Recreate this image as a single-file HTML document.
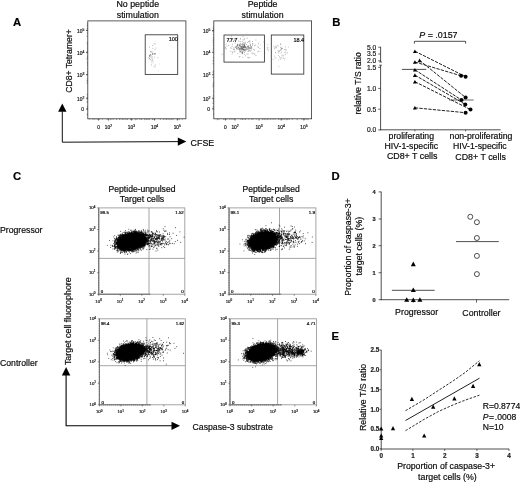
<!DOCTYPE html>
<html><head><meta charset="utf-8"><title>Figure</title>
<style>
html,body{margin:0;padding:0;background:#fff;}
body{width:520px;height:482px;overflow:hidden;font-family:"Liberation Sans",sans-serif;}
text{stroke:#000;stroke-width:0.18px;paint-order:stroke fill;}
svg{display:block;font-family:"Liberation Sans",sans-serif;will-change:transform;filter:grayscale(1) blur(0.3px);}
</style></head><body>
<svg width="520" height="482" viewBox="0 0 520 482">
<rect width="520" height="482" fill="#fff"/>
<text x="12.9" y="25.9" font-size="11.3" text-anchor="start" font-weight="bold" fill="#000">A</text>
<text x="332.2" y="25.8" font-size="11.3" text-anchor="start" font-weight="bold" fill="#000">B</text>
<text x="12.9" y="180.0" font-size="11.3" text-anchor="start" font-weight="bold" fill="#000">C</text>
<text x="331.6" y="179.7" font-size="11.3" text-anchor="start" font-weight="bold" fill="#000">D</text>
<text x="331.5" y="339.9" font-size="11.3" text-anchor="start" font-weight="bold" fill="#000">E</text>
<text x="137.8" y="7.4" font-size="8.8" text-anchor="middle" fill="#0a0a0a">No peptide</text>
<text x="137.8" y="17.6" font-size="8.8" text-anchor="middle" fill="#0a0a0a">stimulation</text>
<rect x="87.8" y="20.9" width="98.10" height="97.90" fill="none" stroke="#333" stroke-width="0.8"/>
<path d="M89.8 118.8v0.8M92.9 118.8v1.1M94.5 118.8v0.7M96.1 118.8v0.7M97.6 118.8v0.7M99.2 118.8v1.0M102.3 118.8v0.9M107.1 118.8v1.0M110.2 118.8v1.3M111.8 118.8v0.8M113.3 118.8v0.9M116.5 118.8v1.1M119.6 118.8v1.1M121.2 118.8v0.7M122.7 118.8v1.2M124.3 118.8v0.9M125.9 118.8v1.0M127.4 118.8v1.3M130.6 118.8v1.1M132.1 118.8v1.3M135.3 118.8v1.4M136.8 118.8v1.0M140.0 118.8v1.0M141.6 118.8v1.2M144.7 118.8v1.3M146.3 118.8v1.2M147.8 118.8v1.1M149.4 118.8v1.3M152.5 118.8v1.2M154.1 118.8v1.2M160.4 118.8v1.0M163.5 118.8v1.0M165.1 118.8v0.8M166.6 118.8v1.2M168.2 118.8v0.9M169.8 118.8v1.3M171.4 118.8v1.0M172.9 118.8v1.3M177.6 118.8v1.0M179.2 118.8v1.3M182.3 118.8v0.8M87.8 23.9h-0.9M87.8 25.4h-1.1M87.8 27.0h-0.7M87.8 28.5h-1.0M87.8 30.0h-1.4M87.8 33.1h-1.1M87.8 36.2h-1.3M87.8 42.3h-1.0M87.8 43.8h-1.1M87.8 45.3h-0.7M87.8 46.9h-0.8M87.8 48.4h-0.7M87.8 49.9h-0.8M87.8 51.5h-1.0M87.8 53.0h-1.3M87.8 56.1h-0.9M87.8 57.6h-1.0M87.8 59.1h-1.3M87.8 62.2h-1.0M87.8 63.7h-0.8M87.8 65.3h-0.9M87.8 68.3h-0.7M87.8 71.4h-0.8M87.8 72.9h-0.7M87.8 74.4h-1.4M87.8 79.0h-1.0M87.8 80.6h-1.2M87.8 82.1h-1.2M87.8 83.6h-0.9M87.8 94.4h-1.1M87.8 95.9h-0.7M87.8 97.4h-0.9M87.8 99.0h-1.2M87.8 102.0h-1.4M87.8 106.6h-0.9M87.8 108.1h-0.8M87.8 109.7h-1.1M87.8 114.3h-1.2" stroke="#333" stroke-width="0.5" fill="none"/>
<line x1="98.6" y1="118.8" x2="98.6" y2="120.5" stroke="#222" stroke-width="0.7"/>
<line x1="108.4" y1="118.8" x2="108.4" y2="120.5" stroke="#222" stroke-width="0.7"/>
<line x1="131.4" y1="118.8" x2="131.4" y2="120.5" stroke="#222" stroke-width="0.7"/>
<line x1="154.6" y1="118.8" x2="154.6" y2="120.5" stroke="#222" stroke-width="0.7"/>
<line x1="177.3" y1="118.8" x2="177.3" y2="120.5" stroke="#222" stroke-width="0.7"/>
<text x="80.8" y="32.9" font-size="4.9" text-anchor="middle" fill="#222">10<tspan dy="-1.86" font-size="3.43">5</tspan></text>
<line x1="86.0" y1="30.5" x2="87.8" y2="30.5" stroke="#222" stroke-width="0.7"/>
<text x="80.8" y="54.7" font-size="4.9" text-anchor="middle" fill="#222">10<tspan dy="-1.86" font-size="3.43">4</tspan></text>
<line x1="86.0" y1="52.300000000000004" x2="87.8" y2="52.300000000000004" stroke="#222" stroke-width="0.7"/>
<text x="80.8" y="77.2" font-size="4.9" text-anchor="middle" fill="#222">10<tspan dy="-1.86" font-size="3.43">3</tspan></text>
<line x1="86.0" y1="74.8" x2="87.8" y2="74.8" stroke="#222" stroke-width="0.7"/>
<text x="80.8" y="100.6" font-size="4.9" text-anchor="middle" fill="#222">10<tspan dy="-1.86" font-size="3.43">2</tspan></text>
<line x1="86.0" y1="98.19999999999999" x2="87.8" y2="98.19999999999999" stroke="#222" stroke-width="0.7"/>
<text x="82.6" y="110.9" font-size="4.9" text-anchor="middle" fill="#222">0</text>
<line x1="86.0" y1="108.9" x2="87.8" y2="108.9" stroke="#222" stroke-width="0.7"/>
<text x="98.6" y="128.6" font-size="4.8" text-anchor="middle" fill="#222">0</text>
<text x="108.4" y="128.6" font-size="4.8" text-anchor="middle" fill="#222">10<tspan dy="-1.82" font-size="3.36">2</tspan></text>
<text x="131.4" y="128.6" font-size="4.8" text-anchor="middle" fill="#222">10<tspan dy="-1.82" font-size="3.36">3</tspan></text>
<text x="154.6" y="128.6" font-size="4.8" text-anchor="middle" fill="#222">10<tspan dy="-1.82" font-size="3.36">4</tspan></text>
<text x="177.3" y="128.6" font-size="4.8" text-anchor="middle" fill="#222">10<tspan dy="-1.82" font-size="3.36">5</tspan></text>
<path d="M152.1 54.5h0.8M149.2 47.2h0.8M152.5 48.3h0.8M150.4 56.9h0.8M152.3 52.1h0.8M153.6 43.8h0.8M150.0 59.6h0.8M155.1 53.9h0.8M152.4 58.8h0.8M154.6 65.3h0.8M152.2 53.9h0.8M154.7 44.1h0.8M150.7 52.6h0.8M150.7 55.7h0.8M157.6 57.7h0.8M150.2 51.6h0.8M153.9 54.3h0.8M154.6 49.8h0.8M152.2 60.2h0.8M151.4 60.1h0.8M150.3 54.5h0.8M150.8 57.8h0.8M153.5 54.0h0.8M149.0 58.2h0.8M153.7 53.5h0.8M154.1 53.6h0.8M149.2 55.3h0.8M154.2 57.1h0.8M151.9 56.9h0.8M152.2 53.6h0.8M148.3 57.8h0.8M150.0 55.0h0.8M149.0 55.8h0.8M152.0 54.2h0.8M150.3 55.1h0.8M151.2 65.0h0.8M149.0 56.2h0.8M152.1 45.5h0.8M149.0 58.9h0.8M149.2 56.3h0.8M150.9 51.4h0.8M149.3 55.3h0.8M155.0 53.7h0.8M155.5 48.1h0.8M151.6 62.9h0.8" stroke="#777" stroke-width="0.8" fill="none" opacity="0.75"/>
<path d="M159.4 64.0h0.8M155.0 67.2h0.8M152.9 66.4h0.8M154.1 67.2h0.8M151.5 61.4h0.8M155.4 65.0h0.8M153.1 61.7h0.8M157.9 70.9h0.8" stroke="#999" stroke-width="0.8" fill="none" opacity="0.6"/>
<rect x="145.2" y="34.8" width="32.50" height="39.60" fill="none" stroke="#333" stroke-width="0.85"/>
<text x="177.9" y="41.4" font-size="5.5" text-anchor="end" fill="#111">100</text>
<text x="262.6" y="7.4" font-size="8.8" text-anchor="middle" fill="#0a0a0a">Peptide</text>
<text x="262.6" y="17.6" font-size="8.8" text-anchor="middle" fill="#0a0a0a">stimulation</text>
<rect x="213.8" y="20.9" width="97.80" height="97.90" fill="none" stroke="#333" stroke-width="0.8"/>
<path d="M217.4 118.8v1.4M218.9 118.8v1.0M223.6 118.8v1.0M225.2 118.8v0.9M226.7 118.8v0.9M229.9 118.8v1.1M231.4 118.8v0.7M233.0 118.8v1.1M234.6 118.8v0.7M240.8 118.8v0.9M242.4 118.8v1.2M243.9 118.8v0.8M245.5 118.8v1.3M248.6 118.8v0.8M251.8 118.8v1.2M253.3 118.8v0.7M256.4 118.8v0.8M262.7 118.8v1.3M264.3 118.8v1.3M265.8 118.8v0.9M267.4 118.8v1.3M269.0 118.8v0.8M270.5 118.8v0.9M272.1 118.8v0.8M273.6 118.8v0.8M275.2 118.8v0.9M278.3 118.8v1.1M279.9 118.8v0.9M281.5 118.8v0.9M283.0 118.8v1.2M284.6 118.8v0.8M286.2 118.8v1.4M287.7 118.8v1.3M289.3 118.8v1.0M292.4 118.8v1.1M297.1 118.8v1.3M301.8 118.8v0.9M303.3 118.8v0.8M304.9 118.8v1.2M306.5 118.8v0.8M308.0 118.8v1.3M213.8 27.0h-0.9M213.8 28.5h-1.0M213.8 30.0h-1.0M213.8 31.6h-1.4M213.8 34.6h-0.9M213.8 37.7h-0.9M213.8 39.2h-1.0M213.8 40.7h-1.1M213.8 42.3h-1.1M213.8 43.8h-0.9M213.8 45.3h-1.0M213.8 46.9h-0.7M213.8 48.4h-0.9M213.8 49.9h-1.1M213.8 57.6h-0.9M213.8 60.7h-1.2M213.8 63.7h-1.3M213.8 71.4h-1.1M213.8 72.9h-1.3M213.8 77.5h-1.3M213.8 82.1h-0.7M213.8 83.6h-1.0M213.8 85.2h-1.3M213.8 86.7h-1.1M213.8 91.3h-0.7M213.8 95.9h-1.1M213.8 99.0h-1.2M213.8 100.5h-0.8M213.8 102.0h-1.2M213.8 103.5h-1.2M213.8 106.6h-1.0M213.8 108.1h-1.2M213.8 114.3h-0.8" stroke="#333" stroke-width="0.5" fill="none"/>
<line x1="225.4" y1="118.8" x2="225.4" y2="120.5" stroke="#222" stroke-width="0.7"/>
<line x1="235.0" y1="118.8" x2="235.0" y2="120.5" stroke="#222" stroke-width="0.7"/>
<line x1="259.0" y1="118.8" x2="259.0" y2="120.5" stroke="#222" stroke-width="0.7"/>
<line x1="281.2" y1="118.8" x2="281.2" y2="120.5" stroke="#222" stroke-width="0.7"/>
<line x1="303.9" y1="118.8" x2="303.9" y2="120.5" stroke="#222" stroke-width="0.7"/>
<text x="206.8" y="32.9" font-size="4.9" text-anchor="middle" fill="#222">10<tspan dy="-1.86" font-size="3.43">5</tspan></text>
<line x1="212.0" y1="30.5" x2="213.8" y2="30.5" stroke="#222" stroke-width="0.7"/>
<text x="206.8" y="54.7" font-size="4.9" text-anchor="middle" fill="#222">10<tspan dy="-1.86" font-size="3.43">4</tspan></text>
<line x1="212.0" y1="52.300000000000004" x2="213.8" y2="52.300000000000004" stroke="#222" stroke-width="0.7"/>
<text x="206.8" y="77.2" font-size="4.9" text-anchor="middle" fill="#222">10<tspan dy="-1.86" font-size="3.43">3</tspan></text>
<line x1="212.0" y1="74.8" x2="213.8" y2="74.8" stroke="#222" stroke-width="0.7"/>
<text x="206.8" y="100.6" font-size="4.9" text-anchor="middle" fill="#222">10<tspan dy="-1.86" font-size="3.43">2</tspan></text>
<line x1="212.0" y1="98.19999999999999" x2="213.8" y2="98.19999999999999" stroke="#222" stroke-width="0.7"/>
<text x="208.60000000000002" y="110.9" font-size="4.9" text-anchor="middle" fill="#222">0</text>
<line x1="212.0" y1="108.9" x2="213.8" y2="108.9" stroke="#222" stroke-width="0.7"/>
<text x="225.4" y="128.6" font-size="4.8" text-anchor="middle" fill="#222">0</text>
<text x="235.0" y="128.6" font-size="4.8" text-anchor="middle" fill="#222">10<tspan dy="-1.82" font-size="3.36">2</tspan></text>
<text x="259.0" y="128.6" font-size="4.8" text-anchor="middle" fill="#222">10<tspan dy="-1.82" font-size="3.36">3</tspan></text>
<text x="281.2" y="128.6" font-size="4.8" text-anchor="middle" fill="#222">10<tspan dy="-1.82" font-size="3.36">4</tspan></text>
<text x="303.9" y="128.6" font-size="4.8" text-anchor="middle" fill="#222">10<tspan dy="-1.82" font-size="3.36">5</tspan></text>
<path d="M242.1 53.6h0.8M239.5 51.7h0.8M245.5 47.5h0.8M241.2 52.9h0.8M239.7 41.4h0.8M240.4 51.5h0.8M235.1 47.5h0.8M253.7 53.8h0.8M248.3 57.9h0.8M244.3 47.0h0.8M230.0 47.9h0.8M250.8 47.0h0.8M242.2 49.8h0.8M247.7 46.7h0.8M239.6 45.8h0.8M225.6 44.2h0.8M251.5 53.3h0.8M228.1 45.4h0.8M241.7 44.4h0.8M249.9 45.1h0.8M243.6 47.3h0.8M235.1 46.7h0.8M241.6 49.1h0.8M239.3 49.7h0.8M243.2 47.0h0.8M243.7 39.8h0.8M254.4 54.3h0.8M240.2 38.7h0.8M241.0 50.7h0.8M221.7 54.3h0.8M237.4 44.7h0.8M237.7 48.1h0.8M246.1 48.0h0.8M246.2 44.7h0.8M248.1 46.5h0.8M241.7 51.8h0.8M245.3 50.9h0.8M257.5 46.3h0.8M247.3 42.5h0.8M258.0 43.7h0.8M232.3 44.4h0.8M253.9 50.1h0.8M231.4 48.2h0.8M239.6 44.4h0.8M258.4 51.3h0.8M248.4 50.8h0.8M239.4 49.6h0.8M242.6 36.5h0.8M241.8 52.8h0.8M239.7 51.7h0.8M239.5 48.3h0.8M245.4 49.7h0.8M250.2 45.3h0.8M245.2 55.8h0.8M250.8 47.8h0.8M245.8 49.4h0.8M248.4 49.6h0.8M247.3 49.1h0.8M242.1 52.2h0.8M252.4 43.8h0.8M236.5 48.7h0.8M236.2 46.0h0.8M241.5 48.3h0.8M238.9 56.9h0.8M248.7 51.0h0.8M233.7 40.7h0.8M243.9 50.3h0.8M242.7 51.1h0.8M225.9 48.9h0.8M252.0 41.5h0.8M244.8 47.5h0.8M239.9 38.9h0.8M233.5 47.2h0.8M250.1 47.8h0.8M255.3 45.0h0.8M255.5 40.0h0.8M242.9 49.1h0.8M247.6 51.5h0.8M236.7 38.2h0.8M241.7 41.5h0.8M244.1 43.0h0.8M241.1 46.7h0.8M244.3 44.5h0.8M252.3 45.3h0.8M241.6 49.0h0.8M242.4 52.7h0.8M242.0 45.3h0.8M250.7 49.9h0.8M237.0 44.7h0.8M244.2 52.5h0.8M249.0 47.9h0.8M225.2 48.1h0.8M234.4 40.0h0.8M237.8 47.2h0.8M242.5 57.1h0.8M241.6 43.9h0.8M251.3 48.6h0.8M239.9 43.3h0.8M242.0 52.9h0.8M247.7 46.3h0.8M249.3 48.5h0.8M233.2 49.2h0.8M246.5 54.1h0.8M242.8 42.6h0.8M247.4 57.5h0.8M237.4 53.4h0.8M243.4 50.0h0.8M243.7 44.0h0.8M251.1 46.5h0.8M244.7 49.9h0.8M233.5 49.3h0.8M246.9 46.8h0.8M239.0 48.5h0.8M246.9 47.2h0.8M245.4 47.8h0.8M230.5 51.3h0.8M252.0 43.7h0.8M259.6 48.5h0.8M240.6 49.2h0.8M254.1 45.6h0.8M253.3 49.3h0.8M237.8 49.4h0.8M240.7 49.1h0.8M248.8 47.8h0.8M231.7 54.1h0.8M255.6 55.4h0.8M244.5 50.9h0.8M249.4 41.2h0.8M240.9 47.5h0.8M236.1 47.2h0.8M247.2 46.3h0.8M232.4 52.6h0.8M250.2 48.6h0.8M248.2 41.5h0.8M244.8 47.6h0.8M257.6 51.8h0.8M241.9 53.6h0.8M248.4 45.6h0.8M239.6 56.7h0.8M239.0 44.8h0.8M242.0 43.8h0.8M242.9 47.5h0.8M244.3 38.6h0.8M232.2 39.3h0.8M248.1 48.1h0.8M225.1 47.2h0.8M249.9 46.7h0.8M242.6 51.3h0.8M226.5 46.1h0.8M247.7 54.0h0.8M242.7 39.9h0.8M244.9 42.1h0.8M239.8 50.0h0.8M234.5 51.7h0.8M247.1 48.8h0.8M243.4 44.3h0.8M244.7 47.8h0.8M237.1 45.6h0.8M257.8 47.5h0.8M248.6 47.5h0.8M245.7 48.3h0.8M231.7 46.3h0.8M238.0 47.7h0.8M234.1 49.1h0.8M238.0 41.0h0.8M249.5 43.0h0.8M252.5 53.2h0.8M240.1 51.8h0.8M234.4 51.0h0.8M244.5 50.1h0.8M242.9 49.5h0.8M250.3 44.4h0.8M239.4 50.4h0.8M251.5 47.7h0.8M243.9 54.3h0.8M231.3 36.3h0.8M249.3 50.4h0.8M249.4 41.0h0.8M244.8 46.8h0.8M241.9 49.0h0.8M249.3 57.5h0.8M229.1 41.5h0.8M232.5 51.9h0.8M237.6 47.7h0.8M246.8 38.2h0.8M250.3 51.1h0.8M239.5 45.0h0.8M240.2 48.5h0.8M244.3 50.2h0.8M234.8 43.2h0.8" stroke="#666" stroke-width="0.8" fill="none" opacity="0.75"/>
<path d="M241.6 46.9h0.8M239.4 49.0h0.8M242.5 48.0h0.8M243.0 49.7h0.8M240.5 46.4h0.8M243.9 47.7h0.8M237.4 45.8h0.8M243.0 47.2h0.8M240.5 44.9h0.8M241.0 48.1h0.8M244.0 46.1h0.8M238.9 45.9h0.8M236.3 48.4h0.8M244.4 46.6h0.8M243.1 49.3h0.8M241.6 46.8h0.8M244.1 45.5h0.8M242.8 44.9h0.8M244.0 45.3h0.8M241.8 46.9h0.8M237.4 45.8h0.8M242.6 46.2h0.8M239.4 45.4h0.8M239.8 46.6h0.8M240.7 48.7h0.8M242.8 46.2h0.8M236.1 46.8h0.8M243.4 46.4h0.8M246.5 49.7h0.8M244.9 46.3h0.8M248.0 48.0h0.8M236.5 49.1h0.8M237.4 44.3h0.8M244.3 49.3h0.8M242.0 48.4h0.8M244.7 43.8h0.8M242.4 47.8h0.8M238.6 47.9h0.8M240.4 47.2h0.8M241.6 49.5h0.8" stroke="#444" stroke-width="0.8" fill="none" opacity="0.8"/>
<path d="M280.5 49.3h0.8M273.5 46.7h0.8M286.8 52.6h0.8M283.5 55.1h0.8M274.4 47.9h0.8M278.2 55.5h0.8M276.0 47.4h0.8M277.3 45.3h0.8M278.8 50.6h0.8M276.3 45.9h0.8M280.2 59.3h0.8M280.4 44.3h0.8M281.5 55.7h0.8M281.2 52.0h0.8M278.0 51.2h0.8M275.2 52.5h0.8M285.0 52.1h0.8M285.1 54.5h0.8M280.4 43.8h0.8M284.0 52.3h0.8M272.7 59.4h0.8M284.6 58.2h0.8M285.9 50.0h0.8M280.6 46.9h0.8M284.1 49.5h0.8M288.0 47.0h0.8M283.1 58.4h0.8M280.9 49.4h0.8M275.7 57.5h0.8M284.1 59.9h0.8M278.5 60.0h0.8M282.5 55.2h0.8M281.9 48.4h0.8M279.2 56.6h0.8M279.2 51.5h0.8M280.6 53.1h0.8M285.0 47.0h0.8M281.5 48.2h0.8M280.0 47.6h0.8M274.2 48.7h0.8M274.6 58.7h0.8M274.8 47.8h0.8M281.0 48.5h0.8M285.1 49.9h0.8M274.1 56.2h0.8M278.5 66.6h0.8M276.3 47.8h0.8M280.0 44.4h0.8M282.5 58.2h0.8M286.5 53.2h0.8M279.5 57.9h0.8M284.8 49.5h0.8M277.9 46.2h0.8M280.6 50.2h0.8M282.8 56.2h0.8M275.3 52.9h0.8M281.2 48.4h0.8M280.4 58.0h0.8M279.9 50.3h0.8M278.5 52.2h0.8M277.9 53.2h0.8M275.1 46.6h0.8M281.1 57.4h0.8M277.5 50.7h0.8M282.3 48.6h0.8" stroke="#888" stroke-width="0.8" fill="none" opacity="0.7"/>
<path d="M267.8 49.4h0.8M263.1 41.8h0.8M267.6 44.0h0.8M267.0 48.6h0.8M264.6 43.9h0.8M264.5 52.7h0.8M260.4 51.3h0.8M266.8 45.0h0.8M267.7 47.3h0.8M264.0 47.2h0.8M267.1 49.4h0.8M267.1 47.4h0.8M260.2 45.0h0.8M268.3 50.1h0.8M264.2 45.0h0.8M263.5 42.3h0.8M268.2 51.1h0.8M266.7 49.2h0.8M271.0 43.5h0.8M266.9 47.6h0.8" stroke="#aaa" stroke-width="0.8" fill="none" opacity="0.6"/>
<rect x="224.0" y="35.0" width="40.40" height="27.10" fill="none" stroke="#333" stroke-width="0.85"/>
<text x="226.6" y="41.6" font-size="5.5" text-anchor="start" fill="#111">77.7</text>
<rect x="271.3" y="35.0" width="32.50" height="39.10" fill="none" stroke="#333" stroke-width="0.85"/>
<text x="304.2" y="41.6" font-size="5.5" text-anchor="end" fill="#111">18.4</text>
<text transform="translate(72.2 61.0) rotate(-90)" font-size="8.65" text-anchor="middle" fill="#0a0a0a">CD8+ Tetramer+</text>
<path d="M62.3 111.5V142.2L178.5 141.6" stroke="#111" stroke-width="1" fill="none"/>
<path d="M58.1 111.8L66.5 111.8L62.3 103.6Z" fill="#000"/>
<path d="M177.8 137.4L177.8 145.8L186.3 141.6Z" fill="#000"/>
<text x="190.6" y="145.5" font-size="8.9" text-anchor="start" fill="#0a0a0a">CFSE</text>
<line x1="380.6" y1="46.8" x2="380.6" y2="62.0" stroke="#222" stroke-width="0.8"/>
<line x1="380.6" y1="65.2" x2="380.6" y2="130.2" stroke="#222" stroke-width="0.8"/>
<line x1="380.20000000000005" y1="129.8" x2="500.6" y2="129.8" stroke="#222" stroke-width="0.8"/>
<line x1="379.20000000000005" y1="62.0" x2="382.0" y2="62.0" stroke="#222" stroke-width="0.7"/>
<line x1="379.20000000000005" y1="65.2" x2="382.0" y2="65.2" stroke="#222" stroke-width="0.7"/>
<text x="376.2" y="49.6" font-size="6.7" text-anchor="end" fill="#222">5.0</text>
<line x1="378.20000000000005" y1="47.2" x2="380.6" y2="47.2" stroke="#222" stroke-width="0.7"/>
<text x="376.2" y="56.4" font-size="6.7" text-anchor="end" fill="#222">3.5</text>
<line x1="378.20000000000005" y1="54.0" x2="380.6" y2="54.0" stroke="#222" stroke-width="0.7"/>
<text x="376.2" y="63.199999999999996" font-size="6.7" text-anchor="end" fill="#222">2.0</text>
<line x1="378.20000000000005" y1="60.8" x2="380.6" y2="60.8" stroke="#222" stroke-width="0.7"/>
<text x="376.2" y="69.7" font-size="6.7" text-anchor="end" fill="#222">1.5</text>
<line x1="378.20000000000005" y1="67.3" x2="380.6" y2="67.3" stroke="#222" stroke-width="0.7"/>
<text x="376.2" y="90.80000000000001" font-size="6.7" text-anchor="end" fill="#222">1.0</text>
<line x1="378.20000000000005" y1="88.4" x2="380.6" y2="88.4" stroke="#222" stroke-width="0.7"/>
<text x="376.2" y="111.60000000000001" font-size="6.7" text-anchor="end" fill="#222">0.5</text>
<line x1="378.20000000000005" y1="109.2" x2="380.6" y2="109.2" stroke="#222" stroke-width="0.7"/>
<text x="376.2" y="132.3" font-size="6.7" text-anchor="end" fill="#222">0.0</text>
<line x1="378.20000000000005" y1="129.9" x2="380.6" y2="129.9" stroke="#222" stroke-width="0.7"/>
<line x1="414.9" y1="129.8" x2="414.9" y2="131.4" stroke="#222" stroke-width="0.7"/>
<line x1="465.6" y1="129.8" x2="465.6" y2="131.4" stroke="#222" stroke-width="0.7"/>
<text transform="translate(361.4 83.4) rotate(-90)" font-size="8.55" text-anchor="middle" fill="#0a0a0a">relative T/S ratio</text>
<text x="438.4" y="38.3" font-size="8.9" text-anchor="middle" fill="#0a0a0a"><tspan font-style="italic">P</tspan> = .0157</text>
<path d="M414.4 43.6V41.3H465.6V43.6" stroke="#222" stroke-width="0.8" fill="none"/>
<line x1="401.9" y1="69.4" x2="426.2" y2="69.4" stroke="#222" stroke-width="0.8"/>
<line x1="449.0" y1="100.0" x2="473.7" y2="100.0" stroke="#5a5a5a" stroke-width="0.9"/>
<line x1="414.9" y1="51.2" x2="465.6" y2="76.7" stroke="#222" stroke-width="1.0" stroke-dasharray="3.3 1.2"/>
<line x1="414.9" y1="62.0" x2="461.1" y2="75.8" stroke="#222" stroke-width="1.0" stroke-dasharray="3.3 1.2"/>
<line x1="419.6" y1="60.4" x2="465.6" y2="97.5" stroke="#222" stroke-width="1.0" stroke-dasharray="3.3 1.2"/>
<line x1="414.9" y1="69.8" x2="461.5" y2="100.0" stroke="#222" stroke-width="1.0" stroke-dasharray="3.3 1.2"/>
<line x1="414.9" y1="75.1" x2="465.3" y2="104.4" stroke="#222" stroke-width="1.0" stroke-dasharray="3.3 1.2"/>
<line x1="414.9" y1="81.7" x2="470.5" y2="109.6" stroke="#222" stroke-width="1.0" stroke-dasharray="3.3 1.2"/>
<line x1="414.9" y1="107.8" x2="465.6" y2="112.7" stroke="#222" stroke-width="1.0" stroke-dasharray="3.3 1.2"/>
<path d="M412.90 53.00L416.90 53.00L414.90 49.40Z" fill="#000"/>
<path d="M412.90 63.80L416.90 63.80L414.90 60.20Z" fill="#000"/>
<path d="M417.60 62.20L421.60 62.20L419.60 58.60Z" fill="#000"/>
<path d="M412.90 71.60L416.90 71.60L414.90 68.00Z" fill="#000"/>
<path d="M412.90 76.90L416.90 76.90L414.90 73.30Z" fill="#000"/>
<path d="M412.90 83.50L416.90 83.50L414.90 79.90Z" fill="#000"/>
<path d="M412.90 109.60L416.90 109.60L414.90 106.00Z" fill="#000"/>
<circle cx="461.1" cy="75.8" r="2.0" fill="#000"/>
<circle cx="465.6" cy="76.7" r="2.0" fill="#000"/>
<circle cx="465.6" cy="97.5" r="2.0" fill="#000"/>
<circle cx="461.5" cy="100.0" r="2.0" fill="#000"/>
<circle cx="465.3" cy="104.4" r="2.0" fill="#000"/>
<circle cx="470.5" cy="109.6" r="2.0" fill="#000"/>
<circle cx="465.6" cy="112.7" r="2.0" fill="#000"/>
<text x="411.3" y="138.7" font-size="8.7" text-anchor="middle" fill="#0a0a0a">proliferating</text>
<text x="411.3" y="148.95" font-size="8.7" text-anchor="middle" fill="#0a0a0a">HIV-1-specific</text>
<text x="412.2" y="159.2" font-size="8.85" text-anchor="middle" fill="#0a0a0a">CD8+ T cells</text>
<text x="481.0" y="138.9" font-size="8.7" text-anchor="middle" fill="#0a0a0a">non-proliferating</text>
<text x="479.9" y="149.1" font-size="8.7" text-anchor="middle" fill="#0a0a0a">HIV-1-specific</text>
<text x="480.6" y="159.5" font-size="8.85" text-anchor="middle" fill="#0a0a0a">CD8+ T cells</text>
<rect x="98.8" y="207.9" width="86.00" height="86.30" fill="none" stroke="#959595" stroke-width="0.85"/>
<line x1="149.0" y1="207.9" x2="149.0" y2="294.2" stroke="#959595" stroke-width="0.85"/>
<line x1="98.8" y1="258.4" x2="184.8" y2="258.4" stroke="#959595" stroke-width="0.85"/>
<line x1="98.8" y1="207.9" x2="98.8" y2="294.2" stroke="#777" stroke-width="1.0"/>
<line x1="98.5" y1="208.9" x2="98.5" y2="294.2" stroke="#444" stroke-width="0.8" stroke-dasharray="0.5 1.2"/>
<line x1="98.8" y1="294.2" x2="150.4" y2="294.2" stroke="#777" stroke-width="1.0"/>
<line x1="98.8" y1="294.4" x2="150.4" y2="294.4" stroke="#555" stroke-width="0.7" stroke-dasharray="0.6 1.4"/>
<text x="92.2" y="209.4" font-size="4.3" text-anchor="middle" fill="#222">10<tspan dy="-1.63" font-size="3.01">4</tspan></text>
<line x1="97.2" y1="207.9" x2="98.8" y2="207.9" stroke="#444" stroke-width="0.6"/>
<text x="98.6" y="302.8" font-size="4.3" text-anchor="middle" fill="#222">10<tspan dy="-1.63" font-size="3.01">0</tspan></text>
<line x1="98.8" y1="294.2" x2="98.8" y2="295.8" stroke="#444" stroke-width="0.6"/>
<text x="92.2" y="230.975" font-size="4.3" text-anchor="middle" fill="#222">10<tspan dy="-1.63" font-size="3.01">3</tspan></text>
<line x1="97.2" y1="229.475" x2="98.8" y2="229.475" stroke="#444" stroke-width="0.6"/>
<text x="120.1" y="302.8" font-size="4.3" text-anchor="middle" fill="#222">10<tspan dy="-1.63" font-size="3.01">1</tspan></text>
<line x1="120.3" y1="294.2" x2="120.3" y2="295.8" stroke="#444" stroke-width="0.6"/>
<text x="92.2" y="252.55" font-size="4.3" text-anchor="middle" fill="#222">10<tspan dy="-1.63" font-size="3.01">2</tspan></text>
<line x1="97.2" y1="251.05" x2="98.8" y2="251.05" stroke="#444" stroke-width="0.6"/>
<text x="141.60000000000002" y="302.8" font-size="4.3" text-anchor="middle" fill="#222">10<tspan dy="-1.63" font-size="3.01">2</tspan></text>
<line x1="141.8" y1="294.2" x2="141.8" y2="295.8" stroke="#444" stroke-width="0.6"/>
<text x="92.2" y="274.125" font-size="4.3" text-anchor="middle" fill="#222">10<tspan dy="-1.63" font-size="3.01">1</tspan></text>
<line x1="97.2" y1="272.625" x2="98.8" y2="272.625" stroke="#444" stroke-width="0.6"/>
<text x="163.10000000000002" y="302.8" font-size="4.3" text-anchor="middle" fill="#222">10<tspan dy="-1.63" font-size="3.01">3</tspan></text>
<line x1="163.3" y1="294.2" x2="163.3" y2="295.8" stroke="#444" stroke-width="0.6"/>
<text x="92.2" y="295.7" font-size="4.3" text-anchor="middle" fill="#222">10<tspan dy="-1.63" font-size="3.01">0</tspan></text>
<line x1="97.2" y1="294.2" x2="98.8" y2="294.2" stroke="#444" stroke-width="0.6"/>
<text x="184.60000000000002" y="302.8" font-size="4.3" text-anchor="middle" fill="#222">10<tspan dy="-1.63" font-size="3.01">4</tspan></text>
<line x1="184.8" y1="294.2" x2="184.8" y2="295.8" stroke="#444" stroke-width="0.6"/>
<text x="100.3" y="213.6" font-size="4.4" text-anchor="start" fill="#000">98.5</text>
<text x="183.8" y="213.6" font-size="4.4" text-anchor="end" fill="#000">1.52</text>
<text x="100.8" y="293.0" font-size="4.4" text-anchor="start" fill="#000">0</text>
<text x="183.60000000000002" y="293.0" font-size="4.4" text-anchor="end" fill="#000">0</text>
<polygon points="144.5,238.2 144.2,239.0 144.1,239.7 144.4,240.3 144.3,241.0 144.2,241.7 144.0,242.4 143.5,243.2 142.8,243.9 141.9,244.5 140.7,245.0 139.8,245.6 139.0,246.2 137.9,246.7 137.0,247.3 136.0,247.8 134.7,248.0 133.6,248.3 132.5,248.6 131.3,248.6 130.2,248.4 129.1,248.5 127.9,249.2 126.5,249.6 125.5,249.4 124.7,249.0 123.6,248.9 122.4,248.9 121.6,248.5 121.4,247.7 120.8,247.3 119.7,247.1 119.3,246.6 118.7,246.1 118.4,245.6 118.6,244.8 118.9,244.2 118.6,243.6 118.1,243.1 118.0,242.4 118.4,241.8 118.9,241.1 119.2,240.5 119.7,239.8 120.4,239.3 121.1,238.7 121.5,238.0 122.0,237.3 123.0,236.8 123.9,236.3 124.8,235.7 125.8,235.2 126.9,234.8 127.9,234.3 129.1,234.0 130.3,233.9 131.5,233.6 132.7,233.3 133.9,233.0 135.0,233.2 135.9,233.7 136.9,233.8 138.1,233.8 139.1,234.0 139.9,234.3 141.0,234.5 141.8,234.9 142.3,235.5 143.0,235.9 144.0,236.2 144.4,236.8 144.4,237.6" fill="#000"/>
<path d="M146.6 244.4h0.75M141.6 243.7h0.75M136.6 234.2h0.75M118.6 237.3h0.75M118.3 237.4h0.75M142.4 243.2h0.75M129.8 234.4h0.75M126.9 249.0h0.75M144.5 239.3h0.75M129.8 249.0h0.75M121.9 249.9h0.75M143.3 236.8h0.75M137.7 233.3h0.75M145.4 239.6h0.75M119.0 247.2h0.75M123.5 250.5h0.75M115.7 242.8h0.75M137.9 234.1h0.75M134.7 234.0h0.75M143.5 238.5h0.75M130.2 234.2h0.75M150.8 237.1h0.75M117.0 245.0h0.75M139.0 247.9h0.75M124.3 249.5h0.75M131.8 250.6h0.75M129.2 252.1h0.75M125.2 235.6h0.75M142.7 243.8h0.75M144.5 242.4h0.75M123.8 234.4h0.75M118.4 237.7h0.75M120.9 248.2h0.75M140.1 234.3h0.75M139.3 234.8h0.75M135.6 247.1h0.75M140.4 234.8h0.75M121.9 249.0h0.75M134.7 250.3h0.75M117.0 243.0h0.75M129.1 232.8h0.75M123.8 249.9h0.75M139.6 245.7h0.75M120.4 235.7h0.75M140.0 247.1h0.75M131.1 233.5h0.75M142.2 244.7h0.75M140.0 234.0h0.75M137.0 246.9h0.75M125.4 235.4h0.75M141.8 246.7h0.75M132.6 248.3h0.75M117.5 243.4h0.75M126.2 248.9h0.75M143.2 237.4h0.75M144.2 243.6h0.75M147.5 244.1h0.75M144.0 237.6h0.75M127.1 233.1h0.75M137.0 247.4h0.75M143.4 243.8h0.75M122.0 248.2h0.75M121.8 247.7h0.75M123.4 234.5h0.75M120.1 237.9h0.75M140.8 245.3h0.75M119.9 248.6h0.75M142.6 233.8h0.75M117.8 240.9h0.75M118.1 248.6h0.75M127.0 235.0h0.75M131.2 231.6h0.75M138.3 232.7h0.75M119.9 237.2h0.75M127.1 249.6h0.75M143.8 243.3h0.75M131.9 233.5h0.75M119.0 237.8h0.75M120.1 247.3h0.75M119.7 238.5h0.75M123.1 236.2h0.75M140.2 248.7h0.75M131.6 232.8h0.75M117.5 245.0h0.75M150.5 239.5h0.75M139.8 246.2h0.75M144.7 234.9h0.75M143.2 243.4h0.75M116.5 242.6h0.75M115.5 244.3h0.75M136.2 232.7h0.75M119.9 248.3h0.75M137.6 250.1h0.75M120.3 249.2h0.75M143.4 244.8h0.75M120.2 253.2h0.75M130.5 248.5h0.75M144.4 238.9h0.75M119.7 247.7h0.75M123.3 250.1h0.75M134.5 248.0h0.75M144.4 235.0h0.75M135.3 248.3h0.75M119.7 249.8h0.75M140.8 244.5h0.75M134.7 232.1h0.75M116.8 246.3h0.75M134.7 248.6h0.75M121.2 252.4h0.75M135.3 232.7h0.75M115.4 246.8h0.75M117.8 242.1h0.75M135.7 234.0h0.75M137.3 233.7h0.75M122.7 248.6h0.75M119.9 247.3h0.75M143.6 238.6h0.75M129.7 250.3h0.75M128.2 249.1h0.75M119.1 247.6h0.75M121.3 236.5h0.75M142.1 235.4h0.75M147.0 241.0h0.75M143.1 233.3h0.75M142.4 245.8h0.75M118.4 237.3h0.75M143.2 239.1h0.75M118.5 235.3h0.75M142.2 243.2h0.75M133.7 248.0h0.75M123.5 250.5h0.75M140.3 235.1h0.75M140.4 247.2h0.75M116.1 238.6h0.75M121.3 235.7h0.75M132.8 231.3h0.75M138.1 248.7h0.75M115.7 243.2h0.75M117.3 247.9h0.75M114.1 241.9h0.75M133.7 248.2h0.75M118.3 244.6h0.75M119.0 245.6h0.75M118.3 244.7h0.75M116.9 242.6h0.75M147.6 237.9h0.75M115.2 246.9h0.75M122.0 236.3h0.75M120.7 250.4h0.75M143.6 236.5h0.75M121.5 238.1h0.75M145.6 239.5h0.75M123.2 235.5h0.75M124.1 252.0h0.75M110.5 245.3h0.75M140.8 234.3h0.75M126.8 235.3h0.75M124.7 250.0h0.75M121.3 250.8h0.75M116.9 243.3h0.75M136.5 248.8h0.75M119.5 247.7h0.75M135.8 233.0h0.75M135.5 233.6h0.75M117.2 244.3h0.75M117.7 244.1h0.75M117.6 235.1h0.75M124.8 250.8h0.75M128.4 249.2h0.75M119.9 237.7h0.75M146.6 240.0h0.75M141.0 233.2h0.75M144.8 240.7h0.75M144.0 238.6h0.75M141.3 235.5h0.75M121.3 236.6h0.75M143.1 233.7h0.75M118.8 238.6h0.75M124.2 235.0h0.75M123.1 235.6h0.75M123.0 236.8h0.75M130.2 233.6h0.75M137.5 246.4h0.75M131.2 234.3h0.75M119.1 235.7h0.75M135.2 233.4h0.75M115.4 241.5h0.75M128.2 249.1h0.75M126.7 249.5h0.75M120.9 237.6h0.75M148.6 240.8h0.75M145.1 240.1h0.75M134.0 233.9h0.75M142.4 234.7h0.75M144.6 238.9h0.75M118.6 240.0h0.75M148.5 236.0h0.75M119.9 248.1h0.75M121.9 237.8h0.75M139.6 245.4h0.75M143.1 238.8h0.75M142.9 244.6h0.75M148.4 243.2h0.75M143.9 245.4h0.75M126.9 235.3h0.75M127.8 234.7h0.75M143.4 240.8h0.75M125.3 233.9h0.75M126.6 232.9h0.75M121.0 238.4h0.75M116.6 246.8h0.75M132.6 251.4h0.75M124.5 232.0h0.75M143.2 239.2h0.75M135.2 232.6h0.75M127.6 248.8h0.75M140.2 246.9h0.75M114.4 246.0h0.75M123.6 248.3h0.75M118.2 247.4h0.75M141.4 245.7h0.75M121.9 250.4h0.75M119.3 237.9h0.75M121.7 248.7h0.75M145.0 235.0h0.75M115.6 241.2h0.75M143.6 241.3h0.75M122.7 232.4h0.75M124.6 251.0h0.75M144.9 237.0h0.75M116.5 239.1h0.75M119.7 247.3h0.75M120.1 250.8h0.75M117.6 239.3h0.75M134.8 231.2h0.75M143.9 238.5h0.75M120.1 247.4h0.75M134.9 232.8h0.75M147.8 240.1h0.75M135.1 231.7h0.75M114.8 240.9h0.75M137.2 233.9h0.75M122.6 234.8h0.75M122.6 251.6h0.75M118.5 241.9h0.75M137.6 248.6h0.75M144.1 234.6h0.75M119.7 239.3h0.75M116.6 246.5h0.75M132.0 248.5h0.75M132.9 232.3h0.75M143.4 242.6h0.75M131.0 232.2h0.75M118.7 240.6h0.75M142.3 232.2h0.75M117.2 245.7h0.75M137.9 247.5h0.75M137.7 246.5h0.75M122.4 249.9h0.75M120.2 248.6h0.75M140.5 245.7h0.75M143.1 238.4h0.75M142.4 243.5h0.75M132.4 232.8h0.75M119.5 239.8h0.75M117.4 243.6h0.75M143.1 240.0h0.75M142.9 229.5h0.75M117.4 241.2h0.75M131.6 233.8h0.75M143.1 236.0h0.75M135.6 232.1h0.75M132.7 252.0h0.75M136.0 247.0h0.75M142.6 242.4h0.75M118.7 241.7h0.75M115.1 247.5h0.75M145.1 232.4h0.75M119.8 239.8h0.75M141.8 244.2h0.75M132.3 251.9h0.75M120.4 237.4h0.75M119.6 234.5h0.75M118.6 246.7h0.75M142.9 237.1h0.75M137.3 252.1h0.75M131.9 248.3h0.75M140.8 234.7h0.75M138.0 231.2h0.75M132.1 234.2h0.75M120.1 236.9h0.75M151.0 240.8h0.75M129.6 234.4h0.75M120.7 234.3h0.75M118.9 240.0h0.75M144.3 243.8h0.75M131.9 248.8h0.75M118.5 245.1h0.75M133.3 248.1h0.75M123.8 236.5h0.75M126.8 235.4h0.75M143.6 240.1h0.75M136.3 250.3h0.75M141.2 231.3h0.75M143.4 246.1h0.75M143.0 243.1h0.75M138.7 230.9h0.75M117.4 247.0h0.75M135.2 233.5h0.75M119.9 238.1h0.75M134.6 247.7h0.75M126.5 235.4h0.75M140.9 245.5h0.75M131.2 251.0h0.75M139.8 245.8h0.75M136.4 233.7h0.75M138.8 246.2h0.75M126.6 249.7h0.75M145.3 244.6h0.75M150.4 240.9h0.75M120.5 235.1h0.75M118.3 245.3h0.75M131.8 248.7h0.75M123.6 248.6h0.75M152.1 236.3h0.75M146.7 243.7h0.75M140.2 234.6h0.75M127.4 235.1h0.75M143.6 237.4h0.75M133.7 234.1h0.75M140.6 245.1h0.75M135.5 234.2h0.75M138.0 247.2h0.75M141.5 234.8h0.75M118.5 241.0h0.75M137.6 246.4h0.75M125.1 233.9h0.75M142.8 242.2h0.75M120.1 239.3h0.75M130.5 249.4h0.75M120.0 239.1h0.75M134.7 232.4h0.75M136.8 247.9h0.75M127.9 234.9h0.75M126.7 234.6h0.75M134.0 234.0h0.75M136.6 233.6h0.75M114.2 245.7h0.75M140.3 235.4h0.75M139.1 233.7h0.75M137.4 246.8h0.75M121.4 250.5h0.75M123.2 248.5h0.75M145.3 238.3h0.75M118.2 247.0h0.75M142.2 244.3h0.75M135.2 232.4h0.75M125.5 251.3h0.75M121.0 249.6h0.75M145.9 241.3h0.75M146.3 235.1h0.75M116.8 244.0h0.75M116.7 242.8h0.75M142.5 237.3h0.75M137.6 246.6h0.75M132.3 248.3h0.75M147.0 239.4h0.75M125.4 235.8h0.75M143.7 239.2h0.75M117.1 240.7h0.75M125.0 235.0h0.75M138.2 234.4h0.75M145.9 240.4h0.75M118.3 244.6h0.75M130.0 249.5h0.75M121.3 247.7h0.75M119.4 240.1h0.75M142.5 246.4h0.75M128.7 233.6h0.75M135.2 233.9h0.75M118.4 251.0h0.75M136.6 233.4h0.75M120.7 248.7h0.75M131.6 230.8h0.75M133.3 248.5h0.75M119.3 247.1h0.75M135.2 229.4h0.75M135.7 231.0h0.75M147.0 240.8h0.75M143.9 236.3h0.75M133.2 251.3h0.75M120.4 238.0h0.75M117.3 243.0h0.75M120.1 246.8h0.75M144.9 239.2h0.75M142.9 237.2h0.75M144.5 234.7h0.75M134.4 232.7h0.75M142.1 232.3h0.75M121.8 237.9h0.75M123.7 236.3h0.75M117.8 242.4h0.75M116.4 237.6h0.75M117.7 243.5h0.75M143.3 236.1h0.75M127.9 249.2h0.75M142.8 244.5h0.75M144.2 236.0h0.75M130.9 249.4h0.75M116.9 242.9h0.75M140.9 244.2h0.75M128.9 248.8h0.75M129.2 249.4h0.75M142.7 242.6h0.75M136.9 233.1h0.75M116.9 241.0h0.75M137.0 248.1h0.75M116.6 246.8h0.75M118.9 238.8h0.75M127.3 249.6h0.75M134.7 247.9h0.75M121.6 248.9h0.75M145.3 238.7h0.75M138.1 233.8h0.75M118.1 241.7h0.75M129.5 249.5h0.75M127.5 253.7h0.75M141.0 246.6h0.75M138.2 234.5h0.75M144.1 241.3h0.75M118.9 247.0h0.75M143.9 244.0h0.75M142.9 236.7h0.75M141.1 246.4h0.75M124.2 249.1h0.75M118.4 238.5h0.75M136.1 231.6h0.75M128.0 234.0h0.75M129.8 232.8h0.75M132.1 233.3h0.75M142.8 234.2h0.75M138.3 234.4h0.75M130.5 234.4h0.75M116.4 244.8h0.75M112.6 240.8h0.75M132.0 233.5h0.75M116.3 238.7h0.75M118.5 246.5h0.75M126.8 234.5h0.75M121.7 248.3h0.75M121.4 249.0h0.75M132.2 233.6h0.75M114.3 245.2h0.75M137.9 247.0h0.75M140.2 245.2h0.75M117.4 240.4h0.75M141.0 235.6h0.75M136.7 233.7h0.75M146.1 235.5h0.75M120.0 247.2h0.75M148.4 238.0h0.75M118.8 241.3h0.75M142.2 234.9h0.75M115.1 242.9h0.75M106.9 245.4h0.75M123.6 235.6h0.75M123.7 249.1h0.75M123.7 249.7h0.75M120.5 234.2h0.75M143.3 243.3h0.75M120.9 248.2h0.75M117.3 240.8h0.75M146.8 235.5h0.75M118.5 247.2h0.75M145.3 237.8h0.75M117.4 243.0h0.75M140.3 247.4h0.75M143.7 237.4h0.75M114.5 244.4h0.75M139.7 234.9h0.75M135.5 232.5h0.75M145.2 230.2h0.75M139.8 245.9h0.75M117.6 243.9h0.75M137.7 247.3h0.75M120.9 238.3h0.75M123.5 249.7h0.75M114.4 235.6h0.75M121.1 247.4h0.75M127.2 250.8h0.75M145.9 238.1h0.75M136.6 233.7h0.75M122.1 236.2h0.75M118.0 244.4h0.75M131.2 249.5h0.75M116.0 243.1h0.75M109.0 240.5h0.75M141.8 244.3h0.75M130.0 234.3h0.75M141.9 243.1h0.75M118.0 243.3h0.75M117.2 238.5h0.75M146.4 241.3h0.75M130.8 234.4h0.75M126.3 235.0h0.75M138.7 246.3h0.75M142.3 243.1h0.75M114.6 240.2h0.75M118.7 246.6h0.75M144.0 241.0h0.75M114.9 240.2h0.75M114.1 249.3h0.75M132.7 249.4h0.75M141.3 236.0h0.75M126.2 251.3h0.75M135.7 231.1h0.75M119.3 239.5h0.75M111.9 246.1h0.75M134.0 251.4h0.75M126.5 234.8h0.75M127.6 249.1h0.75M114.2 246.2h0.75M133.5 249.9h0.75M124.0 248.7h0.75M143.1 237.3h0.75M118.0 241.5h0.75M118.2 242.8h0.75M120.7 248.2h0.75M140.8 244.1h0.75M122.8 250.8h0.75M137.0 246.9h0.75M133.5 248.3h0.75M123.1 237.1h0.75M139.6 245.7h0.75M144.5 243.0h0.75M136.0 233.7h0.75M119.6 246.5h0.75M134.4 231.7h0.75M124.4 248.7h0.75M121.2 249.8h0.75M138.0 250.2h0.75M112.2 245.4h0.75M118.9 246.3h0.75M125.9 235.5h0.75M140.3 234.8h0.75M122.4 249.5h0.75M119.7 239.3h0.75M138.6 234.3h0.75M118.1 243.7h0.75M130.8 249.5h0.75M120.4 249.8h0.75M116.5 241.2h0.75M121.7 248.4h0.75M137.7 246.3h0.75M125.6 251.2h0.75M143.5 243.9h0.75M123.0 249.5h0.75M128.4 249.7h0.75M127.6 248.8h0.75M141.0 244.3h0.75M129.6 250.3h0.75M141.2 234.8h0.75M141.1 232.9h0.75M143.6 245.5h0.75M143.9 239.8h0.75M121.5 236.2h0.75M120.3 247.8h0.75M124.4 234.8h0.75M136.9 233.9h0.75M120.4 238.2h0.75M141.4 243.8h0.75M126.8 232.2h0.75M146.0 240.1h0.75M138.6 245.7h0.75M128.1 249.0h0.75M144.3 240.2h0.75M121.0 237.8h0.75M136.2 233.9h0.75M126.1 234.4h0.75M119.5 247.0h0.75M123.6 250.1h0.75M135.6 234.2h0.75M129.2 250.6h0.75M137.1 234.3h0.75M145.2 240.5h0.75M141.8 243.7h0.75M136.7 248.9h0.75M128.5 231.8h0.75M125.1 236.0h0.75M128.9 234.1h0.75M129.7 250.9h0.75M142.1 236.4h0.75M142.4 235.4h0.75M127.8 233.4h0.75M118.0 237.6h0.75M144.3 240.9h0.75M118.1 248.1h0.75M142.6 235.1h0.75M130.2 234.3h0.75M125.7 235.8h0.75M131.7 250.4h0.75M144.4 236.7h0.75M116.2 242.5h0.75M143.5 241.2h0.75M120.3 247.9h0.75M127.5 249.0h0.75M125.9 235.5h0.75M133.8 249.3h0.75M117.8 243.7h0.75M142.7 235.5h0.75M128.3 249.3h0.75M143.2 246.2h0.75M125.2 249.8h0.75M114.8 242.3h0.75M140.1 247.1h0.75M117.6 239.5h0.75M130.5 233.6h0.75M144.4 244.4h0.75M123.7 248.9h0.75M143.3 241.2h0.75M136.6 247.2h0.75M117.1 247.4h0.75M126.6 248.8h0.75M123.1 249.2h0.75M142.9 241.8h0.75M143.0 238.2h0.75M145.2 242.6h0.75M145.7 236.9h0.75M143.0 243.8h0.75M118.8 247.4h0.75M118.1 242.4h0.75M140.8 235.7h0.75M119.2 238.0h0.75M118.5 235.7h0.75M132.8 248.4h0.75M143.5 239.7h0.75M137.5 232.2h0.75M137.5 246.8h0.75M137.6 232.9h0.75M141.5 247.9h0.75M136.7 232.1h0.75M125.4 250.5h0.75M135.2 233.8h0.75M123.1 248.8h0.75M122.4 249.3h0.75M133.9 250.0h0.75M118.9 241.2h0.75M135.3 232.7h0.75M142.2 233.9h0.75M112.5 246.0h0.75M139.9 246.0h0.75M118.5 240.5h0.75M124.6 236.2h0.75M119.5 246.6h0.75M148.5 243.3h0.75M119.9 246.6h0.75M127.0 235.0h0.75M136.1 234.2h0.75M132.6 231.7h0.75M129.7 249.4h0.75M115.9 244.1h0.75M125.1 249.4h0.75M122.4 236.5h0.75M143.0 233.3h0.75M128.7 248.9h0.75M117.5 241.4h0.75M136.9 247.2h0.75M126.6 248.8h0.75M144.0 236.9h0.75M140.7 231.6h0.75M149.3 234.4h0.75M134.6 232.7h0.75M123.9 236.6h0.75M128.3 250.0h0.75M143.9 236.0h0.75M121.1 237.3h0.75M124.9 249.1h0.75M147.9 239.2h0.75M123.8 236.4h0.75M143.5 242.5h0.75M121.9 249.6h0.75M119.3 248.2h0.75M117.2 241.3h0.75M142.1 243.9h0.75M139.6 234.7h0.75M142.8 243.9h0.75M132.5 250.6h0.75M118.2 242.9h0.75M118.0 244.9h0.75M134.7 248.6h0.75M142.8 244.0h0.75M118.0 240.1h0.75M121.2 247.5h0.75M119.8 246.6h0.75M114.3 242.2h0.75M129.5 232.9h0.75M143.2 238.1h0.75M144.2 243.6h0.75M119.4 249.9h0.75M142.7 236.8h0.75M131.2 233.2h0.75M131.3 234.1h0.75M133.4 247.9h0.75M144.3 239.0h0.75M135.9 248.3h0.75M125.7 235.3h0.75M140.1 234.2h0.75M139.6 233.3h0.75M142.3 234.7h0.75M140.9 247.5h0.75M124.1 250.4h0.75M122.4 235.2h0.75M143.9 244.9h0.75M128.0 234.3h0.75M125.2 232.2h0.75M120.0 239.6h0.75M118.4 242.1h0.75M144.2 244.3h0.75M120.7 234.6h0.75M136.9 247.0h0.75M136.5 233.3h0.75M142.8 244.0h0.75M141.2 243.5h0.75M139.0 248.0h0.75M129.0 249.8h0.75M121.1 249.5h0.75M138.6 234.4h0.75M123.9 235.4h0.75M145.4 235.1h0.75M125.4 248.6h0.75M118.1 244.2h0.75M134.0 231.4h0.75M137.3 246.4h0.75M122.0 235.0h0.75M117.7 245.6h0.75M136.6 234.0h0.75M139.0 233.9h0.75M144.5 242.1h0.75M135.2 247.9h0.75M115.1 239.8h0.75M138.1 245.9h0.75M118.0 245.9h0.75M121.1 249.0h0.75M144.2 238.6h0.75M125.2 249.9h0.75M119.3 245.8h0.75M151.4 240.0h0.75M123.4 236.7h0.75M130.5 248.9h0.75M131.5 249.3h0.75M116.4 243.3h0.75M149.5 236.6h0.75M118.8 241.5h0.75M140.3 232.7h0.75M118.8 237.4h0.75M122.7 249.7h0.75M132.9 233.7h0.75M145.6 234.3h0.75M127.6 250.3h0.75M127.8 233.1h0.75M120.2 237.8h0.75M117.6 242.0h0.75M144.0 241.2h0.75M126.4 249.3h0.75M110.3 247.5h0.75M133.0 248.6h0.75M124.6 248.9h0.75M143.5 238.8h0.75M115.3 247.8h0.75M117.6 241.1h0.75M138.7 246.2h0.75M128.3 248.8h0.75M127.2 234.7h0.75M143.2 235.4h0.75M141.7 235.2h0.75M144.3 242.3h0.75M118.9 240.6h0.75M119.9 253.3h0.75M117.5 248.4h0.75M146.9 241.7h0.75M140.9 234.3h0.75M131.8 248.7h0.75M138.4 245.7h0.75M125.5 235.4h0.75M121.4 248.0h0.75M119.6 239.5h0.75M119.1 236.4h0.75M127.9 234.7h0.75M114.0 238.7h0.75M133.9 234.0h0.75M123.5 251.3h0.75M137.1 246.7h0.75M139.6 233.6h0.75M142.9 234.6h0.75M126.3 249.0h0.75M120.0 236.7h0.75M123.4 236.1h0.75M143.8 241.1h0.75M144.3 240.5h0.75M125.0 250.0h0.75M118.4 239.6h0.75M118.5 245.9h0.75M141.0 235.8h0.75M144.9 237.5h0.75M120.4 239.1h0.75M125.2 250.4h0.75M139.1 245.5h0.75M130.6 234.2h0.75M134.2 234.0h0.75M117.2 242.7h0.75M116.6 241.9h0.75M117.8 239.3h0.75M128.4 234.3h0.75M126.1 235.2h0.75M131.4 232.4h0.75M131.0 233.8h0.75M112.5 249.0h0.75M117.6 243.3h0.75M144.8 245.9h0.75M118.9 245.2h0.75M131.2 232.9h0.75M144.0 237.8h0.75M129.7 234.2h0.75M143.4 239.8h0.75M143.1 241.2h0.75M117.1 241.8h0.75M142.1 236.1h0.75M140.1 245.5h0.75M128.2 234.7h0.75M142.0 247.5h0.75M131.4 234.3h0.75M143.5 237.6h0.75M120.3 237.7h0.75M133.4 233.5h0.75M126.2 249.6h0.75M145.7 244.2h0.75M145.6 241.5h0.75M119.9 248.8h0.75M147.1 241.2h0.75M119.7 248.4h0.75M146.7 234.3h0.75M135.0 248.8h0.75M131.4 248.7h0.75M134.1 248.5h0.75M129.9 234.2h0.75M128.2 250.1h0.75M138.1 252.1h0.75M140.2 246.1h0.75M140.6 232.1h0.75M129.3 234.2h0.75M129.5 250.8h0.75M117.7 245.1h0.75M141.7 247.3h0.75M117.5 239.5h0.75M117.9 240.6h0.75M137.1 249.4h0.75M121.6 251.1h0.75M139.6 232.5h0.75M138.0 234.2h0.75M127.0 254.5h0.75M141.2 243.6h0.75M150.6 237.5h0.75M142.8 246.8h0.75M144.5 243.3h0.75M124.1 236.2h0.75M125.5 248.7h0.75M124.9 232.8h0.75M147.4 236.3h0.75M133.5 247.8h0.75M123.1 234.7h0.75M118.4 244.0h0.75M119.8 247.1h0.75M143.4 239.4h0.75M124.6 254.1h0.75M144.6 244.9h0.75M141.3 245.0h0.75M138.2 246.8h0.75M141.3 245.9h0.75M115.4 244.9h0.75M124.5 248.6h0.75M142.1 234.9h0.75M135.3 247.9h0.75M143.5 231.0h0.75M130.5 250.2h0.75M131.2 248.6h0.75M143.2 240.5h0.75M120.0 248.3h0.75M122.9 249.5h0.75M124.7 236.3h0.75M116.1 242.5h0.75M123.9 235.4h0.75M143.2 230.2h0.75M119.7 249.2h0.75M120.1 247.6h0.75M117.6 251.8h0.75M120.3 248.0h0.75M143.4 238.4h0.75M120.3 239.4h0.75M132.5 251.3h0.75M121.7 249.4h0.75M136.5 247.2h0.75M136.4 234.1h0.75M143.0 233.6h0.75M125.1 236.0h0.75M121.4 237.5h0.75M126.8 249.8h0.75M150.3 237.0h0.75M138.6 232.5h0.75M118.1 239.9h0.75M135.7 253.0h0.75M128.3 233.5h0.75M126.0 235.0h0.75M117.2 243.3h0.75M122.7 235.7h0.75M120.5 238.3h0.75M134.9 248.5h0.75M131.3 249.6h0.75M114.0 247.0h0.75M115.4 243.7h0.75M135.0 248.3h0.75M141.4 235.7h0.75M116.6 243.5h0.75M134.6 233.0h0.75M138.3 246.3h0.75M115.6 247.2h0.75M136.0 232.7h0.75M140.8 231.8h0.75M122.8 248.1h0.75M135.7 231.7h0.75M139.3 245.4h0.75M142.2 243.3h0.75M133.6 233.5h0.75M117.9 246.8h0.75M121.9 247.9h0.75M120.3 231.4h0.75M117.4 245.6h0.75M129.7 232.5h0.75M124.0 236.4h0.75M117.3 243.5h0.75M123.1 248.6h0.75M122.2 248.6h0.75M136.0 246.9h0.75M144.8 241.1h0.75M126.7 235.1h0.75M126.4 249.1h0.75M135.9 233.8h0.75M121.4 238.1h0.75M137.8 248.9h0.75M132.7 233.4h0.75M122.1 249.5h0.75M119.8 246.5h0.75M126.0 235.0h0.75M120.7 247.9h0.75M134.6 232.6h0.75M121.9 248.5h0.75M142.7 234.9h0.75M143.1 237.2h0.75M121.6 249.8h0.75M125.3 250.2h0.75M129.7 234.5h0.75M117.3 243.3h0.75M141.1 234.3h0.75M146.4 239.2h0.75M117.2 246.5h0.75M136.7 233.3h0.75M117.7 245.7h0.75M115.7 248.5h0.75M116.8 244.0h0.75M121.2 235.4h0.75M119.4 249.2h0.75M124.1 236.5h0.75M130.7 233.3h0.75M143.7 244.5h0.75M143.0 242.1h0.75M145.0 243.7h0.75M129.5 234.5h0.75M144.8 240.9h0.75M125.3 234.3h0.75M144.4 241.0h0.75M118.7 248.5h0.75M145.1 238.0h0.75M140.5 232.5h0.75M125.8 248.9h0.75M144.9 238.5h0.75M130.2 253.5h0.75M127.3 249.1h0.75M137.7 234.0h0.75M116.5 244.1h0.75M144.2 240.8h0.75M138.4 234.0h0.75M139.1 232.3h0.75M136.2 247.3h0.75M118.4 242.6h0.75M118.1 246.1h0.75M117.9 240.3h0.75M133.4 233.5h0.75M141.2 235.4h0.75M144.9 240.7h0.75M117.5 242.9h0.75M117.7 241.3h0.75M130.5 249.0h0.75M128.6 250.8h0.75M133.9 232.4h0.75M117.5 246.8h0.75M114.6 248.7h0.75M147.4 241.0h0.75M120.7 237.7h0.75M137.7 234.4h0.75M119.7 239.9h0.75M141.3 235.5h0.75M133.6 233.0h0.75M122.8 236.1h0.75M128.5 250.2h0.75M136.2 233.9h0.75M141.0 235.4h0.75M142.1 243.2h0.75M131.9 234.1h0.75M116.0 250.3h0.75M132.0 249.7h0.75M122.0 234.2h0.75M143.2 241.1h0.75M145.8 240.2h0.75M128.4 251.0h0.75M118.8 240.5h0.75M117.9 241.5h0.75M140.7 235.3h0.75M136.6 233.7h0.75M133.1 233.9h0.75M116.8 251.9h0.75M122.9 248.1h0.75M135.1 248.8h0.75M143.6 243.0h0.75M127.2 234.3h0.75M123.4 236.0h0.75M135.3 234.0h0.75M141.2 235.6h0.75M150.7 232.0h0.75M129.0 249.7h0.75M129.1 234.1h0.75M142.6 235.2h0.75M118.5 244.9h0.75M115.9 239.3h0.75M143.8 242.7h0.75M130.7 248.6h0.75M138.7 231.4h0.75M141.5 235.5h0.75M119.9 239.8h0.75M122.1 252.6h0.75M118.7 235.4h0.75M126.0 248.7h0.75M132.8 248.9h0.75M139.2 247.5h0.75M128.0 250.8h0.75M118.7 241.6h0.75M118.4 242.0h0.75M116.6 239.5h0.75M144.6 239.9h0.75M143.3 243.2h0.75M142.1 245.1h0.75M123.6 249.7h0.75M122.4 236.7h0.75M138.3 246.1h0.75M123.9 252.2h0.75M140.8 232.3h0.75M140.4 245.6h0.75M138.8 234.6h0.75M118.3 244.5h0.75M142.4 244.2h0.75M139.4 246.2h0.75M116.6 244.3h0.75M136.7 247.3h0.75M136.3 247.6h0.75M133.2 248.1h0.75M114.0 245.2h0.75M148.0 238.4h0.75M112.7 246.3h0.75M115.6 241.0h0.75M134.6 249.1h0.75M141.2 246.3h0.75M143.9 239.8h0.75M117.2 243.7h0.75M139.9 234.5h0.75M119.1 240.7h0.75M119.2 239.9h0.75M125.0 233.9h0.75M132.7 248.1h0.75M145.0 237.2h0.75M120.7 238.9h0.75M135.0 232.5h0.75M134.2 233.5h0.75M142.1 235.0h0.75M141.6 236.3h0.75M120.4 248.1h0.75M132.8 248.1h0.75M122.4 235.4h0.75M125.1 248.8h0.75M136.4 247.0h0.75M125.9 249.0h0.75M150.5 236.7h0.75M115.3 246.1h0.75M131.6 233.3h0.75M128.8 231.8h0.75M137.2 248.0h0.75M137.5 232.9h0.75M145.1 243.1h0.75M123.5 250.2h0.75M142.9 237.1h0.75M128.5 233.3h0.75M135.4 233.9h0.75M144.5 232.3h0.75M136.7 232.3h0.75M116.3 239.8h0.75M135.5 233.3h0.75M140.2 232.6h0.75M143.1 236.7h0.75M143.5 235.8h0.75M142.8 237.2h0.75M132.6 250.1h0.75M134.7 249.9h0.75M118.9 246.1h0.75M118.0 244.7h0.75M121.9 234.2h0.75M120.2 249.3h0.75M133.2 232.1h0.75M144.1 235.2h0.75M118.5 249.4h0.75M122.3 237.5h0.75M123.8 251.0h0.75M136.7 232.9h0.75M146.7 238.0h0.75M144.8 239.0h0.75M134.1 233.9h0.75M119.0 239.3h0.75M125.3 249.5h0.75M124.3 248.8h0.75M117.3 238.0h0.75M142.8 242.6h0.75M125.3 235.5h0.75M122.1 236.7h0.75M143.8 244.8h0.75M145.8 240.2h0.75M139.2 248.0h0.75M143.0 236.6h0.75M134.6 248.1h0.75M116.3 238.5h0.75M118.6 250.3h0.75M143.7 236.2h0.75M144.6 237.6h0.75M135.6 233.8h0.75M118.0 243.1h0.75M137.7 246.1h0.75M113.8 248.3h0.75M132.7 250.2h0.75M142.5 243.2h0.75M138.6 233.3h0.75M122.0 249.1h0.75M143.5 232.1h0.75M144.9 242.1h0.75M117.7 247.3h0.75M120.4 252.1h0.75M119.4 237.7h0.75M117.3 243.4h0.75M142.2 234.0h0.75M123.0 249.3h0.75M150.2 240.9h0.75M122.3 234.8h0.75M117.9 247.0h0.75M141.6 233.3h0.75M128.8 233.0h0.75M126.6 248.7h0.75M142.4 236.6h0.75M143.0 246.4h0.75M117.2 240.7h0.75M122.1 247.9h0.75M119.5 237.1h0.75M130.2 234.0h0.75M117.7 242.3h0.75M144.0 237.3h0.75M134.0 232.6h0.75M121.2 249.5h0.75M123.7 232.4h0.75M130.1 250.1h0.75M118.8 240.8h0.75M133.2 231.8h0.75M140.6 245.1h0.75M139.6 233.7h0.75M128.3 234.7h0.75M127.5 249.0h0.75M128.6 248.7h0.75M143.6 236.8h0.75M140.3 249.3h0.75M142.6 236.0h0.75M126.7 249.0h0.75M142.5 243.7h0.75M121.6 248.2h0.75M143.5 236.7h0.75M136.1 247.4h0.75M114.9 248.2h0.75M118.6 237.1h0.75M126.4 250.8h0.75M129.8 234.3h0.75M117.3 241.6h0.75M129.2 233.2h0.75M123.6 248.8h0.75M113.0 243.6h0.75M120.6 238.2h0.75M130.9 233.9h0.75M135.1 234.1h0.75M123.6 249.6h0.75M131.3 251.7h0.75M143.2 241.7h0.75M129.3 233.6h0.75M119.0 248.6h0.75M144.4 244.2h0.75M121.4 237.6h0.75M116.1 236.5h0.75M131.2 232.7h0.75M142.7 235.8h0.75M124.0 250.4h0.75M133.8 233.4h0.75M137.6 246.9h0.75M113.9 243.4h0.75M122.4 236.2h0.75M144.0 245.8h0.75M143.6 241.5h0.75M117.2 244.4h0.75M120.8 235.4h0.75M120.0 248.6h0.75M130.5 249.6h0.75M132.7 231.7h0.75M142.0 246.5h0.75M129.3 233.2h0.75M140.9 234.3h0.75M127.9 232.1h0.75M119.6 236.5h0.75M143.9 245.6h0.75M124.6 234.5h0.75M130.3 249.8h0.75M120.0 239.6h0.75M130.5 250.7h0.75M134.5 247.9h0.75M123.8 236.6h0.75M134.8 229.7h0.75M125.0 235.4h0.75M136.0 234.1h0.75M144.1 238.5h0.75M141.6 245.4h0.75M143.6 241.2h0.75M117.3 241.8h0.75M146.8 240.0h0.75M144.6 244.2h0.75M120.8 238.3h0.75M125.8 249.3h0.75M135.4 248.4h0.75M136.8 248.9h0.75M134.8 231.7h0.75M145.0 239.7h0.75M146.6 239.4h0.75M119.2 247.8h0.75M121.2 238.4h0.75M116.7 240.2h0.75M117.2 244.0h0.75M134.7 248.7h0.75M147.5 237.3h0.75M145.8 235.7h0.75M143.9 237.7h0.75M118.7 245.2h0.75M119.2 246.2h0.75M125.1 234.4h0.75M124.8 249.4h0.75M121.3 247.8h0.75M136.8 247.1h0.75M115.3 244.1h0.75M136.9 247.5h0.75M137.6 248.1h0.75M118.1 241.6h0.75M145.4 236.6h0.75M144.8 235.3h0.75M125.6 232.5h0.75M145.6 241.4h0.75M143.7 239.0h0.75M125.8 233.1h0.75M131.4 249.7h0.75M139.1 246.1h0.75M145.3 237.6h0.75M143.9 240.5h0.75M124.3 248.7h0.75M134.5 231.1h0.75M142.9 243.4h0.75M139.2 245.4h0.75M115.7 246.5h0.75M147.5 231.1h0.75M115.4 246.3h0.75M143.5 245.2h0.75M118.6 241.4h0.75M136.1 248.0h0.75M143.9 239.4h0.75M124.3 233.1h0.75M148.8 236.0h0.75M127.6 234.3h0.75M134.3 233.4h0.75M143.3 245.6h0.75M135.1 247.3h0.75M121.6 249.2h0.75M135.4 234.2h0.75M115.9 246.9h0.75M139.3 234.9h0.75M144.3 241.8h0.75M120.2 238.5h0.75M114.1 246.2h0.75M136.6 248.2h0.75M140.6 235.0h0.75M142.5 243.4h0.75M142.2 244.7h0.75M118.9 246.1h0.75M120.0 237.6h0.75M117.4 247.7h0.75M127.3 235.1h0.75M118.9 245.5h0.75M123.0 236.3h0.75M133.7 249.5h0.75M123.8 235.1h0.75M140.8 245.3h0.75M115.3 239.1h0.75M133.3 248.0h0.75M136.2 252.0h0.75M132.3 233.5h0.75M118.5 237.3h0.75M146.2 240.0h0.75M142.9 237.5h0.75M146.8 239.9h0.75M133.1 248.0h0.75M136.4 250.3h0.75M143.5 234.8h0.75M142.7 234.5h0.75M139.6 245.5h0.75M129.8 234.5h0.75M142.9 237.4h0.75M138.4 247.7h0.75M140.9 247.0h0.75M142.9 243.6h0.75M141.7 233.1h0.75M148.4 237.5h0.75M114.6 241.9h0.75M114.6 245.0h0.75M117.7 239.7h0.75M145.8 242.2h0.75M118.5 242.2h0.75M121.3 248.1h0.75M128.9 234.8h0.75M135.3 234.1h0.75M115.8 247.3h0.75M122.1 237.5h0.75M119.9 247.1h0.75M143.0 237.5h0.75M123.7 249.6h0.75M127.7 235.0h0.75M138.7 231.8h0.75M123.5 248.4h0.75M130.2 234.0h0.75M119.9 239.4h0.75M130.6 230.0h0.75M142.4 241.9h0.75M124.9 236.0h0.75M116.2 243.7h0.75M120.3 248.2h0.75M120.7 237.0h0.75M126.7 232.2h0.75M143.3 233.7h0.75M125.4 233.4h0.75M124.2 236.5h0.75M116.7 248.7h0.75M140.0 248.1h0.75M114.5 248.9h0.75M132.5 249.7h0.75M124.5 249.0h0.75M142.7 242.9h0.75M144.2 237.4h0.75M143.5 234.9h0.75M137.2 232.2h0.75M128.4 229.3h0.75M132.5 248.5h0.75M144.5 239.3h0.75M139.5 234.5h0.75M124.4 251.9h0.75M131.3 232.4h0.75M133.5 231.3h0.75M143.0 243.6h0.75M126.4 251.0h0.75M122.4 249.6h0.75M144.2 236.6h0.75M118.0 242.9h0.75M116.0 242.8h0.75M116.9 250.4h0.75M122.2 234.0h0.75M148.4 243.3h0.75M129.4 248.9h0.75M148.3 238.2h0.75M126.4 235.1h0.75M142.6 249.6h0.75M123.9 235.7h0.75M128.5 233.3h0.75M132.9 249.9h0.75M143.9 239.7h0.75M136.4 248.5h0.75M143.1 236.9h0.75M117.4 239.9h0.75M117.6 239.5h0.75M127.6 250.3h0.75M142.8 241.6h0.75M124.1 248.4h0.75M141.4 243.7h0.75M144.1 236.8h0.75M130.5 250.0h0.75M139.4 247.5h0.75M128.2 248.8h0.75M124.2 235.7h0.75M127.2 234.4h0.75M141.5 235.9h0.75M135.9 233.5h0.75M135.3 234.1h0.75M137.4 234.0h0.75M121.4 235.5h0.75M143.9 238.8h0.75M140.5 235.0h0.75M122.6 237.1h0.75M121.6 236.5h0.75M140.0 245.1h0.75M143.1 237.8h0.75M121.7 237.2h0.75M135.0 248.6h0.75M143.3 239.2h0.75M143.6 245.4h0.75M120.1 252.2h0.75M142.1 245.5h0.75M132.6 250.1h0.75M117.3 243.4h0.75M132.5 248.2h0.75M129.3 250.7h0.75M130.4 233.8h0.75M136.8 247.0h0.75M122.3 248.3h0.75M121.0 237.7h0.75M139.0 233.7h0.75M123.1 237.1h0.75M134.4 250.0h0.75M120.0 246.6h0.75M119.0 245.9h0.75M144.5 243.1h0.75M118.5 245.2h0.75M133.9 248.0h0.75M142.0 244.1h0.75M124.0 248.5h0.75M142.8 235.5h0.75M144.4 241.8h0.75M128.7 234.5h0.75M139.3 233.5h0.75M140.9 230.5h0.75M142.0 236.3h0.75M133.5 248.9h0.75M138.0 234.2h0.75M142.7 242.3h0.75M141.6 235.5h0.75M127.5 234.3h0.75M119.4 246.1h0.75M136.1 247.5h0.75M122.7 249.8h0.75M143.1 237.8h0.75M138.3 246.9h0.75M122.5 237.5h0.75M144.9 239.4h0.75M128.2 234.0h0.75M134.0 248.8h0.75M118.7 239.3h0.75M141.3 245.7h0.75M145.2 235.0h0.75M138.9 232.6h0.75M140.8 234.7h0.75M134.2 247.9h0.75M141.5 234.1h0.75M134.9 247.5h0.75M119.9 246.6h0.75M136.8 246.8h0.75M116.4 240.3h0.75M117.3 250.6h0.75M145.8 238.6h0.75M135.1 251.0h0.75M116.9 244.0h0.75M112.5 246.2h0.75M113.4 236.9h0.75M135.9 233.8h0.75M143.6 238.4h0.75M134.6 248.4h0.75M124.7 252.7h0.75M124.7 249.3h0.75M145.8 239.2h0.75M139.3 246.0h0.75M147.0 237.7h0.75M131.9 249.5h0.75M117.4 241.5h0.75M142.1 245.5h0.75M141.3 244.1h0.75M143.9 247.2h0.75M118.1 243.3h0.75M140.5 233.7h0.75M133.6 247.9h0.75M119.1 240.4h0.75M120.2 248.1h0.75M120.0 235.5h0.75M146.3 235.3h0.75M142.4 236.0h0.75M144.2 240.8h0.75M146.1 244.0h0.75M129.3 248.6h0.75M143.3 237.0h0.75M117.1 249.2h0.75M137.5 233.2h0.75M120.0 236.3h0.75M142.4 244.1h0.75M122.4 237.1h0.75M133.6 232.9h0.75M147.1 235.3h0.75M142.9 242.0h0.75M114.3 241.0h0.75M124.8 235.9h0.75M133.5 248.2h0.75M117.3 243.4h0.75M145.0 242.0h0.75M118.5 238.0h0.75M122.8 236.2h0.75M146.8 238.3h0.75M123.2 236.0h0.75M120.2 236.9h0.75M142.7 236.8h0.75M134.5 249.6h0.75M143.5 236.4h0.75M120.9 247.7h0.75M144.8 231.7h0.75M128.0 234.6h0.75M122.4 236.7h0.75M143.1 245.0h0.75M135.2 247.6h0.75M143.9 240.1h0.75M121.2 247.7h0.75M143.6 242.1h0.75M143.6 235.5h0.75M123.4 249.6h0.75M117.6 247.8h0.75M118.3 245.1h0.75M123.9 236.7h0.75M123.3 248.5h0.75M130.4 230.6h0.75M119.0 236.8h0.75M124.9 234.6h0.75M139.5 249.9h0.75M127.8 250.7h0.75M135.0 233.7h0.75M137.8 233.0h0.75M115.4 239.8h0.75M143.7 239.1h0.75M126.9 234.3h0.75M143.3 241.7h0.75M137.9 246.0h0.75M145.9 238.1h0.75M131.2 248.7h0.75M145.8 237.2h0.75M141.1 243.7h0.75M148.1 235.4h0.75M125.7 248.9h0.75M126.4 249.7h0.75M117.6 245.5h0.75M143.6 241.0h0.75M138.7 245.7h0.75M120.8 238.6h0.75M131.5 249.9h0.75M126.7 233.3h0.75M117.6 244.8h0.75M141.6 235.7h0.75M144.9 240.8h0.75M124.8 235.9h0.75M126.4 234.8h0.75M133.0 233.8h0.75M145.2 243.2h0.75M137.7 247.6h0.75M134.0 232.4h0.75M134.7 249.6h0.75M123.0 237.0h0.75M141.4 245.2h0.75M118.9 240.5h0.75M121.3 238.2h0.75M131.7 248.6h0.75M117.1 242.9h0.75M146.2 239.6h0.75M135.5 249.0h0.75M121.2 237.8h0.75M118.3 238.6h0.75M137.8 249.4h0.75M122.5 236.8h0.75M139.3 245.7h0.75M130.9 234.0h0.75M125.4 233.5h0.75M133.7 230.3h0.75M127.1 249.2h0.75M145.8 241.0h0.75M144.1 242.8h0.75M118.3 243.7h0.75M141.6 235.9h0.75M114.9 247.4h0.75M141.3 244.0h0.75M116.7 243.6h0.75M126.3 234.9h0.75M131.3 233.3h0.75M142.8 241.7h0.75M117.6 245.3h0.75M123.0 236.7h0.75M126.9 249.1h0.75M125.9 234.8h0.75M121.4 250.1h0.75M142.4 235.3h0.75M116.0 237.7h0.75M119.2 246.1h0.75M130.0 249.9h0.75M142.9 237.8h0.75M144.4 245.6h0.75M119.5 238.6h0.75M143.4 241.6h0.75M130.9 232.5h0.75M143.4 242.5h0.75M143.0 242.9h0.75M149.7 240.5h0.75M130.6 233.9h0.75M141.7 243.4h0.75M138.5 245.8h0.75M136.3 233.1h0.75M138.1 246.2h0.75M117.8 248.5h0.75M141.5 244.3h0.75M143.3 237.2h0.75M131.6 248.4h0.75M141.5 233.3h0.75M114.1 247.0h0.75M114.5 238.6h0.75M118.4 245.9h0.75M127.4 233.5h0.75M136.7 246.9h0.75M147.0 244.4h0.75M124.0 250.8h0.75M132.0 248.6h0.75M144.5 237.8h0.75M137.3 234.1h0.75M138.4 246.4h0.75M124.0 250.4h0.75M120.5 247.4h0.75M139.8 232.3h0.75M145.2 238.6h0.75M117.4 238.9h0.75M146.6 234.8h0.75M137.1 233.7h0.75M131.2 250.6h0.75M122.6 248.8h0.75M122.3 248.7h0.75M134.2 247.8h0.75M117.2 249.9h0.75M140.7 233.6h0.75M133.3 249.8h0.75M134.6 230.9h0.75M125.2 230.5h0.75M135.0 232.2h0.75M122.2 237.2h0.75M136.5 233.5h0.75M118.2 242.5h0.75M135.0 233.5h0.75M136.8 233.6h0.75M141.3 232.4h0.75M141.9 236.1h0.75M122.2 235.4h0.75M145.5 240.5h0.75M114.1 242.4h0.75M125.0 249.5h0.75M132.0 232.2h0.75M136.6 249.5h0.75M132.5 248.7h0.75M126.4 248.8h0.75M132.9 234.1h0.75M143.1 241.7h0.75M128.5 234.8h0.75M118.7 245.9h0.75M133.6 233.4h0.75M126.1 252.5h0.75M141.2 233.8h0.75M140.9 234.4h0.75M126.8 250.5h0.75M114.8 240.8h0.75M119.3 240.3h0.75M114.4 244.1h0.75M119.7 248.0h0.75M120.4 235.4h0.75M123.7 248.7h0.75M143.3 236.5h0.75M142.8 244.8h0.75" stroke="#000" stroke-width="0.75" fill="none" opacity="1.0"/>
<path d="M154.3 238.7h0.8M142.9 237.3h0.8M149.6 235.0h0.8M162.3 241.8h0.8M159.2 232.0h0.8M147.7 242.1h0.8M151.0 231.5h0.8M156.5 248.1h0.8M162.6 238.6h0.8M140.8 244.7h0.8M158.0 237.8h0.8M149.3 243.3h0.8M151.1 236.6h0.8M140.7 238.5h0.8M149.2 237.4h0.8M135.4 237.3h0.8M161.4 247.7h0.8M135.9 237.9h0.8M158.3 236.0h0.8M158.0 237.7h0.8M163.7 239.5h0.8M169.0 232.9h0.8M163.4 237.3h0.8M163.5 236.5h0.8M161.0 243.8h0.8M155.2 234.9h0.8M145.7 237.7h0.8M150.5 244.0h0.8M140.8 239.6h0.8M152.9 239.6h0.8M143.8 245.7h0.8M151.8 236.2h0.8M151.9 244.7h0.8M158.4 244.4h0.8M157.4 237.4h0.8M138.1 236.5h0.8M151.6 232.5h0.8M149.9 236.1h0.8M163.5 230.3h0.8M174.9 241.6h0.8M148.1 240.3h0.8M168.3 241.9h0.8M149.5 237.3h0.8M138.3 241.7h0.8M161.0 238.9h0.8M152.6 236.1h0.8M154.0 241.8h0.8M140.5 243.3h0.8M150.2 242.0h0.8M152.9 241.2h0.8M155.2 242.8h0.8M145.6 239.7h0.8M141.4 240.6h0.8M163.3 237.9h0.8M162.5 237.2h0.8M156.6 244.7h0.8M155.8 241.3h0.8M166.1 241.7h0.8M161.9 238.0h0.8M145.8 243.4h0.8M143.1 245.3h0.8M147.6 241.2h0.8M160.3 234.6h0.8M171.4 238.7h0.8M150.5 235.4h0.8M136.2 233.0h0.8M143.5 242.6h0.8M148.5 244.9h0.8M143.2 233.7h0.8M157.3 238.4h0.8M139.4 246.5h0.8M155.1 233.5h0.8M147.8 236.0h0.8M163.8 236.9h0.8M146.9 241.3h0.8M168.3 244.8h0.8M152.7 238.4h0.8M147.2 244.2h0.8M142.5 240.0h0.8M159.2 236.5h0.8M129.4 238.6h0.8M144.5 235.9h0.8M147.3 243.4h0.8M138.2 235.2h0.8M151.6 243.7h0.8M144.9 242.5h0.8M162.5 236.0h0.8M150.8 243.4h0.8M154.4 236.9h0.8M151.2 238.6h0.8M153.3 240.8h0.8M153.8 237.0h0.8M152.6 240.9h0.8M151.0 246.6h0.8M147.4 230.1h0.8M163.8 237.0h0.8M155.8 238.3h0.8M161.4 236.8h0.8M158.2 245.9h0.8M158.0 235.7h0.8M169.2 243.4h0.8M152.0 233.5h0.8M154.7 239.1h0.8M156.9 239.9h0.8M167.6 239.5h0.8M148.6 238.0h0.8M155.4 241.6h0.8M140.2 235.8h0.8M161.2 238.1h0.8M162.5 238.2h0.8M146.2 241.8h0.8M155.6 251.1h0.8M167.6 238.4h0.8M155.0 241.7h0.8M157.5 242.5h0.8M151.6 237.9h0.8M137.1 238.9h0.8M162.6 239.8h0.8M155.0 233.7h0.8M132.5 243.1h0.8M144.6 237.4h0.8M133.3 246.8h0.8M165.7 231.1h0.8M146.8 238.8h0.8M156.7 243.0h0.8M151.6 239.0h0.8M157.3 231.8h0.8M150.9 239.4h0.8M154.8 234.9h0.8M145.4 234.7h0.8M150.4 235.0h0.8M176.0 235.4h0.8M164.3 236.1h0.8M148.3 243.5h0.8M149.9 249.0h0.8M156.2 231.7h0.8M164.6 226.6h0.8M148.5 236.0h0.8M152.2 236.0h0.8M147.4 238.0h0.8M159.0 235.1h0.8M149.0 249.4h0.8M172.2 243.4h0.8M152.1 236.9h0.8M152.6 233.6h0.8M162.9 235.6h0.8M131.4 245.0h0.8M167.0 242.6h0.8M158.5 241.2h0.8M167.6 244.4h0.8M137.1 242.7h0.8M151.7 246.5h0.8M149.2 237.9h0.8M136.1 240.5h0.8M155.5 245.5h0.8M150.5 243.7h0.8M172.7 233.2h0.8M162.5 238.8h0.8M135.5 236.8h0.8M152.3 234.5h0.8M158.4 235.7h0.8M162.7 237.3h0.8M164.5 243.7h0.8M161.5 244.2h0.8M180.3 242.3h0.8M136.0 238.4h0.8M161.9 243.5h0.8M146.7 242.0h0.8M153.0 238.3h0.8M147.8 239.9h0.8M164.2 231.3h0.8M163.0 239.9h0.8M136.5 241.6h0.8M150.6 235.5h0.8M157.8 237.9h0.8M164.3 244.9h0.8M156.8 241.1h0.8M143.0 239.9h0.8M164.3 247.5h0.8M134.8 241.6h0.8M152.5 249.1h0.8M156.4 248.6h0.8M131.4 232.8h0.8M153.5 233.2h0.8M132.7 238.6h0.8M147.8 240.3h0.8M167.3 234.5h0.8M144.8 233.2h0.8M153.5 244.2h0.8M162.8 228.7h0.8M157.2 237.9h0.8M146.6 234.6h0.8M147.1 241.2h0.8M159.5 242.8h0.8M144.1 240.0h0.8M143.7 244.0h0.8M152.7 233.5h0.8M163.3 246.6h0.8M135.4 248.5h0.8M157.4 238.8h0.8M129.0 234.9h0.8M142.8 243.6h0.8M151.1 240.4h0.8M153.6 241.5h0.8M149.3 245.6h0.8M129.4 236.5h0.8M148.1 235.8h0.8M165.3 236.7h0.8M132.7 238.1h0.8M147.3 236.0h0.8M145.2 237.5h0.8M159.3 238.4h0.8M155.6 238.9h0.8M164.7 239.1h0.8M155.5 244.3h0.8M166.3 244.3h0.8M144.3 234.0h0.8M179.5 231.9h0.8M144.8 233.5h0.8M155.2 239.2h0.8M128.7 245.8h0.8M147.3 244.9h0.8M162.4 239.1h0.8M162.7 235.5h0.8M152.7 238.7h0.8M154.0 241.9h0.8M154.2 237.5h0.8M159.1 237.6h0.8M160.6 235.3h0.8M140.9 250.3h0.8M139.4 243.9h0.8M169.3 241.9h0.8M156.8 238.9h0.8M151.6 235.9h0.8M157.9 242.5h0.8M138.5 230.8h0.8M183.7 237.2h0.8M141.4 235.5h0.8M160.8 245.0h0.8M143.0 238.6h0.8M158.1 237.1h0.8M155.8 241.2h0.8M160.1 243.7h0.8M153.7 236.8h0.8M138.9 240.0h0.8M142.3 238.2h0.8M150.3 239.3h0.8M161.9 240.5h0.8M153.8 246.7h0.8M153.4 247.5h0.8M152.3 241.3h0.8M142.2 240.5h0.8M143.6 246.3h0.8M154.9 245.7h0.8M157.3 235.0h0.8M129.3 240.4h0.8M146.9 238.0h0.8M155.8 240.0h0.8M150.0 241.2h0.8M145.6 236.0h0.8M148.0 244.5h0.8M158.8 237.8h0.8M157.0 242.2h0.8M142.6 248.5h0.8M148.9 235.1h0.8M153.6 240.5h0.8M166.2 244.6h0.8M148.4 237.5h0.8M149.5 238.4h0.8M143.0 239.7h0.8M165.4 243.1h0.8M149.3 234.4h0.8M159.6 244.7h0.8M138.7 242.7h0.8M170.4 243.6h0.8M159.1 239.1h0.8M146.8 241.4h0.8M165.2 242.2h0.8M161.0 238.8h0.8M150.8 246.0h0.8M154.0 243.7h0.8M147.8 235.3h0.8M154.2 240.7h0.8M122.4 237.4h0.8M156.0 238.2h0.8M140.4 239.9h0.8M157.4 245.3h0.8M133.9 240.6h0.8M146.5 249.6h0.8M156.2 234.6h0.8M159.5 242.9h0.8M162.9 243.6h0.8M147.5 234.2h0.8M155.0 239.0h0.8M147.7 231.9h0.8M158.8 241.6h0.8M164.6 240.7h0.8M150.2 235.5h0.8M148.6 235.6h0.8M149.9 236.1h0.8M162.6 238.2h0.8M156.4 239.2h0.8M148.6 230.9h0.8M148.1 237.7h0.8M162.7 233.8h0.8M159.5 241.9h0.8M151.6 239.1h0.8M161.1 240.0h0.8M175.1 227.7h0.8M143.4 248.6h0.8M156.0 230.6h0.8M129.3 234.5h0.8M136.6 231.8h0.8M145.9 238.5h0.8M140.6 239.4h0.8M147.1 243.3h0.8M138.7 239.7h0.8M153.6 242.8h0.8M140.2 239.9h0.8M139.3 243.2h0.8M157.1 244.1h0.8M149.6 247.0h0.8M146.6 232.3h0.8M144.5 239.4h0.8M162.5 236.5h0.8M146.3 242.3h0.8M139.4 244.1h0.8M156.5 234.6h0.8M151.0 236.4h0.8M143.1 241.1h0.8M148.9 243.5h0.8M152.1 232.2h0.8M154.1 242.4h0.8M154.8 233.0h0.8M145.4 234.2h0.8M149.1 236.3h0.8M160.8 240.5h0.8M177.1 240.4h0.8M137.3 239.2h0.8M169.6 236.8h0.8M153.4 243.3h0.8M166.1 243.6h0.8M150.8 234.4h0.8M146.7 242.2h0.8M136.3 240.8h0.8M167.1 233.4h0.8M159.1 235.5h0.8M144.5 241.6h0.8M158.2 238.6h0.8M156.6 242.2h0.8M169.0 234.5h0.8M142.8 247.4h0.8M160.0 236.0h0.8M158.5 246.2h0.8M148.5 241.2h0.8M160.7 236.2h0.8M141.4 243.5h0.8M152.0 240.3h0.8M144.6 242.5h0.8M161.6 239.2h0.8M152.4 235.4h0.8M145.7 234.2h0.8M152.8 240.2h0.8M145.4 234.4h0.8M150.3 242.3h0.8M165.0 231.1h0.8M153.7 245.1h0.8M144.1 238.1h0.8M160.7 239.8h0.8M143.4 235.1h0.8M146.9 239.5h0.8M154.2 243.0h0.8M143.9 241.9h0.8M156.0 237.9h0.8M159.4 238.7h0.8M156.5 236.6h0.8M143.6 237.6h0.8M169.4 240.3h0.8M154.8 236.0h0.8M153.6 234.4h0.8M155.3 239.1h0.8M146.9 241.8h0.8M139.5 234.7h0.8M158.6 234.4h0.8M138.7 245.2h0.8M158.2 241.2h0.8M151.9 234.7h0.8M156.4 239.1h0.8M145.3 240.5h0.8M156.4 239.2h0.8M160.2 241.3h0.8M141.3 242.1h0.8M148.6 246.2h0.8M123.8 239.6h0.8M158.0 243.7h0.8M142.4 240.1h0.8M156.3 236.9h0.8M158.6 236.2h0.8M145.2 245.0h0.8M144.4 238.4h0.8M173.8 243.8h0.8M148.7 241.2h0.8M144.9 235.3h0.8M148.0 243.1h0.8M156.9 235.8h0.8M130.5 246.0h0.8M145.7 243.2h0.8M160.0 244.5h0.8M146.2 235.6h0.8M146.1 241.5h0.8M154.5 234.6h0.8M156.6 235.4h0.8M151.7 238.4h0.8M157.4 250.1h0.8M145.5 233.7h0.8M140.7 240.1h0.8M154.1 241.9h0.8M142.3 234.5h0.8M151.5 245.8h0.8M161.3 243.5h0.8" stroke="#000" stroke-width="0.8" fill="none" opacity="1.0"/>
<rect x="229.1" y="207.9" width="86.80" height="86.30" fill="none" stroke="#959595" stroke-width="0.85"/>
<line x1="279.5" y1="207.9" x2="279.5" y2="294.2" stroke="#959595" stroke-width="0.85"/>
<line x1="229.1" y1="258.4" x2="315.9" y2="258.4" stroke="#959595" stroke-width="0.85"/>
<line x1="229.1" y1="207.9" x2="229.1" y2="294.2" stroke="#777" stroke-width="1.0"/>
<line x1="228.79999999999998" y1="208.9" x2="228.79999999999998" y2="294.2" stroke="#444" stroke-width="0.8" stroke-dasharray="0.5 1.2"/>
<line x1="229.1" y1="294.2" x2="281.18" y2="294.2" stroke="#777" stroke-width="1.0"/>
<line x1="229.1" y1="294.4" x2="281.18" y2="294.4" stroke="#555" stroke-width="0.7" stroke-dasharray="0.6 1.4"/>
<text x="222.5" y="209.4" font-size="4.3" text-anchor="middle" fill="#222">10<tspan dy="-1.63" font-size="3.01">4</tspan></text>
<line x1="227.5" y1="207.9" x2="229.1" y2="207.9" stroke="#444" stroke-width="0.6"/>
<text x="228.9" y="302.8" font-size="4.3" text-anchor="middle" fill="#222">10<tspan dy="-1.63" font-size="3.01">0</tspan></text>
<line x1="229.1" y1="294.2" x2="229.1" y2="295.8" stroke="#444" stroke-width="0.6"/>
<text x="222.5" y="230.975" font-size="4.3" text-anchor="middle" fill="#222">10<tspan dy="-1.63" font-size="3.01">3</tspan></text>
<line x1="227.5" y1="229.475" x2="229.1" y2="229.475" stroke="#444" stroke-width="0.6"/>
<text x="250.6" y="302.8" font-size="4.3" text-anchor="middle" fill="#222">10<tspan dy="-1.63" font-size="3.01">1</tspan></text>
<line x1="250.79999999999998" y1="294.2" x2="250.79999999999998" y2="295.8" stroke="#444" stroke-width="0.6"/>
<text x="222.5" y="252.55" font-size="4.3" text-anchor="middle" fill="#222">10<tspan dy="-1.63" font-size="3.01">2</tspan></text>
<line x1="227.5" y1="251.05" x2="229.1" y2="251.05" stroke="#444" stroke-width="0.6"/>
<text x="272.3" y="302.8" font-size="4.3" text-anchor="middle" fill="#222">10<tspan dy="-1.63" font-size="3.01">2</tspan></text>
<line x1="272.5" y1="294.2" x2="272.5" y2="295.8" stroke="#444" stroke-width="0.6"/>
<text x="222.5" y="274.125" font-size="4.3" text-anchor="middle" fill="#222">10<tspan dy="-1.63" font-size="3.01">1</tspan></text>
<line x1="227.5" y1="272.625" x2="229.1" y2="272.625" stroke="#444" stroke-width="0.6"/>
<text x="294.0" y="302.8" font-size="4.3" text-anchor="middle" fill="#222">10<tspan dy="-1.63" font-size="3.01">3</tspan></text>
<line x1="294.2" y1="294.2" x2="294.2" y2="295.8" stroke="#444" stroke-width="0.6"/>
<text x="222.5" y="295.7" font-size="4.3" text-anchor="middle" fill="#222">10<tspan dy="-1.63" font-size="3.01">0</tspan></text>
<line x1="227.5" y1="294.2" x2="229.1" y2="294.2" stroke="#444" stroke-width="0.6"/>
<text x="315.7" y="302.8" font-size="4.3" text-anchor="middle" fill="#222">10<tspan dy="-1.63" font-size="3.01">4</tspan></text>
<line x1="315.9" y1="294.2" x2="315.9" y2="295.8" stroke="#444" stroke-width="0.6"/>
<text x="230.6" y="213.6" font-size="4.4" text-anchor="start" fill="#000">98.1</text>
<text x="314.9" y="213.6" font-size="4.4" text-anchor="end" fill="#000">1.9</text>
<text x="231.1" y="293.0" font-size="4.4" text-anchor="start" fill="#000">0</text>
<text x="314.7" y="293.0" font-size="4.4" text-anchor="end" fill="#000">0</text>
<polygon points="276.0,236.9 275.9,237.7 275.8,238.5 276.0,239.2 275.9,240.0 275.4,240.8 274.7,241.5 274.0,242.2 273.7,243.0 273.2,243.8 272.1,244.3 271.3,244.9 270.5,245.6 269.5,246.1 268.8,246.8 268.0,247.5 266.8,247.8 265.6,247.8 264.5,248.1 263.4,248.1 262.4,248.2 261.3,248.8 260.2,249.0 259.3,248.8 258.1,249.0 256.9,249.3 255.8,249.2 255.0,248.8 254.3,248.4 253.8,247.8 253.1,247.4 252.0,247.3 251.3,246.8 251.0,246.2 251.0,245.4 250.8,244.8 250.6,244.2 250.6,243.5 250.6,242.8 251.2,242.1 251.6,241.5 251.2,240.8 250.7,240.1 250.9,239.4 251.7,238.7 252.5,238.1 253.1,237.4 253.6,236.7 254.2,236.0 255.1,235.4 256.1,234.9 257.1,234.5 258.1,234.0 259.1,233.3 260.1,232.9 261.3,232.8 262.4,232.6 263.5,233.0 264.5,232.9 265.7,232.4 266.9,232.1 268.2,231.9 269.1,232.3 269.6,232.9 270.7,233.0 271.9,233.1 272.7,233.5 273.0,234.2 273.1,235.0 273.9,235.4 275.1,235.6 275.8,236.2" fill="#000"/>
<path d="M263.1 232.3h0.75M268.7 247.0h0.75M262.0 252.2h0.75M267.2 231.1h0.75M256.3 235.0h0.75M266.6 247.8h0.75M273.3 235.4h0.75M249.8 243.9h0.75M275.6 238.4h0.75M259.4 232.1h0.75M254.8 251.1h0.75M257.2 248.7h0.75M252.5 235.8h0.75M249.6 243.2h0.75M271.7 234.3h0.75M249.4 244.2h0.75M269.6 247.9h0.75M255.8 250.2h0.75M276.3 242.3h0.75M252.8 237.5h0.75M254.7 249.0h0.75M267.4 248.0h0.75M275.2 237.2h0.75M264.6 249.9h0.75M247.2 241.9h0.75M251.2 237.7h0.75M262.4 233.2h0.75M268.7 232.9h0.75M253.7 234.6h0.75M249.6 248.3h0.75M275.0 234.5h0.75M273.2 242.3h0.75M249.6 244.0h0.75M266.6 247.3h0.75M252.3 250.4h0.75M269.1 246.0h0.75M269.5 247.0h0.75M249.3 242.6h0.75M249.6 244.3h0.75M277.8 237.4h0.75M270.4 249.0h0.75M261.7 233.5h0.75M248.9 242.6h0.75M262.7 233.0h0.75M258.5 233.9h0.75M250.7 240.7h0.75M254.6 249.6h0.75M275.1 240.5h0.75M255.2 234.4h0.75M250.5 241.8h0.75M275.4 242.7h0.75M270.9 231.0h0.75M264.5 247.8h0.75M264.2 247.9h0.75M250.9 244.6h0.75M260.7 248.9h0.75M255.1 249.0h0.75M257.3 232.7h0.75M266.4 247.3h0.75M258.7 248.5h0.75M256.7 235.2h0.75M277.0 236.4h0.75M274.5 239.1h0.75M251.4 249.0h0.75M251.2 250.9h0.75M274.4 240.9h0.75M245.0 244.9h0.75M251.5 247.2h0.75M267.3 231.0h0.75M270.1 246.3h0.75M270.8 233.1h0.75M253.8 236.2h0.75M250.1 246.4h0.75M265.1 248.8h0.75M269.4 232.2h0.75M256.0 248.2h0.75M277.7 235.0h0.75M253.0 238.1h0.75M268.0 231.7h0.75M272.8 244.0h0.75M257.5 234.4h0.75M268.8 248.0h0.75M252.8 236.0h0.75M276.4 238.0h0.75M258.6 249.4h0.75M257.4 249.8h0.75M255.0 236.1h0.75M263.4 232.7h0.75M250.0 242.1h0.75M275.3 243.6h0.75M276.4 240.7h0.75M279.5 237.6h0.75M254.6 249.9h0.75M254.3 247.9h0.75M252.4 248.0h0.75M250.5 243.1h0.75M274.0 235.8h0.75M251.7 247.1h0.75M273.8 236.0h0.75M253.2 237.0h0.75M252.2 250.0h0.75M262.3 250.2h0.75M274.2 239.4h0.75M269.8 232.7h0.75M252.0 246.6h0.75M262.5 250.2h0.75M250.4 243.3h0.75M273.3 234.5h0.75M266.4 250.2h0.75M252.1 248.2h0.75M252.3 246.3h0.75M259.8 251.8h0.75M256.8 233.8h0.75M271.8 234.6h0.75M260.6 248.6h0.75M276.8 237.8h0.75M272.7 243.7h0.75M275.5 237.9h0.75M266.5 247.3h0.75M273.3 241.8h0.75M250.3 243.4h0.75M265.6 232.9h0.75M264.5 248.6h0.75M267.1 232.7h0.75M259.8 234.0h0.75M272.7 235.2h0.75M250.8 239.3h0.75M276.6 242.8h0.75M256.5 235.3h0.75M257.7 233.5h0.75M250.3 244.4h0.75M252.2 246.7h0.75M250.8 240.0h0.75M262.6 248.7h0.75M275.4 241.7h0.75M247.6 245.3h0.75M272.8 243.1h0.75M249.3 244.3h0.75M254.2 249.8h0.75M270.9 233.2h0.75M274.2 236.5h0.75M278.2 235.6h0.75M264.6 251.4h0.75M249.3 238.2h0.75M274.3 237.3h0.75M265.2 231.6h0.75M275.2 241.3h0.75M271.8 247.2h0.75M252.0 238.5h0.75M251.3 245.8h0.75M275.5 242.3h0.75M274.8 242.8h0.75M253.0 236.6h0.75M276.5 239.2h0.75M273.4 235.7h0.75M252.2 247.5h0.75M256.2 234.8h0.75M251.9 236.1h0.75M250.0 240.8h0.75M269.5 246.7h0.75M278.6 233.7h0.75M276.9 236.2h0.75M267.3 232.2h0.75M259.7 233.6h0.75M274.6 233.8h0.75M271.6 231.3h0.75M263.2 232.8h0.75M259.5 249.5h0.75M264.1 232.5h0.75M268.8 230.6h0.75M271.2 246.3h0.75M250.8 240.9h0.75M258.0 248.8h0.75M270.7 244.8h0.75M267.2 248.6h0.75M257.4 251.1h0.75M259.9 251.1h0.75M254.1 248.1h0.75M252.7 246.6h0.75M275.1 237.8h0.75M253.3 250.6h0.75M273.0 235.9h0.75M264.3 248.2h0.75M272.9 242.2h0.75M248.9 240.1h0.75M265.0 248.6h0.75M274.0 236.0h0.75M274.7 236.7h0.75M275.6 244.4h0.75M278.0 237.7h0.75M265.3 231.3h0.75M248.3 242.0h0.75M273.0 245.9h0.75M263.4 249.2h0.75M269.0 246.7h0.75M248.6 240.6h0.75M250.4 237.3h0.75M273.2 233.5h0.75M247.7 241.0h0.75M272.6 234.3h0.75M273.7 242.5h0.75M257.0 234.5h0.75M249.9 235.6h0.75M274.2 233.9h0.75M249.5 247.8h0.75M260.9 232.8h0.75M273.3 242.8h0.75M265.1 231.7h0.75M255.6 235.5h0.75M275.5 244.6h0.75M250.7 244.5h0.75M273.5 235.1h0.75M243.6 250.9h0.75M250.5 237.0h0.75M273.7 236.2h0.75M273.9 241.1h0.75M275.4 238.0h0.75M252.6 248.1h0.75M249.0 250.6h0.75M262.6 230.8h0.75M265.8 248.6h0.75M250.3 244.7h0.75M253.0 236.9h0.75M258.7 249.6h0.75M275.9 236.7h0.75M258.1 248.8h0.75M273.0 241.9h0.75M253.1 247.0h0.75M255.0 233.4h0.75M269.0 228.8h0.75M249.5 240.2h0.75M255.2 247.9h0.75M252.1 238.2h0.75M250.7 242.2h0.75M250.0 244.8h0.75M273.8 242.5h0.75M264.5 231.3h0.75M274.0 243.4h0.75M270.0 232.2h0.75M260.1 228.8h0.75M269.3 233.6h0.75M262.5 249.8h0.75M267.4 229.7h0.75M265.4 250.5h0.75M254.3 249.2h0.75M261.1 233.1h0.75M257.8 249.9h0.75M273.3 233.9h0.75M272.6 233.3h0.75M275.6 236.6h0.75M251.8 245.7h0.75M258.2 233.4h0.75M247.3 236.8h0.75M252.1 237.4h0.75M256.5 234.2h0.75M279.8 236.8h0.75M269.7 233.0h0.75M263.3 233.2h0.75M253.9 237.2h0.75M266.1 249.5h0.75M266.4 247.8h0.75M248.1 243.2h0.75M258.3 249.9h0.75M274.6 234.8h0.75M275.6 234.1h0.75M250.2 243.5h0.75M257.1 249.1h0.75M271.5 246.9h0.75M262.1 232.2h0.75M279.5 237.2h0.75M250.3 244.6h0.75M273.7 247.1h0.75M251.8 249.9h0.75M273.3 233.9h0.75M258.6 248.6h0.75M271.8 243.9h0.75M256.6 234.8h0.75M273.7 243.7h0.75M247.4 244.6h0.75M265.6 232.9h0.75M268.1 248.9h0.75M265.9 229.4h0.75M274.4 237.4h0.75M267.2 230.3h0.75M261.6 233.4h0.75M250.7 237.0h0.75M277.3 235.6h0.75M266.8 232.5h0.75M258.6 251.9h0.75M254.6 234.6h0.75M247.3 241.0h0.75M264.4 248.2h0.75M272.8 244.3h0.75M272.6 231.3h0.75M256.5 235.0h0.75M274.1 243.8h0.75M261.4 231.5h0.75M273.7 242.3h0.75M261.9 233.0h0.75M265.5 232.1h0.75M273.0 242.6h0.75M270.0 233.0h0.75M273.9 241.0h0.75M275.9 242.1h0.75M275.6 241.6h0.75M254.3 236.3h0.75M250.7 249.8h0.75M275.4 238.7h0.75M265.2 248.2h0.75M256.6 233.0h0.75M247.5 243.2h0.75M274.0 244.1h0.75M261.2 249.1h0.75M259.4 233.6h0.75M258.8 248.9h0.75M268.8 232.9h0.75M249.1 245.7h0.75M272.4 234.0h0.75M247.2 248.6h0.75M269.3 232.2h0.75M263.9 248.4h0.75M250.7 244.1h0.75M272.6 245.9h0.75M275.0 236.7h0.75M254.4 248.8h0.75M272.6 231.6h0.75M272.9 243.6h0.75M259.2 232.7h0.75M251.1 234.8h0.75M250.0 243.6h0.75M251.6 246.6h0.75M272.2 233.6h0.75M275.7 232.2h0.75M274.5 235.4h0.75M271.8 234.4h0.75M270.2 232.1h0.75M274.9 236.7h0.75M267.4 233.2h0.75M253.7 250.3h0.75M268.4 248.8h0.75M248.7 246.6h0.75M268.7 246.9h0.75M258.0 232.3h0.75M273.6 236.5h0.75M255.4 248.4h0.75M250.2 240.5h0.75M276.5 233.2h0.75M255.1 249.6h0.75M273.9 240.7h0.75M249.9 240.1h0.75M274.9 236.3h0.75M256.7 249.2h0.75M270.3 245.9h0.75M246.5 239.3h0.75M251.6 247.8h0.75M259.5 248.9h0.75M250.9 246.9h0.75M243.9 241.4h0.75M274.4 240.0h0.75M257.4 248.7h0.75M272.0 231.8h0.75M262.6 232.9h0.75M249.5 242.5h0.75M275.7 239.3h0.75M254.9 236.3h0.75M253.8 249.6h0.75M266.8 229.7h0.75M274.5 240.6h0.75M253.0 236.3h0.75M274.5 239.5h0.75M275.5 238.9h0.75M250.5 237.5h0.75M251.6 246.6h0.75M269.1 246.2h0.75M265.3 232.8h0.75M257.5 234.0h0.75M264.7 232.5h0.75M252.8 236.2h0.75M249.9 241.2h0.75M273.8 236.2h0.75M248.3 243.0h0.75M274.9 242.5h0.75M266.0 247.8h0.75M277.9 237.2h0.75M269.4 232.6h0.75M257.0 232.8h0.75M265.9 247.8h0.75M260.5 250.2h0.75M256.0 250.2h0.75M248.3 240.6h0.75M277.1 235.7h0.75M274.7 236.6h0.75M269.2 233.6h0.75M250.8 242.0h0.75M261.8 232.8h0.75M267.7 247.1h0.75M247.6 242.0h0.75M248.1 245.5h0.75M261.9 233.4h0.75M251.0 245.5h0.75M263.7 247.9h0.75M261.2 232.0h0.75M250.4 247.4h0.75M253.2 235.2h0.75M250.3 242.6h0.75M258.3 233.2h0.75M259.9 248.8h0.75M273.8 242.2h0.75M258.7 233.8h0.75M270.7 246.2h0.75M274.7 243.6h0.75M273.1 245.4h0.75M264.3 247.9h0.75M263.0 249.2h0.75M276.0 232.9h0.75M260.3 233.4h0.75M248.5 241.3h0.75M273.3 235.2h0.75M280.1 236.7h0.75M259.0 249.1h0.75M252.5 247.0h0.75M278.7 237.7h0.75M259.4 251.0h0.75M270.5 234.0h0.75M267.3 247.2h0.75M256.0 248.3h0.75M269.3 245.8h0.75M250.7 240.4h0.75M260.2 249.4h0.75M262.1 232.3h0.75M256.6 250.3h0.75M263.8 229.9h0.75M249.6 245.8h0.75M272.2 244.1h0.75M248.3 238.3h0.75M271.9 234.6h0.75M278.5 238.4h0.75M265.9 249.0h0.75M267.1 232.0h0.75M250.0 244.4h0.75M269.6 247.3h0.75M251.3 248.0h0.75M272.7 249.4h0.75M276.7 239.1h0.75M272.8 243.2h0.75M250.4 242.9h0.75M263.7 232.9h0.75M252.6 238.2h0.75M275.2 244.4h0.75M261.4 233.2h0.75M273.2 234.2h0.75M253.8 248.2h0.75M255.2 252.5h0.75M274.3 229.9h0.75M250.4 242.0h0.75M277.0 244.2h0.75M262.1 230.9h0.75M249.3 238.9h0.75M273.1 235.7h0.75M262.9 233.2h0.75M258.8 250.4h0.75M251.9 248.7h0.75M277.0 239.2h0.75M251.8 251.2h0.75M248.2 246.6h0.75M260.1 250.8h0.75M275.8 238.3h0.75M274.9 241.3h0.75M253.1 234.3h0.75M274.6 236.0h0.75M278.1 233.2h0.75M257.2 235.0h0.75M249.6 238.7h0.75M271.6 234.7h0.75M250.6 239.5h0.75M262.6 250.5h0.75M271.6 234.6h0.75M274.7 239.3h0.75M274.1 237.2h0.75M268.4 248.2h0.75M270.6 233.8h0.75M249.2 240.0h0.75M253.4 247.4h0.75M279.6 236.1h0.75M275.0 240.1h0.75M282.0 243.9h0.75M269.3 229.2h0.75M276.8 239.1h0.75M248.5 245.2h0.75M272.1 244.8h0.75M264.4 232.1h0.75M269.3 233.4h0.75M263.3 248.8h0.75M251.2 246.0h0.75M248.9 240.8h0.75M246.3 244.7h0.75M275.3 236.5h0.75M274.5 238.1h0.75M259.6 249.1h0.75M253.2 247.2h0.75M271.5 234.6h0.75M270.2 232.7h0.75M258.2 232.8h0.75M260.2 250.5h0.75M268.7 248.0h0.75M250.1 239.4h0.75M271.9 246.5h0.75M266.0 232.5h0.75M276.8 235.3h0.75M267.3 246.9h0.75M258.5 234.3h0.75M251.8 236.2h0.75M247.5 244.1h0.75M273.0 233.6h0.75M252.8 236.0h0.75M249.1 245.0h0.75M248.3 240.6h0.75M252.8 247.0h0.75M251.8 247.3h0.75M255.6 249.4h0.75M252.1 247.4h0.75M274.3 235.9h0.75M274.2 238.2h0.75M252.7 249.3h0.75M250.5 239.6h0.75M265.4 248.1h0.75M269.0 233.5h0.75M261.5 251.9h0.75M258.7 249.5h0.75M270.2 233.8h0.75M265.9 249.8h0.75M256.5 234.9h0.75M248.3 246.7h0.75M265.9 248.0h0.75M270.2 231.2h0.75M275.8 243.7h0.75M275.6 236.2h0.75M249.3 246.9h0.75M274.1 240.3h0.75M276.4 240.7h0.75M252.6 235.1h0.75M271.0 233.0h0.75M248.0 237.5h0.75M251.4 239.9h0.75M264.6 248.5h0.75M257.4 231.3h0.75M266.0 247.4h0.75M250.3 240.7h0.75M251.7 246.9h0.75M271.0 247.3h0.75M257.7 250.3h0.75M277.8 233.0h0.75M251.4 238.9h0.75M253.6 247.4h0.75M251.8 237.0h0.75M275.0 238.9h0.75M250.7 241.3h0.75M260.2 248.8h0.75M272.0 232.8h0.75M264.3 248.9h0.75M262.6 249.5h0.75M272.7 245.9h0.75M252.0 246.8h0.75M273.1 247.0h0.75M272.0 243.8h0.75M258.3 248.8h0.75M261.0 232.9h0.75M250.3 245.6h0.75M262.1 232.7h0.75M249.2 249.4h0.75M265.2 250.9h0.75M243.6 244.3h0.75M253.8 249.5h0.75M272.0 244.1h0.75M254.5 251.2h0.75M249.4 246.8h0.75M268.1 247.5h0.75M258.0 248.8h0.75M248.3 242.4h0.75M257.7 234.9h0.75M274.9 240.7h0.75M267.4 247.1h0.75M247.2 242.1h0.75M264.7 248.3h0.75M262.2 248.8h0.75M263.4 232.6h0.75M255.2 233.6h0.75M251.1 235.4h0.75M274.2 239.5h0.75M263.9 248.2h0.75M266.1 232.0h0.75M251.3 247.8h0.75M274.2 236.5h0.75M256.7 250.4h0.75M273.6 236.7h0.75M267.6 232.8h0.75M254.0 236.9h0.75M270.5 233.2h0.75M273.5 242.4h0.75M264.5 232.8h0.75M248.3 235.3h0.75M262.0 249.9h0.75M273.9 241.7h0.75M281.7 238.7h0.75M256.4 249.8h0.75M252.3 246.8h0.75M265.6 250.9h0.75M252.8 237.9h0.75M248.5 244.2h0.75M269.3 233.3h0.75M269.6 245.6h0.75M250.2 243.6h0.75M249.5 241.7h0.75M272.1 232.2h0.75M275.4 239.3h0.75M277.8 237.5h0.75M271.7 244.5h0.75M262.8 232.0h0.75M261.1 248.6h0.75M254.2 233.7h0.75M256.0 235.5h0.75M251.4 249.3h0.75M254.3 236.6h0.75M272.2 244.0h0.75M253.9 247.7h0.75M254.9 248.0h0.75M249.1 241.8h0.75M264.2 232.4h0.75M258.6 248.6h0.75M271.3 229.9h0.75M261.1 230.3h0.75M263.2 232.1h0.75M273.8 243.4h0.75M273.5 242.2h0.75M258.0 251.4h0.75M249.6 242.5h0.75M257.2 234.9h0.75M264.2 230.9h0.75M258.4 251.4h0.75M261.2 233.4h0.75M254.5 249.7h0.75M271.2 245.0h0.75M248.3 247.3h0.75M256.6 250.8h0.75M249.9 243.7h0.75M271.4 231.9h0.75M256.0 234.9h0.75M268.8 232.6h0.75M247.9 241.7h0.75M262.7 248.8h0.75M264.8 230.2h0.75M274.1 241.6h0.75M273.6 235.8h0.75M264.8 233.1h0.75M249.3 241.7h0.75M252.5 248.3h0.75M274.8 241.9h0.75M277.3 243.1h0.75M255.1 236.0h0.75M264.9 231.6h0.75M274.1 233.6h0.75M274.0 238.0h0.75M262.5 233.0h0.75M250.4 242.7h0.75M272.6 245.9h0.75M271.7 233.1h0.75M252.4 249.4h0.75M262.4 249.2h0.75M263.0 229.2h0.75M260.0 250.1h0.75M248.4 245.6h0.75M254.6 250.4h0.75M253.6 233.8h0.75M249.7 241.2h0.75M247.3 243.4h0.75M280.2 236.2h0.75M256.1 232.3h0.75M268.2 232.2h0.75M258.0 248.7h0.75M266.5 231.3h0.75M274.8 236.9h0.75M276.3 239.4h0.75M273.7 241.1h0.75M258.7 249.8h0.75M251.6 246.5h0.75M271.1 234.2h0.75M247.2 241.5h0.75M259.9 249.4h0.75M256.6 249.8h0.75M279.2 232.7h0.75M266.7 231.2h0.75M272.1 243.4h0.75M272.7 243.7h0.75M274.8 236.5h0.75M276.4 234.2h0.75M266.6 247.4h0.75M262.7 248.2h0.75M250.7 242.8h0.75M254.9 235.8h0.75M250.2 239.3h0.75M259.1 233.7h0.75M256.9 233.4h0.75M250.4 246.2h0.75M274.8 239.3h0.75M251.3 238.3h0.75M268.4 233.0h0.75M269.8 230.4h0.75M247.6 245.8h0.75M262.9 248.4h0.75M276.4 235.9h0.75M274.2 237.7h0.75M256.9 249.0h0.75M274.2 243.2h0.75M256.6 251.0h0.75M257.1 251.7h0.75M269.8 245.9h0.75M245.6 239.3h0.75M277.4 240.4h0.75M258.7 233.2h0.75M278.7 231.3h0.75M255.7 248.2h0.75M239.6 244.1h0.75M265.1 251.6h0.75M272.6 235.4h0.75M250.3 241.3h0.75M250.4 240.4h0.75M277.3 232.9h0.75M264.5 250.6h0.75M277.7 237.6h0.75M273.5 234.7h0.75M255.8 248.6h0.75M265.9 248.6h0.75M252.3 236.1h0.75M271.6 234.5h0.75M256.7 235.2h0.75M271.8 244.5h0.75M274.0 237.4h0.75M248.7 247.2h0.75M276.5 234.9h0.75M245.5 243.4h0.75M250.1 243.4h0.75M256.8 230.1h0.75M268.0 231.6h0.75M249.8 241.4h0.75M269.8 248.3h0.75M278.1 237.9h0.75M249.6 240.5h0.75M271.8 234.4h0.75M269.5 246.5h0.75M250.6 239.7h0.75M275.2 237.3h0.75M257.8 234.7h0.75M264.0 248.1h0.75M270.0 231.1h0.75M272.1 247.3h0.75M260.7 233.8h0.75M255.3 249.5h0.75M252.8 246.7h0.75M251.0 239.9h0.75M270.3 250.5h0.75M256.5 235.3h0.75M266.4 247.2h0.75M274.9 236.5h0.75M259.4 249.1h0.75M271.1 245.6h0.75M256.4 234.6h0.75M263.9 232.6h0.75M273.2 242.4h0.75M250.1 247.0h0.75M277.2 243.2h0.75M253.2 235.1h0.75M272.6 243.8h0.75M260.7 232.4h0.75M250.1 245.8h0.75M250.0 238.5h0.75M269.4 246.5h0.75M249.5 241.9h0.75M278.4 235.9h0.75M258.2 249.7h0.75M252.7 237.8h0.75M265.1 249.5h0.75M276.4 236.7h0.75M273.2 234.6h0.75M253.2 236.6h0.75M269.5 248.6h0.75M274.5 236.5h0.75M260.3 248.6h0.75M259.7 233.1h0.75M273.7 233.7h0.75M276.3 236.9h0.75M274.1 239.2h0.75M275.3 238.5h0.75M251.9 237.4h0.75M268.2 233.0h0.75M274.1 235.4h0.75M251.8 238.2h0.75M263.6 249.1h0.75M277.1 236.8h0.75M259.1 248.9h0.75M246.6 245.3h0.75M260.8 248.5h0.75M265.1 231.7h0.75M262.5 233.2h0.75M249.6 243.2h0.75M251.5 247.1h0.75M278.0 230.0h0.75M258.1 231.2h0.75M273.2 244.9h0.75M266.2 233.1h0.75M251.2 237.3h0.75M263.2 248.6h0.75M245.6 243.4h0.75M257.9 248.4h0.75M274.6 240.7h0.75M275.8 230.0h0.75M277.5 236.7h0.75M273.5 243.0h0.75M265.3 231.2h0.75M263.7 231.0h0.75M274.3 238.0h0.75M267.1 233.0h0.75M247.1 244.2h0.75M268.3 232.9h0.75M258.9 248.7h0.75M273.5 236.8h0.75M261.9 232.7h0.75M248.1 240.1h0.75M262.0 228.3h0.75M278.0 233.8h0.75M260.4 233.7h0.75M258.8 248.9h0.75M274.6 236.7h0.75M252.6 246.6h0.75M274.1 237.3h0.75M256.4 234.4h0.75M261.5 232.5h0.75M252.9 247.7h0.75M255.8 233.6h0.75M259.2 251.5h0.75M258.5 231.8h0.75M252.5 248.4h0.75M275.3 241.2h0.75M259.9 248.6h0.75M274.2 239.7h0.75M258.3 232.7h0.75M268.4 247.7h0.75M266.7 231.2h0.75M266.7 248.4h0.75M253.3 248.8h0.75M271.3 244.7h0.75M249.9 236.8h0.75M272.9 247.6h0.75M250.2 243.8h0.75M260.6 248.5h0.75M249.6 245.5h0.75M246.7 240.3h0.75M249.4 239.9h0.75M254.5 250.3h0.75M273.5 236.7h0.75M274.6 244.3h0.75M266.4 247.2h0.75M273.6 244.3h0.75M251.0 244.3h0.75M263.8 247.9h0.75M268.0 247.1h0.75M263.7 247.9h0.75M258.9 248.9h0.75M256.0 249.1h0.75M274.9 238.2h0.75M258.6 231.9h0.75M275.4 237.2h0.75M270.9 233.7h0.75M268.1 247.3h0.75M272.4 231.7h0.75M250.7 244.1h0.75M273.8 243.4h0.75M251.9 238.3h0.75M251.0 237.4h0.75M254.3 249.3h0.75M274.1 238.2h0.75M270.5 230.9h0.75M278.1 241.2h0.75M271.5 246.7h0.75M268.3 246.9h0.75M266.5 230.4h0.75M253.0 250.3h0.75M264.3 251.4h0.75M254.2 235.4h0.75M255.0 248.3h0.75M263.8 233.0h0.75M271.8 244.0h0.75M253.0 237.3h0.75M248.5 243.4h0.75M259.9 231.3h0.75M250.3 242.6h0.75M265.1 247.8h0.75M273.8 241.1h0.75M270.4 233.2h0.75M275.4 241.8h0.75M251.2 239.7h0.75M275.7 238.4h0.75M250.9 241.0h0.75M275.3 241.4h0.75M265.8 249.4h0.75M248.8 243.1h0.75M273.4 235.0h0.75M252.3 247.6h0.75M267.5 232.0h0.75M261.4 228.4h0.75M257.4 233.7h0.75M275.0 234.9h0.75M260.4 229.5h0.75M250.6 240.9h0.75M266.1 248.1h0.75M267.6 248.8h0.75M248.5 245.4h0.75M256.8 234.3h0.75M276.4 236.2h0.75M265.6 225.7h0.75M254.6 236.0h0.75M273.7 234.4h0.75M256.2 249.2h0.75M251.5 245.3h0.75M259.8 249.6h0.75M251.0 244.8h0.75M269.7 245.4h0.75M256.8 249.3h0.75M249.2 243.0h0.75M272.4 244.1h0.75M251.0 241.3h0.75M262.0 252.6h0.75M259.1 249.2h0.75M248.1 245.3h0.75M277.3 236.8h0.75M267.6 246.8h0.75M253.6 248.2h0.75M274.2 235.6h0.75M250.0 240.5h0.75M248.8 235.6h0.75M266.7 231.8h0.75M274.9 239.0h0.75M244.6 243.4h0.75M275.6 240.6h0.75M254.1 249.9h0.75M261.9 249.8h0.75M253.3 251.4h0.75M270.7 233.5h0.75M262.9 248.5h0.75M275.0 236.2h0.75M267.3 246.9h0.75M276.8 241.1h0.75M262.8 232.5h0.75M263.8 231.4h0.75M270.1 233.7h0.75M265.3 232.4h0.75M271.0 233.0h0.75M264.0 248.8h0.75M250.6 244.3h0.75M270.1 245.1h0.75M247.1 240.6h0.75M273.7 245.9h0.75M250.2 246.0h0.75M263.4 248.2h0.75M256.8 231.7h0.75M250.9 238.6h0.75M276.5 233.8h0.75M275.9 239.7h0.75M272.8 246.7h0.75M271.9 244.1h0.75M249.9 240.1h0.75M250.2 245.9h0.75M258.0 234.4h0.75M259.8 249.6h0.75M275.5 233.3h0.75M278.6 235.1h0.75M254.8 247.9h0.75M264.1 248.7h0.75M272.9 232.5h0.75M250.6 243.9h0.75M274.1 229.8h0.75M273.9 242.7h0.75M249.4 243.6h0.75M270.5 247.4h0.75M274.3 236.6h0.75M252.4 238.8h0.75M260.4 233.7h0.75M272.7 234.1h0.75M269.6 233.2h0.75M274.5 239.7h0.75M273.7 241.1h0.75M274.4 235.9h0.75M257.7 234.1h0.75M250.8 243.4h0.75M274.5 242.3h0.75M250.6 247.1h0.75M266.5 232.5h0.75M274.3 243.7h0.75M274.1 239.9h0.75M252.9 237.5h0.75M279.5 233.6h0.75M275.4 244.3h0.75M261.0 231.5h0.75M275.2 236.9h0.75M273.9 243.5h0.75M272.2 243.8h0.75M251.1 237.8h0.75M278.0 237.0h0.75M273.3 236.4h0.75M263.4 248.5h0.75M276.1 243.5h0.75M272.6 232.0h0.75M250.6 238.7h0.75M252.2 239.1h0.75M261.8 232.1h0.75M273.8 243.2h0.75M253.8 236.8h0.75M272.8 242.6h0.75M263.9 232.7h0.75M256.0 249.5h0.75M245.3 240.0h0.75M250.5 241.0h0.75M253.9 250.7h0.75M250.1 240.4h0.75M247.3 235.4h0.75M251.0 240.2h0.75M250.6 245.5h0.75M276.8 237.9h0.75M259.4 249.6h0.75M266.1 231.7h0.75M251.9 237.6h0.75M264.1 248.4h0.75M249.2 242.9h0.75M261.4 233.2h0.75M256.2 249.3h0.75M266.9 232.7h0.75M276.3 232.8h0.75M274.2 240.9h0.75M276.3 238.2h0.75M253.3 234.2h0.75M251.6 246.8h0.75M271.9 245.8h0.75M263.1 232.6h0.75M249.2 239.9h0.75M266.8 247.1h0.75M274.7 238.8h0.75M249.1 240.6h0.75M245.8 241.9h0.75M246.8 247.4h0.75M262.1 249.3h0.75M273.4 234.4h0.75M275.4 237.2h0.75M268.5 246.8h0.75M248.7 244.2h0.75M273.0 234.0h0.75M276.1 241.9h0.75M257.0 235.1h0.75M252.7 236.3h0.75M275.6 238.9h0.75M267.0 232.2h0.75M276.0 239.3h0.75M270.9 234.0h0.75M271.1 245.8h0.75M273.8 233.3h0.75M250.7 236.0h0.75M276.5 241.9h0.75M265.1 232.2h0.75M271.8 244.5h0.75M255.4 233.0h0.75M273.7 240.5h0.75M274.5 234.8h0.75M270.4 232.2h0.75M251.1 240.5h0.75M258.4 248.8h0.75M251.4 245.7h0.75M254.3 236.8h0.75M272.4 232.8h0.75M276.5 241.1h0.75M246.6 242.6h0.75M245.7 246.2h0.75M257.2 235.0h0.75M274.0 236.7h0.75M271.8 233.1h0.75M258.4 249.5h0.75M256.6 233.6h0.75M262.6 249.1h0.75M257.5 234.1h0.75M270.7 245.0h0.75M253.4 236.2h0.75M262.8 248.2h0.75M263.6 252.4h0.75M259.8 250.6h0.75M251.0 244.7h0.75M262.4 230.7h0.75M257.1 235.0h0.75M249.2 245.6h0.75M248.4 243.6h0.75M256.4 235.1h0.75M260.0 248.7h0.75M247.3 240.9h0.75M256.9 234.0h0.75M254.2 248.8h0.75M275.8 238.2h0.75M275.0 239.2h0.75M277.9 228.8h0.75M271.9 245.7h0.75M261.9 250.9h0.75M251.6 235.9h0.75M259.3 232.8h0.75M266.7 232.7h0.75M260.7 232.6h0.75M264.6 250.2h0.75M255.9 249.0h0.75M269.2 233.5h0.75M248.6 245.3h0.75M270.4 232.5h0.75M256.7 248.4h0.75M248.2 242.9h0.75M264.0 248.9h0.75M254.8 236.0h0.75M273.0 234.6h0.75M277.7 234.4h0.75M250.1 243.6h0.75M256.6 248.4h0.75M250.8 244.1h0.75M260.7 229.8h0.75M262.5 248.9h0.75M279.2 239.6h0.75M269.8 230.7h0.75M272.8 235.5h0.75M253.4 249.2h0.75M251.1 238.8h0.75M269.6 232.4h0.75M257.5 251.6h0.75M262.5 233.4h0.75M252.7 236.1h0.75M273.6 241.1h0.75M254.0 251.2h0.75M274.7 235.8h0.75M253.0 237.6h0.75M250.9 241.2h0.75M272.4 245.8h0.75M276.1 235.0h0.75M263.7 230.8h0.75M255.9 231.6h0.75M266.3 231.9h0.75M250.2 237.2h0.75M270.6 246.7h0.75M258.7 249.1h0.75M262.8 230.7h0.75M274.5 237.0h0.75M273.9 240.4h0.75M274.3 241.2h0.75M253.8 252.1h0.75M268.4 232.5h0.75M251.7 237.5h0.75M250.6 246.3h0.75M262.4 252.2h0.75M249.7 245.6h0.75M271.2 244.5h0.75M264.2 232.1h0.75M275.1 240.2h0.75M275.6 245.5h0.75M278.4 239.1h0.75M272.7 245.1h0.75M252.7 247.4h0.75M250.1 248.1h0.75M253.3 248.2h0.75M262.1 249.3h0.75M271.6 248.8h0.75M250.6 241.9h0.75M258.0 234.0h0.75M255.5 236.0h0.75M272.6 234.2h0.75M252.1 247.1h0.75M249.9 242.7h0.75M254.6 236.0h0.75M257.0 234.3h0.75M251.2 246.2h0.75M257.5 233.6h0.75M251.0 248.0h0.75M272.6 242.8h0.75M269.0 246.0h0.75M254.4 236.4h0.75M271.6 233.7h0.75M264.8 248.0h0.75M271.4 244.4h0.75M249.0 240.3h0.75M264.9 232.7h0.75M250.9 248.1h0.75M252.9 236.1h0.75M274.3 242.0h0.75M273.4 234.9h0.75M252.7 237.3h0.75M262.1 233.3h0.75M253.5 250.7h0.75M249.8 243.8h0.75M267.5 247.1h0.75M256.0 235.5h0.75M274.3 235.0h0.75M272.7 229.5h0.75M268.9 229.4h0.75M271.7 243.6h0.75M273.0 229.1h0.75M250.9 238.0h0.75M252.1 247.6h0.75M250.5 241.9h0.75M272.6 243.4h0.75M247.2 240.5h0.75M260.8 251.2h0.75M262.5 249.5h0.75M268.8 248.6h0.75M248.7 241.7h0.75M274.3 241.3h0.75M249.3 243.3h0.75M269.3 248.3h0.75M260.3 248.8h0.75M266.6 249.3h0.75M276.3 238.6h0.75M257.4 234.8h0.75M273.7 243.1h0.75M273.6 234.5h0.75M249.9 241.5h0.75M249.6 244.2h0.75M269.6 233.6h0.75M256.6 249.7h0.75M269.1 246.3h0.75M269.0 229.6h0.75M251.1 239.1h0.75M268.7 247.3h0.75M259.3 234.1h0.75M250.7 241.1h0.75M274.0 238.5h0.75M254.0 236.8h0.75M275.8 236.5h0.75M248.4 243.6h0.75M272.9 235.8h0.75M268.8 232.3h0.75M266.5 233.1h0.75M267.3 247.7h0.75M274.6 241.1h0.75M267.3 248.1h0.75M271.1 246.5h0.75M250.4 238.0h0.75M275.1 234.3h0.75M255.4 235.4h0.75M270.9 233.2h0.75M261.1 231.3h0.75M263.8 249.3h0.75M277.8 234.3h0.75M255.9 252.4h0.75M253.5 234.4h0.75M264.8 230.6h0.75M253.6 248.5h0.75M251.9 235.8h0.75M270.0 232.4h0.75M274.0 238.1h0.75M274.2 242.3h0.75M276.8 242.0h0.75M267.6 249.6h0.75M260.6 233.6h0.75M251.9 248.7h0.75M248.9 241.8h0.75M245.0 245.2h0.75M250.1 246.4h0.75M255.7 235.0h0.75M256.3 235.3h0.75M260.7 230.3h0.75M256.2 249.5h0.75M273.3 241.9h0.75M270.4 232.6h0.75M271.2 247.7h0.75M265.1 231.1h0.75M268.8 232.4h0.75M258.1 248.8h0.75M258.2 233.5h0.75M260.4 249.4h0.75M252.0 250.3h0.75M266.7 247.8h0.75M256.7 234.2h0.75M254.0 236.2h0.75M275.5 237.7h0.75M261.2 252.5h0.75M274.6 235.1h0.75M274.2 240.5h0.75M271.0 244.8h0.75M246.8 244.2h0.75M262.8 248.2h0.75M270.4 246.2h0.75M271.3 233.7h0.75M266.0 248.1h0.75M274.2 243.2h0.75M252.7 236.7h0.75M250.7 241.9h0.75M259.8 233.4h0.75M272.6 233.1h0.75M270.1 246.7h0.75M257.0 234.8h0.75M277.2 240.3h0.75M262.0 249.1h0.75M269.7 232.6h0.75M259.6 232.9h0.75M262.4 250.2h0.75M254.5 249.4h0.75M249.3 242.9h0.75M271.3 246.2h0.75M272.7 246.4h0.75M267.8 232.7h0.75M252.1 253.1h0.75M280.0 238.4h0.75M270.6 249.4h0.75M261.3 233.6h0.75M260.5 233.6h0.75M271.9 243.4h0.75M274.2 241.6h0.75M256.9 249.4h0.75M248.2 245.3h0.75M269.7 228.9h0.75M271.7 234.3h0.75M246.6 241.1h0.75M270.7 246.0h0.75M266.8 247.5h0.75M252.0 238.6h0.75M261.6 232.9h0.75M266.6 231.8h0.75M267.4 233.1h0.75M251.9 237.5h0.75M256.4 235.0h0.75M258.0 233.9h0.75M272.7 244.6h0.75M260.4 233.3h0.75M253.2 237.9h0.75M257.2 233.8h0.75M250.5 245.4h0.75M260.1 233.0h0.75M250.7 243.7h0.75M251.0 239.8h0.75M267.7 247.0h0.75M270.6 233.6h0.75M270.0 233.0h0.75M263.2 249.9h0.75M275.8 237.4h0.75M248.8 236.6h0.75M250.5 243.3h0.75M254.2 235.6h0.75M271.6 233.8h0.75M275.7 241.0h0.75M271.9 231.5h0.75M257.4 234.4h0.75M272.0 231.1h0.75M266.7 233.0h0.75M264.3 232.7h0.75M249.3 246.5h0.75M265.0 230.0h0.75M281.3 231.9h0.75M258.8 233.1h0.75M252.6 249.0h0.75M249.3 244.1h0.75M263.7 248.3h0.75M268.9 230.6h0.75M254.8 234.4h0.75M249.7 240.6h0.75M276.4 237.2h0.75M274.5 235.7h0.75M251.1 245.6h0.75M264.1 248.0h0.75M277.7 238.4h0.75M264.3 230.9h0.75M264.4 250.5h0.75M252.9 251.5h0.75M273.9 234.9h0.75M254.8 235.1h0.75M274.1 237.7h0.75M273.3 242.6h0.75M265.1 250.0h0.75M252.0 233.4h0.75M257.5 234.6h0.75M249.9 243.0h0.75M266.4 233.0h0.75M248.3 240.1h0.75M257.0 250.2h0.75M258.9 248.7h0.75M248.2 241.2h0.75M265.1 247.8h0.75M275.5 237.8h0.75M252.1 246.1h0.75M270.1 233.6h0.75M260.3 233.7h0.75M258.9 250.8h0.75M275.5 236.6h0.75M253.6 249.1h0.75M264.5 252.3h0.75M258.8 252.5h0.75M259.3 249.3h0.75M271.0 232.2h0.75M270.4 246.9h0.75M255.6 229.9h0.75M268.2 232.2h0.75M251.7 239.4h0.75M262.3 231.3h0.75M276.2 240.4h0.75M263.1 249.0h0.75M253.0 248.9h0.75M249.4 242.5h0.75M271.3 232.6h0.75M262.6 248.7h0.75M272.8 242.9h0.75M274.6 232.4h0.75M256.5 248.4h0.75M270.9 230.3h0.75M280.8 234.9h0.75M274.5 240.6h0.75M250.3 244.2h0.75M264.1 247.8h0.75M255.0 235.2h0.75M272.3 243.4h0.75M274.0 241.9h0.75M273.0 242.4h0.75M271.4 231.5h0.75M264.4 233.1h0.75M251.3 235.8h0.75M265.7 232.6h0.75M274.1 239.6h0.75M268.5 250.4h0.75M260.0 230.7h0.75M273.1 242.0h0.75M272.7 245.0h0.75M253.8 235.2h0.75M250.8 245.3h0.75M269.2 233.2h0.75M255.2 234.5h0.75M275.9 240.3h0.75M262.6 230.5h0.75M250.2 239.7h0.75M260.6 232.8h0.75M262.4 249.3h0.75M267.6 247.7h0.75M250.8 243.1h0.75M256.7 232.3h0.75M250.3 243.8h0.75M249.5 240.3h0.75M249.5 244.0h0.75M271.0 232.1h0.75M263.0 232.2h0.75M274.2 243.7h0.75M259.6 249.0h0.75M250.1 244.8h0.75M274.6 237.2h0.75M254.3 249.9h0.75M273.8 233.3h0.75M252.8 237.9h0.75M252.1 251.9h0.75M265.0 230.3h0.75M271.7 244.5h0.75M250.9 249.1h0.75M250.8 246.0h0.75M272.1 232.2h0.75M261.2 230.4h0.75M255.8 248.4h0.75M267.8 246.4h0.75M269.8 246.0h0.75M272.8 244.1h0.75M252.0 248.6h0.75M255.7 235.4h0.75M274.9 238.4h0.75M260.1 231.4h0.75M260.8 251.3h0.75M256.4 235.0h0.75M273.5 236.0h0.75M248.5 242.1h0.75M262.0 248.4h0.75M274.7 236.3h0.75M251.4 239.7h0.75M273.5 236.3h0.75M265.6 231.1h0.75M270.8 247.0h0.75M274.6 239.2h0.75M275.1 241.4h0.75M269.7 245.7h0.75M263.7 229.9h0.75M274.0 236.0h0.75M271.5 244.2h0.75M264.6 232.4h0.75M263.2 233.1h0.75M264.2 232.0h0.75M274.9 239.3h0.75M258.4 234.4h0.75M261.3 232.6h0.75M262.3 248.6h0.75M267.8 232.9h0.75M272.4 245.6h0.75M276.8 238.9h0.75M264.1 248.8h0.75M257.1 232.9h0.75M269.2 247.5h0.75M253.5 237.5h0.75M276.6 237.3h0.75M273.0 231.7h0.75M249.8 243.4h0.75M273.6 233.5h0.75M248.5 243.9h0.75M248.0 245.5h0.75M250.8 241.9h0.75M257.8 249.3h0.75M266.8 247.7h0.75M260.0 233.4h0.75M247.9 247.8h0.75M275.1 244.3h0.75M259.7 233.0h0.75M252.9 249.8h0.75M273.4 235.7h0.75M252.7 236.3h0.75M273.2 243.0h0.75M252.7 248.5h0.75M251.7 234.9h0.75M248.2 240.8h0.75M273.9 244.6h0.75M242.2 239.8h0.75M269.6 247.0h0.75M257.2 234.9h0.75M253.1 235.3h0.75M250.5 244.9h0.75M251.2 236.6h0.75M277.7 242.1h0.75M277.2 237.4h0.75M248.6 242.8h0.75M253.3 247.1h0.75M269.9 231.9h0.75M250.7 243.7h0.75M275.1 243.7h0.75M276.2 232.9h0.75M267.7 247.2h0.75M266.7 247.2h0.75M256.9 234.3h0.75M245.6 241.6h0.75M248.2 250.0h0.75M276.2 236.9h0.75M275.3 238.3h0.75M264.7 232.9h0.75M260.7 248.6h0.75M249.1 243.3h0.75M272.5 242.7h0.75M252.3 248.9h0.75M251.1 245.1h0.75M274.9 237.2h0.75M269.1 245.7h0.75M250.8 241.7h0.75M262.4 229.3h0.75M250.6 242.3h0.75M274.4 236.2h0.75M249.7 238.8h0.75M252.0 246.9h0.75M254.5 249.0h0.75M274.9 241.9h0.75M274.9 236.5h0.75M249.7 244.1h0.75M265.6 231.1h0.75M253.6 249.7h0.75M269.2 247.7h0.75M276.1 237.8h0.75M269.7 245.7h0.75M259.3 233.5h0.75M269.2 233.6h0.75M272.9 235.4h0.75M247.4 237.6h0.75M275.7 233.3h0.75M268.5 232.4h0.75M262.6 233.3h0.75M262.3 231.9h0.75M273.6 241.5h0.75M250.7 238.8h0.75M270.6 246.8h0.75M275.0 235.5h0.75M265.6 232.7h0.75M251.4 233.6h0.75M252.4 247.8h0.75M273.1 243.7h0.75M262.2 248.4h0.75M270.8 233.8h0.75M269.7 232.9h0.75M271.7 232.9h0.75M255.8 232.4h0.75M265.1 248.4h0.75M259.5 249.7h0.75M277.7 239.1h0.75M257.2 249.9h0.75M249.6 242.3h0.75M281.2 234.9h0.75M273.8 235.4h0.75M244.7 244.0h0.75M268.9 247.2h0.75M247.9 245.8h0.75M274.0 233.0h0.75M255.6 234.3h0.75M273.1 244.1h0.75M275.1 240.4h0.75M273.9 236.5h0.75M272.3 244.2h0.75M275.1 240.3h0.75M266.6 248.4h0.75M253.0 237.5h0.75M279.2 236.9h0.75M248.9 240.1h0.75M252.1 247.8h0.75M257.2 248.3h0.75M257.7 249.6h0.75M254.4 254.5h0.75M265.6 230.5h0.75M247.7 245.5h0.75M267.7 232.1h0.75M266.3 247.3h0.75M251.1 244.5h0.75M274.1 235.1h0.75M250.1 250.5h0.75M274.1 242.7h0.75M247.7 243.9h0.75M269.4 233.3h0.75M268.3 246.2h0.75M275.3 237.0h0.75M263.2 248.3h0.75M257.0 250.7h0.75M279.3 237.2h0.75M259.9 248.9h0.75M276.3 242.9h0.75M271.3 232.3h0.75M265.7 228.5h0.75M251.1 244.8h0.75M272.5 243.4h0.75M259.2 233.8h0.75M273.2 244.1h0.75M274.4 240.6h0.75M259.9 230.6h0.75M274.4 235.3h0.75M270.5 250.3h0.75M268.7 246.4h0.75M249.8 239.4h0.75M262.1 232.4h0.75M259.3 249.6h0.75M274.8 234.4h0.75M251.1 244.7h0.75M260.1 233.7h0.75M267.3 232.3h0.75M275.2 234.8h0.75M250.0 239.4h0.75M265.4 228.5h0.75M273.6 242.5h0.75M278.8 240.4h0.75M276.4 232.4h0.75M274.8 234.4h0.75M259.7 232.7h0.75M267.0 248.2h0.75M259.9 233.9h0.75M273.0 243.7h0.75M263.5 249.2h0.75M269.6 233.1h0.75M259.9 232.6h0.75M249.6 248.3h0.75M251.7 247.4h0.75M262.5 232.7h0.75M260.3 251.4h0.75M267.9 248.3h0.75M256.0 235.7h0.75M257.6 250.6h0.75M254.9 229.6h0.75M261.0 233.1h0.75M274.2 245.2h0.75M248.6 249.1h0.75M255.1 248.5h0.75M249.1 243.1h0.75M274.6 240.3h0.75M257.3 233.5h0.75M252.7 249.2h0.75M278.1 237.4h0.75M274.3 238.3h0.75M249.0 243.4h0.75M250.2 243.0h0.75M274.0 239.2h0.75M273.7 229.9h0.75M254.3 236.8h0.75M249.2 242.5h0.75M250.7 236.4h0.75M252.6 233.4h0.75M276.5 244.0h0.75M258.4 250.9h0.75M263.9 229.9h0.75M259.9 229.7h0.75M249.6 243.2h0.75M277.0 240.0h0.75M249.5 240.9h0.75M256.7 250.3h0.75M258.9 232.9h0.75M255.2 235.4h0.75M253.4 251.2h0.75M249.6 245.3h0.75M263.1 250.6h0.75M254.2 248.2h0.75M272.2 245.5h0.75M243.7 245.9h0.75M251.5 248.8h0.75M255.1 247.9h0.75M274.9 241.9h0.75" stroke="#000" stroke-width="0.75" fill="none" opacity="1.0"/>
<path d="M295.3 237.1h0.8M281.4 238.9h0.8M283.9 242.8h0.8M280.1 236.3h0.8M276.4 239.2h0.8M270.7 236.3h0.8M268.6 238.4h0.8M280.7 237.2h0.8M277.5 234.2h0.8M284.1 227.2h0.8M273.5 246.5h0.8M285.5 245.3h0.8M300.3 237.9h0.8M274.3 240.7h0.8M274.8 239.0h0.8M285.6 245.7h0.8M281.3 237.5h0.8M281.4 249.7h0.8M282.2 242.5h0.8M275.7 236.7h0.8M307.5 232.8h0.8M288.0 240.7h0.8M288.4 242.8h0.8M281.0 245.7h0.8M286.0 237.1h0.8M287.8 238.7h0.8M281.9 241.0h0.8M275.8 240.8h0.8M279.5 226.3h0.8M292.8 237.3h0.8M280.4 236.7h0.8M268.8 232.9h0.8M287.1 236.6h0.8M293.7 246.9h0.8M278.1 231.1h0.8M295.0 240.6h0.8M298.1 238.9h0.8M285.5 234.3h0.8M298.1 237.9h0.8M296.0 237.8h0.8M278.3 242.0h0.8M291.9 226.4h0.8M279.4 241.3h0.8M293.0 237.9h0.8M276.3 240.3h0.8M278.8 225.2h0.8M266.3 241.2h0.8M276.0 241.8h0.8M290.6 226.0h0.8M283.6 231.0h0.8M292.4 228.5h0.8M294.0 236.2h0.8M282.7 238.9h0.8M275.2 238.2h0.8M311.9 237.0h0.8M276.7 249.3h0.8M292.0 238.5h0.8M286.0 231.3h0.8M278.4 233.8h0.8M298.0 242.7h0.8M283.9 233.0h0.8M268.3 236.0h0.8M273.3 239.2h0.8M268.9 240.0h0.8M282.5 234.2h0.8M284.7 233.8h0.8M279.2 234.6h0.8M300.3 230.9h0.8M284.8 233.8h0.8M278.0 242.9h0.8M281.6 237.8h0.8M263.5 236.4h0.8M301.1 241.5h0.8M255.0 232.7h0.8M280.7 231.1h0.8M283.4 233.5h0.8M296.9 244.2h0.8M293.5 232.6h0.8M285.9 243.9h0.8M275.0 238.5h0.8M273.6 239.4h0.8M296.0 237.0h0.8M302.9 235.9h0.8M290.7 245.5h0.8M274.8 243.4h0.8M269.7 236.2h0.8M279.6 245.6h0.8M273.1 245.2h0.8M270.6 239.5h0.8M290.8 238.0h0.8M302.6 237.8h0.8M270.6 238.1h0.8M292.2 229.2h0.8M264.0 248.9h0.8M272.6 244.0h0.8M287.5 234.3h0.8M276.1 241.1h0.8M278.7 242.9h0.8M285.3 237.0h0.8M299.3 237.1h0.8M271.4 236.6h0.8M279.2 246.5h0.8M289.5 234.8h0.8M277.2 238.8h0.8M283.9 247.9h0.8M277.2 234.8h0.8M279.7 236.3h0.8M292.0 238.2h0.8M278.3 237.4h0.8M275.7 237.8h0.8M282.8 246.4h0.8M274.3 245.1h0.8M283.2 233.8h0.8M300.5 239.4h0.8M272.2 237.1h0.8M278.7 233.2h0.8M284.5 238.1h0.8M295.6 236.6h0.8M267.4 245.1h0.8M292.9 234.1h0.8M296.1 238.2h0.8M273.7 242.3h0.8M285.7 236.1h0.8M287.7 234.8h0.8M283.5 239.8h0.8M289.2 240.6h0.8M262.4 237.5h0.8M287.2 241.8h0.8M274.8 243.9h0.8M275.7 244.6h0.8M285.1 239.6h0.8M270.7 235.5h0.8M285.4 239.5h0.8M281.8 237.0h0.8M295.6 234.6h0.8M288.6 242.4h0.8M287.2 239.0h0.8M272.9 247.0h0.8M295.9 233.5h0.8M275.5 234.1h0.8M270.4 238.7h0.8M274.5 239.1h0.8M287.3 234.8h0.8M272.5 243.1h0.8M291.5 237.1h0.8M275.3 240.9h0.8M285.8 242.7h0.8M284.8 235.4h0.8M276.3 239.4h0.8M269.6 235.3h0.8M291.5 241.8h0.8M288.8 244.6h0.8M280.6 235.6h0.8M284.6 242.5h0.8M275.0 247.9h0.8M294.4 231.9h0.8M275.9 242.2h0.8M286.8 243.4h0.8M287.2 237.7h0.8M278.9 240.7h0.8M287.6 234.9h0.8M280.6 238.8h0.8M279.3 233.3h0.8M287.6 231.0h0.8M283.0 234.8h0.8M283.8 245.0h0.8M303.8 240.9h0.8M281.3 233.1h0.8M281.3 240.1h0.8M268.8 236.5h0.8M286.6 239.8h0.8M279.3 233.7h0.8M285.6 233.6h0.8M301.6 236.5h0.8M278.9 244.1h0.8M275.0 236.2h0.8M289.0 231.4h0.8M286.2 235.0h0.8M272.2 238.9h0.8M282.1 238.1h0.8M287.0 233.5h0.8M293.5 245.9h0.8M269.5 236.5h0.8M282.4 231.9h0.8M286.1 237.5h0.8M280.9 241.1h0.8M279.2 236.2h0.8M288.3 238.7h0.8M288.9 243.5h0.8M273.9 240.5h0.8M294.5 238.4h0.8M283.5 240.6h0.8M288.4 239.2h0.8M279.2 240.4h0.8M278.3 239.4h0.8M281.3 228.8h0.8M282.0 240.2h0.8M287.2 237.9h0.8M274.3 232.4h0.8M264.7 240.6h0.8M292.5 244.2h0.8M299.2 232.0h0.8M288.9 234.0h0.8M266.0 238.7h0.8M278.6 241.3h0.8M289.5 238.8h0.8M297.1 246.3h0.8M280.7 242.8h0.8M297.0 236.6h0.8M279.7 239.6h0.8M278.7 241.7h0.8M292.3 236.4h0.8M290.5 237.5h0.8M302.1 240.6h0.8M297.8 241.6h0.8M277.3 236.6h0.8M288.1 233.9h0.8M294.9 237.3h0.8M302.8 233.6h0.8M274.0 244.2h0.8M281.3 231.7h0.8M297.1 238.9h0.8M283.8 235.3h0.8M286.3 239.4h0.8M279.4 238.1h0.8M288.7 234.2h0.8M298.1 237.5h0.8M278.4 240.1h0.8M272.7 242.0h0.8M295.3 230.1h0.8M282.7 239.5h0.8M276.2 232.6h0.8M273.4 232.1h0.8M288.0 232.0h0.8M285.4 236.2h0.8M295.9 235.5h0.8M288.1 239.9h0.8M278.5 235.6h0.8M290.1 236.7h0.8M272.9 239.6h0.8M290.5 236.6h0.8M294.5 233.1h0.8M263.5 234.7h0.8M294.4 232.6h0.8M280.9 238.2h0.8M286.3 245.2h0.8M293.3 242.6h0.8M278.6 242.7h0.8M290.7 229.9h0.8M283.1 233.3h0.8M257.8 236.7h0.8M294.3 235.0h0.8M300.8 242.5h0.8M287.8 239.0h0.8M280.1 236.0h0.8M283.4 231.2h0.8M293.9 247.0h0.8M296.6 237.7h0.8M299.5 236.7h0.8M267.1 240.9h0.8M296.2 235.0h0.8M291.1 240.4h0.8M280.8 234.2h0.8M288.7 242.8h0.8M290.2 242.4h0.8M295.5 242.4h0.8M288.9 249.2h0.8M293.6 242.2h0.8M279.7 236.2h0.8M275.4 234.6h0.8M279.1 236.7h0.8M266.7 240.7h0.8M278.4 236.3h0.8M274.6 247.5h0.8M293.3 239.8h0.8M274.0 238.6h0.8M287.8 238.3h0.8M288.7 233.8h0.8M281.2 243.7h0.8M287.0 239.0h0.8M290.3 231.0h0.8M286.3 242.3h0.8M290.6 240.1h0.8M268.6 238.2h0.8M266.1 239.1h0.8M295.1 237.8h0.8M288.2 238.9h0.8M281.2 236.4h0.8M285.9 237.4h0.8M311.7 242.4h0.8M274.1 242.4h0.8M279.7 237.3h0.8M279.3 242.7h0.8M281.9 230.2h0.8M281.4 235.8h0.8M264.2 242.1h0.8M287.5 242.3h0.8M261.0 229.2h0.8M297.2 239.0h0.8M272.9 240.5h0.8M285.6 236.6h0.8M277.0 236.4h0.8M283.6 230.9h0.8M279.1 240.1h0.8M284.4 231.0h0.8M269.6 236.1h0.8M289.8 237.0h0.8M277.0 230.7h0.8M282.1 248.9h0.8M275.3 250.0h0.8M262.2 233.2h0.8M294.9 232.3h0.8M276.9 242.7h0.8M269.4 234.7h0.8M267.1 244.5h0.8M286.1 244.1h0.8M287.0 240.6h0.8M282.9 240.0h0.8M272.0 236.3h0.8M271.0 244.4h0.8M270.3 237.1h0.8M290.5 240.3h0.8M288.8 238.6h0.8M286.2 236.3h0.8M276.2 236.2h0.8M274.5 230.4h0.8M294.1 227.0h0.8M292.3 237.0h0.8M298.7 237.1h0.8M282.3 242.8h0.8M266.3 238.0h0.8M299.2 243.6h0.8M277.4 233.2h0.8M276.3 241.5h0.8M271.9 243.4h0.8M270.3 241.9h0.8M286.2 236.9h0.8M304.8 238.7h0.8M289.7 246.4h0.8M278.3 240.7h0.8M293.0 238.4h0.8M281.0 237.7h0.8M290.9 238.4h0.8M294.2 232.5h0.8M283.4 243.4h0.8M271.5 242.9h0.8M281.9 243.0h0.8M276.9 238.8h0.8M270.2 242.6h0.8M280.5 238.6h0.8M277.0 243.9h0.8M284.8 243.2h0.8M275.4 237.2h0.8M291.5 247.0h0.8M301.6 241.7h0.8M293.1 241.4h0.8M274.6 237.6h0.8M270.0 232.1h0.8M282.3 240.1h0.8M289.7 247.6h0.8M271.0 234.5h0.8M277.5 241.5h0.8M278.9 232.9h0.8M288.0 236.8h0.8M276.2 245.0h0.8M291.7 235.1h0.8M284.4 236.2h0.8M278.2 235.5h0.8M280.7 234.9h0.8M286.4 241.9h0.8M280.8 231.2h0.8M291.3 235.5h0.8M298.7 241.2h0.8M283.3 246.2h0.8M273.8 239.4h0.8M289.9 238.8h0.8M283.1 233.2h0.8M295.2 232.0h0.8M258.3 236.9h0.8M292.6 238.1h0.8M280.6 238.3h0.8M286.9 236.3h0.8M277.1 237.0h0.8M276.3 242.5h0.8M282.3 241.4h0.8M276.9 233.0h0.8M305.0 243.7h0.8M288.6 240.3h0.8M282.1 243.1h0.8M264.1 240.1h0.8M293.1 241.7h0.8M278.4 236.2h0.8M277.7 242.9h0.8M295.0 232.5h0.8M280.1 238.9h0.8M273.5 245.9h0.8M275.4 240.8h0.8M281.8 237.5h0.8M275.0 233.1h0.8M290.8 241.4h0.8M287.7 235.3h0.8M275.3 238.1h0.8M275.0 237.4h0.8M272.6 248.1h0.8M271.1 222.8h0.8M278.6 243.4h0.8M271.9 246.3h0.8M274.7 244.3h0.8M288.8 243.6h0.8M281.6 249.2h0.8M269.1 248.1h0.8M275.9 237.1h0.8M263.6 236.0h0.8M277.2 230.4h0.8M272.0 236.4h0.8M294.7 244.9h0.8M275.0 233.6h0.8M278.8 246.4h0.8M275.7 238.2h0.8M298.9 237.3h0.8" stroke="#000" stroke-width="0.8" fill="none" opacity="1.0"/>
<rect x="99.4" y="318.8" width="85.90" height="86.00" fill="none" stroke="#959595" stroke-width="0.85"/>
<line x1="146.9" y1="318.8" x2="146.9" y2="404.8" stroke="#959595" stroke-width="0.85"/>
<line x1="99.4" y1="365.7" x2="185.3" y2="365.7" stroke="#959595" stroke-width="0.85"/>
<line x1="99.4" y1="318.8" x2="99.4" y2="404.8" stroke="#777" stroke-width="1.0"/>
<line x1="99.10000000000001" y1="319.8" x2="99.10000000000001" y2="404.8" stroke="#444" stroke-width="0.8" stroke-dasharray="0.5 1.2"/>
<line x1="99.4" y1="404.8" x2="150.94" y2="404.8" stroke="#777" stroke-width="1.0"/>
<line x1="99.4" y1="405.0" x2="150.94" y2="405.0" stroke="#555" stroke-width="0.7" stroke-dasharray="0.6 1.4"/>
<text x="92.80000000000001" y="320.3" font-size="4.3" text-anchor="middle" fill="#222">10<tspan dy="-1.63" font-size="3.01">4</tspan></text>
<line x1="97.80000000000001" y1="318.8" x2="99.4" y2="318.8" stroke="#444" stroke-width="0.6"/>
<text x="99.2" y="413.40000000000003" font-size="4.3" text-anchor="middle" fill="#222">10<tspan dy="-1.63" font-size="3.01">0</tspan></text>
<line x1="99.4" y1="404.8" x2="99.4" y2="406.40000000000003" stroke="#444" stroke-width="0.6"/>
<text x="92.80000000000001" y="341.8" font-size="4.3" text-anchor="middle" fill="#222">10<tspan dy="-1.63" font-size="3.01">3</tspan></text>
<line x1="97.80000000000001" y1="340.3" x2="99.4" y2="340.3" stroke="#444" stroke-width="0.6"/>
<text x="120.675" y="413.40000000000003" font-size="4.3" text-anchor="middle" fill="#222">10<tspan dy="-1.63" font-size="3.01">1</tspan></text>
<line x1="120.875" y1="404.8" x2="120.875" y2="406.40000000000003" stroke="#444" stroke-width="0.6"/>
<text x="92.80000000000001" y="363.3" font-size="4.3" text-anchor="middle" fill="#222">10<tspan dy="-1.63" font-size="3.01">2</tspan></text>
<line x1="97.80000000000001" y1="361.8" x2="99.4" y2="361.8" stroke="#444" stroke-width="0.6"/>
<text x="142.15000000000003" y="413.40000000000003" font-size="4.3" text-anchor="middle" fill="#222">10<tspan dy="-1.63" font-size="3.01">2</tspan></text>
<line x1="142.35000000000002" y1="404.8" x2="142.35000000000002" y2="406.40000000000003" stroke="#444" stroke-width="0.6"/>
<text x="92.80000000000001" y="384.8" font-size="4.3" text-anchor="middle" fill="#222">10<tspan dy="-1.63" font-size="3.01">1</tspan></text>
<line x1="97.80000000000001" y1="383.3" x2="99.4" y2="383.3" stroke="#444" stroke-width="0.6"/>
<text x="163.62500000000003" y="413.40000000000003" font-size="4.3" text-anchor="middle" fill="#222">10<tspan dy="-1.63" font-size="3.01">3</tspan></text>
<line x1="163.82500000000002" y1="404.8" x2="163.82500000000002" y2="406.40000000000003" stroke="#444" stroke-width="0.6"/>
<text x="92.80000000000001" y="406.3" font-size="4.3" text-anchor="middle" fill="#222">10<tspan dy="-1.63" font-size="3.01">0</tspan></text>
<line x1="97.80000000000001" y1="404.8" x2="99.4" y2="404.8" stroke="#444" stroke-width="0.6"/>
<text x="185.10000000000002" y="413.40000000000003" font-size="4.3" text-anchor="middle" fill="#222">10<tspan dy="-1.63" font-size="3.01">4</tspan></text>
<line x1="185.3" y1="404.8" x2="185.3" y2="406.40000000000003" stroke="#444" stroke-width="0.6"/>
<text x="100.9" y="324.5" font-size="4.4" text-anchor="start" fill="#000">98.4</text>
<text x="184.3" y="324.5" font-size="4.4" text-anchor="end" fill="#000">1.62</text>
<text x="101.4" y="403.6" font-size="4.4" text-anchor="start" fill="#000">0</text>
<text x="184.10000000000002" y="403.6" font-size="4.4" text-anchor="end" fill="#000">0</text>
<polygon points="142.4,349.1 142.3,349.7 142.5,350.3 142.9,350.9 143.2,351.6 142.5,352.3 141.6,353.0 141.0,353.6 140.6,354.3 140.3,355.0 139.6,355.6 138.3,356.0 137.3,356.4 136.5,357.0 135.6,357.5 134.6,357.9 133.5,358.3 132.5,358.6 131.4,358.7 130.3,358.7 129.2,358.7 128.2,358.8 127.1,359.1 125.9,359.5 124.8,359.6 124.0,359.2 123.4,358.7 122.4,358.6 121.5,358.5 120.5,358.3 119.6,358.0 119.2,357.5 118.9,356.9 118.7,356.3 118.7,355.7 118.2,355.3 117.6,354.8 117.7,354.2 118.6,353.5 118.9,352.9 118.2,352.3 118.0,351.7 118.4,351.1 118.9,350.4 119.5,349.9 120.1,349.2 120.9,348.7 121.7,348.2 122.7,347.8 123.6,347.3 124.3,346.8 125.2,346.3 126.3,346.2 127.3,345.8 128.3,345.5 129.3,345.3 130.4,345.0 131.5,344.6 132.6,344.5 133.6,344.6 134.6,344.6 135.8,344.5 137.1,344.4 138.2,344.4 138.9,344.9 139.4,345.5 140.4,345.7 141.2,346.1 141.5,346.7 141.7,347.3 141.9,347.9 142.4,348.5" fill="#000"/>
<path d="M124.8 359.9h0.75M125.1 346.6h0.75M119.2 350.3h0.75M125.9 345.3h0.75M141.2 348.2h0.75M138.6 343.9h0.75M126.1 346.0h0.75M124.4 346.3h0.75M118.8 359.0h0.75M114.5 359.4h0.75M125.3 345.6h0.75M138.4 345.8h0.75M138.3 345.3h0.75M139.4 354.7h0.75M132.3 359.3h0.75M135.3 357.9h0.75M126.8 344.3h0.75M140.6 355.7h0.75M118.9 351.1h0.75M125.9 346.2h0.75M141.3 346.1h0.75M119.6 347.0h0.75M114.4 355.1h0.75M141.9 351.9h0.75M121.0 346.9h0.75M115.9 354.6h0.75M140.4 345.9h0.75M139.1 355.5h0.75M128.8 342.1h0.75M145.8 347.4h0.75M138.4 356.2h0.75M116.8 355.5h0.75M131.1 344.5h0.75M141.6 348.0h0.75M128.7 359.1h0.75M133.3 360.1h0.75M129.5 360.4h0.75M117.5 356.2h0.75M133.8 344.7h0.75M144.2 344.1h0.75M141.9 350.3h0.75M127.4 345.1h0.75M142.4 347.2h0.75M119.4 344.0h0.75M120.7 358.2h0.75M121.5 358.1h0.75M125.6 360.7h0.75M117.7 353.1h0.75M118.2 347.2h0.75M119.7 357.2h0.75M133.0 344.7h0.75M118.3 357.2h0.75M127.1 361.5h0.75M142.5 348.2h0.75M117.3 353.1h0.75M124.2 360.2h0.75M118.5 358.4h0.75M114.7 352.4h0.75M116.0 351.5h0.75M120.0 359.5h0.75M123.1 358.8h0.75M142.4 349.7h0.75M114.9 354.1h0.75M124.5 345.9h0.75M139.1 354.7h0.75M144.2 350.8h0.75M113.9 355.2h0.75M139.5 341.6h0.75M124.0 359.5h0.75M129.7 344.6h0.75M125.7 345.5h0.75M127.1 340.9h0.75M127.5 344.9h0.75M117.5 351.1h0.75M141.0 346.5h0.75M110.9 351.6h0.75M141.6 354.0h0.75M141.2 346.0h0.75M130.2 344.9h0.75M125.5 346.1h0.75M118.7 350.5h0.75M144.7 350.3h0.75M114.2 354.3h0.75M126.9 359.3h0.75M127.3 344.8h0.75M141.3 352.3h0.75M120.5 348.8h0.75M129.2 344.7h0.75M121.4 360.1h0.75M139.5 356.0h0.75M120.2 347.9h0.75M122.3 347.6h0.75M141.3 348.1h0.75M140.8 345.8h0.75M134.6 358.8h0.75M117.7 349.3h0.75M123.8 346.5h0.75M121.8 346.1h0.75M141.3 347.8h0.75M115.5 359.2h0.75M146.6 347.7h0.75M135.8 357.4h0.75M117.7 355.3h0.75M132.3 358.3h0.75M144.4 349.6h0.75M119.3 358.8h0.75M130.8 360.1h0.75M134.4 358.3h0.75M136.3 345.4h0.75M127.8 359.5h0.75M119.7 361.5h0.75M139.6 355.7h0.75M137.7 344.9h0.75M134.4 342.9h0.75M133.9 360.6h0.75M138.9 354.9h0.75M115.9 352.9h0.75M125.3 345.9h0.75M119.4 350.0h0.75M139.3 355.5h0.75M137.5 358.1h0.75M128.9 343.5h0.75M117.9 356.9h0.75M138.7 355.3h0.75M121.3 360.0h0.75M122.0 359.6h0.75M137.5 356.3h0.75M117.1 358.4h0.75M137.1 345.4h0.75M132.9 358.2h0.75M118.1 352.2h0.75M144.7 350.2h0.75M122.8 344.3h0.75M117.2 359.1h0.75M141.5 353.5h0.75M137.1 345.1h0.75M138.9 345.7h0.75M142.4 344.8h0.75M119.9 357.5h0.75M125.8 361.2h0.75M142.1 350.1h0.75M116.6 352.7h0.75M130.7 358.8h0.75M137.8 357.3h0.75M138.8 343.7h0.75M139.8 355.1h0.75M127.7 360.0h0.75M125.4 346.4h0.75M129.7 359.8h0.75M126.3 345.8h0.75M121.6 361.7h0.75M134.0 358.8h0.75M117.6 351.2h0.75M119.0 350.1h0.75M143.1 351.0h0.75M120.4 357.7h0.75M117.9 352.8h0.75M118.9 348.9h0.75M116.0 349.3h0.75M142.1 354.9h0.75M143.3 344.9h0.75M134.7 343.9h0.75M118.2 357.8h0.75M118.1 355.6h0.75M132.0 343.5h0.75M113.4 354.7h0.75M119.3 361.7h0.75M120.1 357.3h0.75M130.0 344.3h0.75M142.1 350.3h0.75M136.7 358.2h0.75M114.7 351.8h0.75M117.8 353.9h0.75M134.1 359.5h0.75M147.2 351.6h0.75M119.0 350.6h0.75M117.4 350.0h0.75M136.9 359.7h0.75M118.1 353.1h0.75M120.8 358.5h0.75M138.1 345.1h0.75M123.9 346.6h0.75M128.6 359.9h0.75M131.3 361.2h0.75M135.7 357.4h0.75M123.1 345.8h0.75M140.2 354.5h0.75M124.2 360.1h0.75M120.9 347.6h0.75M141.3 351.2h0.75M138.7 343.4h0.75M133.3 357.9h0.75M134.8 344.4h0.75M141.4 347.4h0.75M138.7 346.1h0.75M119.5 350.3h0.75M124.2 342.8h0.75M121.6 361.6h0.75M143.1 343.1h0.75M129.9 344.9h0.75M135.6 360.1h0.75M129.8 344.7h0.75M140.7 345.6h0.75M118.1 357.1h0.75M129.5 359.0h0.75M130.7 361.0h0.75M133.2 342.3h0.75M127.1 360.0h0.75M139.3 354.3h0.75M144.1 346.4h0.75M128.7 362.5h0.75M114.7 359.1h0.75M139.6 345.8h0.75M121.4 346.0h0.75M140.5 354.0h0.75M130.3 358.9h0.75M118.2 351.7h0.75M134.0 358.1h0.75M120.5 361.0h0.75M141.4 349.7h0.75M143.3 350.3h0.75M143.3 350.1h0.75M119.1 349.3h0.75M134.3 358.5h0.75M144.7 347.0h0.75M142.8 345.3h0.75M119.1 362.4h0.75M119.2 358.4h0.75M138.8 357.5h0.75M118.7 356.7h0.75M143.1 348.5h0.75M142.4 349.3h0.75M137.8 345.0h0.75M117.9 353.9h0.75M135.6 343.9h0.75M119.0 350.0h0.75M146.8 346.3h0.75M124.1 360.0h0.75M126.3 344.8h0.75M121.8 346.5h0.75M125.5 345.8h0.75M132.8 358.6h0.75M118.1 352.4h0.75M128.9 359.0h0.75M122.3 358.9h0.75M142.2 348.0h0.75M116.6 352.7h0.75M117.1 352.7h0.75M114.5 354.3h0.75M123.3 359.7h0.75M134.1 357.8h0.75M128.7 358.9h0.75M120.5 357.6h0.75M141.1 354.6h0.75M116.4 357.6h0.75M118.1 358.1h0.75M121.7 346.0h0.75M118.0 352.6h0.75M128.0 345.3h0.75M133.4 358.4h0.75M141.3 348.8h0.75M131.2 358.6h0.75M146.6 351.2h0.75M118.8 357.6h0.75M130.9 343.7h0.75M124.2 363.1h0.75M133.8 357.7h0.75M129.9 358.6h0.75M139.6 344.8h0.75M130.0 358.8h0.75M114.9 350.6h0.75M142.0 352.4h0.75M133.6 357.8h0.75M143.3 351.7h0.75M133.7 344.1h0.75M128.5 358.8h0.75M118.9 349.8h0.75M121.8 346.3h0.75M124.4 359.6h0.75M116.9 357.0h0.75M112.8 354.1h0.75M121.5 347.1h0.75M116.8 355.4h0.75M117.4 350.1h0.75M124.8 365.5h0.75M142.5 347.8h0.75M114.8 352.5h0.75M136.6 356.9h0.75M119.0 357.8h0.75M131.0 359.2h0.75M117.3 351.5h0.75M122.1 348.0h0.75M136.3 358.3h0.75M142.1 350.9h0.75M122.4 347.0h0.75M118.1 350.8h0.75M143.4 351.0h0.75M118.0 354.4h0.75M123.2 344.1h0.75M130.7 359.3h0.75M121.4 348.5h0.75M119.4 359.7h0.75M129.3 358.9h0.75M129.9 343.8h0.75M138.4 345.2h0.75M142.6 350.1h0.75M138.2 345.6h0.75M143.0 353.3h0.75M121.0 358.4h0.75M143.0 350.2h0.75M112.9 354.0h0.75M142.2 350.5h0.75M141.4 346.1h0.75M137.5 343.8h0.75M120.0 346.3h0.75M126.8 359.0h0.75M118.9 358.5h0.75M141.5 352.2h0.75M120.2 346.3h0.75M117.9 356.1h0.75M141.2 356.6h0.75M133.0 359.2h0.75M132.9 342.2h0.75M118.4 361.4h0.75M125.6 359.9h0.75M141.4 347.2h0.75M148.0 347.4h0.75M113.5 356.4h0.75M140.6 345.1h0.75M140.3 345.9h0.75M128.5 360.8h0.75M123.7 346.6h0.75M130.9 358.7h0.75M140.2 354.0h0.75M146.3 348.1h0.75M114.5 355.3h0.75M122.5 345.9h0.75M116.8 354.1h0.75M131.9 358.4h0.75M123.2 359.2h0.75M132.3 359.5h0.75M137.3 345.2h0.75M142.6 345.5h0.75M136.6 358.5h0.75M135.0 344.2h0.75M133.8 359.8h0.75M117.8 350.7h0.75M131.7 358.3h0.75M120.9 346.7h0.75M117.4 351.6h0.75M123.7 359.8h0.75M127.7 345.7h0.75M117.0 358.4h0.75M135.1 343.2h0.75M133.2 343.5h0.75M148.0 350.4h0.75M113.9 358.6h0.75M126.7 344.1h0.75M118.9 351.0h0.75M127.0 345.9h0.75M122.0 358.9h0.75M132.9 344.6h0.75M127.3 360.3h0.75M137.3 358.0h0.75M116.7 349.7h0.75M117.6 349.1h0.75M120.9 343.4h0.75M117.9 350.7h0.75M128.5 359.9h0.75M132.1 344.6h0.75M144.3 346.7h0.75M115.6 355.0h0.75M124.7 346.1h0.75M142.2 346.3h0.75M120.2 359.9h0.75M142.1 351.2h0.75M117.3 358.7h0.75M142.4 351.5h0.75M139.4 345.2h0.75M127.7 345.3h0.75M120.4 347.0h0.75M131.6 359.5h0.75M116.7 350.9h0.75M111.5 355.2h0.75M139.4 345.7h0.75M123.8 360.1h0.75M139.3 356.4h0.75M137.8 345.5h0.75M132.4 344.2h0.75M118.1 356.0h0.75M132.3 344.7h0.75M120.2 359.1h0.75M134.4 358.1h0.75M123.9 346.8h0.75M140.6 353.9h0.75M118.1 356.9h0.75M116.6 362.6h0.75M142.1 347.9h0.75M116.3 357.2h0.75M133.4 358.5h0.75M118.3 355.9h0.75M141.8 354.2h0.75M137.3 357.0h0.75M123.6 360.0h0.75M130.9 343.8h0.75M121.4 358.9h0.75M134.1 357.6h0.75M133.0 343.8h0.75M141.4 348.3h0.75M120.3 361.4h0.75M122.1 346.9h0.75M122.6 359.1h0.75M115.6 356.1h0.75M117.2 352.0h0.75M118.4 355.9h0.75M137.3 356.5h0.75M124.3 345.9h0.75M116.5 355.1h0.75M118.3 358.5h0.75M136.4 361.3h0.75M118.7 351.8h0.75M120.5 359.7h0.75M124.1 359.5h0.75M131.5 344.8h0.75M128.9 361.2h0.75M117.2 356.9h0.75M127.1 345.8h0.75M143.0 348.5h0.75M142.2 343.7h0.75M140.3 354.1h0.75M142.8 354.5h0.75M137.8 357.5h0.75M143.9 351.5h0.75M136.7 345.4h0.75M117.7 357.1h0.75M131.5 341.2h0.75M125.0 346.3h0.75M117.8 356.4h0.75M133.2 358.4h0.75M129.6 359.2h0.75M137.2 345.3h0.75M117.4 352.1h0.75M121.5 346.0h0.75M140.8 347.4h0.75M137.0 342.0h0.75M134.5 344.6h0.75M143.8 350.3h0.75M124.2 346.3h0.75M141.9 346.7h0.75M135.9 343.2h0.75M121.3 363.1h0.75M146.3 348.3h0.75M143.6 353.4h0.75M118.1 357.5h0.75M121.0 348.9h0.75M134.1 359.5h0.75M129.9 344.9h0.75M143.2 349.8h0.75M140.9 346.9h0.75M128.3 359.3h0.75M138.5 345.1h0.75M119.7 360.1h0.75M143.9 350.1h0.75M122.7 358.5h0.75M140.0 355.9h0.75M135.7 345.2h0.75M141.7 351.6h0.75M140.9 352.7h0.75M118.2 351.3h0.75M128.4 360.2h0.75M124.7 359.9h0.75M141.4 354.3h0.75M143.6 348.8h0.75M136.1 360.0h0.75M136.4 357.7h0.75M130.3 359.4h0.75M130.6 343.9h0.75M144.8 347.1h0.75M116.9 352.7h0.75M128.4 359.4h0.75M142.6 347.8h0.75M128.1 345.6h0.75M118.7 350.4h0.75M125.9 345.9h0.75M126.5 359.9h0.75M142.8 349.2h0.75M138.9 346.2h0.75M121.3 358.1h0.75M143.9 350.6h0.75M136.4 360.0h0.75M114.3 359.8h0.75M117.9 350.0h0.75M118.0 354.5h0.75M131.6 343.4h0.75M122.0 346.2h0.75M120.6 357.9h0.75M143.0 350.9h0.75M142.7 354.1h0.75M130.1 359.7h0.75M140.8 347.4h0.75M126.6 344.8h0.75M116.5 351.9h0.75M145.2 352.0h0.75M133.8 358.3h0.75M120.1 359.1h0.75M133.7 360.8h0.75M139.7 346.2h0.75M117.6 358.4h0.75M126.9 345.3h0.75M126.2 346.0h0.75M132.6 344.7h0.75M139.1 346.3h0.75M145.7 349.7h0.75M139.3 346.2h0.75M127.7 361.0h0.75M115.7 351.1h0.75M123.7 346.8h0.75M139.1 355.6h0.75M124.7 344.3h0.75M119.5 357.5h0.75M121.3 359.9h0.75M117.4 353.7h0.75M145.6 354.1h0.75M117.8 355.5h0.75M149.0 347.0h0.75M121.4 348.7h0.75M134.4 357.6h0.75M117.9 354.8h0.75M149.4 344.9h0.75M139.0 345.5h0.75M143.3 352.6h0.75M129.5 361.5h0.75M144.3 356.7h0.75M113.3 355.0h0.75M136.8 357.4h0.75M128.9 344.6h0.75M142.9 348.0h0.75M139.8 345.3h0.75M127.3 345.7h0.75M138.8 344.6h0.75M118.0 356.4h0.75M131.2 360.5h0.75M135.7 344.6h0.75M116.0 355.7h0.75M129.3 345.4h0.75M132.4 358.8h0.75M139.3 355.4h0.75M132.5 342.8h0.75M119.4 345.0h0.75M119.9 357.5h0.75M151.0 347.2h0.75M138.5 355.9h0.75M129.4 359.0h0.75M143.1 352.2h0.75M116.3 359.0h0.75M140.4 353.7h0.75M123.4 359.7h0.75M141.1 354.2h0.75M117.1 354.7h0.75M118.0 354.7h0.75M115.7 350.5h0.75M120.6 349.0h0.75M138.4 355.3h0.75M118.1 353.4h0.75M129.1 359.0h0.75M138.3 345.8h0.75M123.0 347.4h0.75M116.0 357.9h0.75M124.5 360.0h0.75M122.0 345.7h0.75M125.0 346.6h0.75M118.1 355.5h0.75M117.9 355.4h0.75M126.6 344.7h0.75M142.1 351.6h0.75M140.1 345.8h0.75M118.8 349.2h0.75M118.8 348.0h0.75M146.0 345.4h0.75M133.2 343.3h0.75M130.2 358.8h0.75M116.4 351.1h0.75M130.2 342.9h0.75M137.1 356.7h0.75M141.7 354.5h0.75M129.3 359.6h0.75M121.2 347.9h0.75M118.4 349.2h0.75M138.1 345.9h0.75M140.7 344.9h0.75M120.1 347.9h0.75M127.4 343.2h0.75M143.7 350.8h0.75M126.0 346.3h0.75M119.3 360.3h0.75M119.0 357.0h0.75M128.4 343.3h0.75M134.8 357.4h0.75M127.9 345.4h0.75M138.2 345.5h0.75M135.8 357.6h0.75M139.2 355.6h0.75M145.9 349.6h0.75M121.6 359.0h0.75M133.3 357.8h0.75M140.4 340.6h0.75M137.6 344.9h0.75M138.5 342.5h0.75M115.9 351.8h0.75M125.4 345.5h0.75M143.0 347.6h0.75M138.6 345.8h0.75M116.7 358.0h0.75M128.2 361.2h0.75M117.8 351.4h0.75M133.0 361.9h0.75M119.6 346.8h0.75M126.7 362.0h0.75M139.4 344.5h0.75M122.7 344.8h0.75M118.0 348.0h0.75M136.2 357.8h0.75M142.7 347.9h0.75M147.2 350.6h0.75M132.2 358.6h0.75M138.0 358.3h0.75M136.5 358.5h0.75M141.9 348.0h0.75M118.7 351.2h0.75M128.7 345.1h0.75M123.3 347.4h0.75M141.2 347.5h0.75M122.3 347.4h0.75M140.1 347.1h0.75M140.8 345.3h0.75M144.0 351.8h0.75M120.4 359.9h0.75M138.2 345.6h0.75M123.1 360.2h0.75M121.6 348.4h0.75M132.1 358.3h0.75M136.6 356.4h0.75M130.0 360.4h0.75M128.7 363.4h0.75M126.6 344.0h0.75M117.7 349.8h0.75M134.1 344.9h0.75M112.9 354.0h0.75M140.9 353.0h0.75M141.6 348.0h0.75M129.0 359.3h0.75M143.1 350.6h0.75M130.7 343.3h0.75M142.3 350.5h0.75M133.8 342.2h0.75M135.2 359.0h0.75M116.9 347.1h0.75M141.2 348.6h0.75M137.2 357.9h0.75M115.4 350.0h0.75M143.8 350.2h0.75M131.5 344.8h0.75M135.2 357.1h0.75M118.9 351.1h0.75M130.9 345.0h0.75M130.8 344.4h0.75M145.8 346.6h0.75M123.0 358.8h0.75M124.0 360.9h0.75M122.8 362.1h0.75M131.0 359.7h0.75M128.6 360.5h0.75M126.0 345.5h0.75M141.1 356.3h0.75M134.1 357.8h0.75M121.3 346.3h0.75M133.2 343.4h0.75M117.6 355.0h0.75M124.0 358.7h0.75M130.6 359.7h0.75M135.2 359.2h0.75M123.1 346.7h0.75M122.2 347.7h0.75M142.5 351.3h0.75M121.7 348.2h0.75M121.5 345.9h0.75M120.1 346.3h0.75M136.0 343.2h0.75M116.1 353.6h0.75M132.4 358.3h0.75M139.8 354.1h0.75M128.0 359.5h0.75M134.7 344.0h0.75M138.5 345.6h0.75M137.1 358.7h0.75M135.8 358.1h0.75M133.4 357.8h0.75M142.0 349.5h0.75M132.5 345.1h0.75M138.6 343.0h0.75M141.6 350.3h0.75M120.1 360.7h0.75M124.4 346.3h0.75M124.9 359.9h0.75M139.8 354.3h0.75M140.7 344.8h0.75M133.2 357.9h0.75M130.1 359.6h0.75M116.6 354.9h0.75M140.0 354.4h0.75M133.1 344.3h0.75M117.8 353.1h0.75M115.3 351.6h0.75M140.4 346.4h0.75M144.6 348.4h0.75M117.6 355.5h0.75M135.4 344.4h0.75M116.2 352.7h0.75M139.0 345.0h0.75M139.5 355.1h0.75M131.8 358.5h0.75M141.3 348.3h0.75M132.1 344.0h0.75M116.7 354.0h0.75M138.2 345.6h0.75M120.0 358.4h0.75M138.3 343.8h0.75M108.4 358.4h0.75M134.3 344.3h0.75M135.2 357.9h0.75M126.9 359.8h0.75M130.0 344.9h0.75M119.8 349.1h0.75M140.2 354.3h0.75M130.2 343.4h0.75M117.6 349.5h0.75M117.8 354.7h0.75M131.2 343.0h0.75M119.3 348.6h0.75M141.6 351.6h0.75M145.5 349.4h0.75M120.8 358.3h0.75M123.4 345.7h0.75M143.3 345.0h0.75M131.5 358.8h0.75M125.4 359.1h0.75M140.9 347.8h0.75M116.4 355.5h0.75M139.0 346.3h0.75M129.8 345.0h0.75M129.8 359.0h0.75M117.8 353.3h0.75M118.0 351.6h0.75M133.8 359.3h0.75M117.8 354.1h0.75M118.3 357.1h0.75M137.6 356.5h0.75M126.6 345.9h0.75M122.9 346.2h0.75M115.8 354.6h0.75M139.4 346.2h0.75M117.4 356.9h0.75M122.1 358.8h0.75M115.3 361.5h0.75M141.9 355.4h0.75M129.7 359.9h0.75M127.2 359.3h0.75M120.6 348.3h0.75M136.8 344.7h0.75M136.0 345.1h0.75M131.6 344.3h0.75M130.8 359.2h0.75M117.6 347.7h0.75M115.3 354.2h0.75M143.1 346.7h0.75M143.7 347.1h0.75M127.6 359.5h0.75M136.1 342.5h0.75M115.8 358.9h0.75M141.4 346.9h0.75M137.2 356.4h0.75M127.3 359.2h0.75M121.4 358.9h0.75M142.9 350.6h0.75M117.2 354.5h0.75M118.3 355.4h0.75M118.7 346.7h0.75M139.2 342.1h0.75M143.1 349.9h0.75M118.7 351.4h0.75M123.9 361.2h0.75M129.0 345.3h0.75M117.0 356.5h0.75M118.1 352.4h0.75M124.8 345.5h0.75M145.3 352.8h0.75M124.9 361.2h0.75M124.0 359.5h0.75M116.4 358.3h0.75M118.4 355.7h0.75M141.9 349.9h0.75M122.3 358.4h0.75M142.8 349.0h0.75M138.7 346.0h0.75M142.9 348.0h0.75M142.1 346.9h0.75M120.2 359.6h0.75M138.0 355.5h0.75M120.3 346.8h0.75M137.6 356.4h0.75M141.6 345.8h0.75M142.0 349.0h0.75M134.9 358.3h0.75M125.4 346.2h0.75M136.8 359.8h0.75M138.6 355.5h0.75M133.2 358.2h0.75M132.4 358.8h0.75M132.5 359.5h0.75M119.8 357.8h0.75M141.7 351.5h0.75M141.6 349.5h0.75M143.8 351.3h0.75M138.8 345.1h0.75M126.7 360.2h0.75M119.0 357.8h0.75M142.1 351.6h0.75M138.4 355.4h0.75M125.2 359.2h0.75M120.0 349.7h0.75M117.6 354.4h0.75M115.6 355.4h0.75M130.7 343.5h0.75M134.4 358.2h0.75M124.3 346.9h0.75M128.1 359.5h0.75M136.2 356.7h0.75M114.2 357.2h0.75M136.9 342.9h0.75M133.2 358.2h0.75M133.2 360.5h0.75M141.7 346.2h0.75M118.9 358.0h0.75M139.7 341.9h0.75M123.2 344.1h0.75M141.9 351.3h0.75M139.4 346.7h0.75M138.6 344.8h0.75M133.5 361.4h0.75M129.4 362.6h0.75M129.6 359.0h0.75M148.4 343.2h0.75M117.5 355.7h0.75M133.1 342.9h0.75M120.8 361.3h0.75M117.5 354.3h0.75M115.5 348.9h0.75M137.0 359.0h0.75M140.4 345.7h0.75M131.8 344.0h0.75M116.3 358.2h0.75M123.0 345.9h0.75M116.8 354.1h0.75M139.7 343.8h0.75M118.5 363.0h0.75M115.8 352.7h0.75M132.7 360.4h0.75M131.0 359.3h0.75M124.2 344.8h0.75M139.7 353.9h0.75M118.9 350.7h0.75M123.1 360.7h0.75M118.9 351.0h0.75M118.1 358.1h0.75M124.0 359.2h0.75M133.1 344.7h0.75M125.3 345.9h0.75M133.2 358.9h0.75M122.5 347.4h0.75M142.5 344.5h0.75M130.6 358.7h0.75M135.6 357.0h0.75M125.7 345.7h0.75M114.6 350.3h0.75M122.3 358.6h0.75M129.1 359.0h0.75M116.2 355.0h0.75M129.3 359.0h0.75M117.2 348.0h0.75M125.4 360.2h0.75M129.1 345.0h0.75M122.0 348.3h0.75M116.4 347.4h0.75M141.5 350.7h0.75M137.5 358.2h0.75M121.0 348.0h0.75M128.2 360.3h0.75M141.0 345.2h0.75M120.4 358.8h0.75M138.4 344.1h0.75M141.7 345.6h0.75M143.6 346.5h0.75M122.7 347.3h0.75M139.8 354.4h0.75M141.1 347.0h0.75M126.8 359.4h0.75M146.3 347.1h0.75M122.5 360.5h0.75M144.6 352.1h0.75M141.1 352.0h0.75M132.1 358.7h0.75M115.6 358.3h0.75M114.4 356.2h0.75M124.4 359.5h0.75M119.0 356.4h0.75M146.7 346.3h0.75M144.9 354.2h0.75M134.9 344.3h0.75M141.4 352.1h0.75M141.0 353.0h0.75M124.6 345.0h0.75M149.4 351.1h0.75M131.9 343.5h0.75M141.1 352.7h0.75M132.2 340.8h0.75M135.7 356.9h0.75M138.0 357.2h0.75M138.7 356.0h0.75M118.2 355.3h0.75M136.1 344.2h0.75M123.9 358.7h0.75M118.2 352.5h0.75M125.3 359.1h0.75M117.1 346.4h0.75M117.6 349.8h0.75M123.6 347.0h0.75M146.6 353.8h0.75M122.8 361.1h0.75M121.7 348.0h0.75M139.3 357.7h0.75M117.7 354.8h0.75M117.6 354.5h0.75M150.0 349.2h0.75M135.2 357.9h0.75M118.8 350.9h0.75M113.1 357.8h0.75M124.0 345.9h0.75M144.8 346.7h0.75M136.8 356.9h0.75M115.4 349.4h0.75M141.1 356.8h0.75M142.1 355.0h0.75M139.5 354.5h0.75M119.7 358.0h0.75M142.1 346.1h0.75M117.7 351.3h0.75M121.4 358.9h0.75M142.2 349.4h0.75M126.2 345.8h0.75M122.2 345.7h0.75M119.7 358.3h0.75M131.9 358.5h0.75M109.5 350.0h0.75M117.0 353.3h0.75M127.8 359.8h0.75M118.9 357.7h0.75M141.1 343.4h0.75M118.3 356.6h0.75M141.0 347.4h0.75M118.1 355.5h0.75M118.9 356.2h0.75M142.9 349.7h0.75M117.8 354.8h0.75M127.1 359.8h0.75M125.9 359.0h0.75M140.8 353.9h0.75M134.1 358.8h0.75M124.8 345.7h0.75M118.2 354.8h0.75M139.6 344.8h0.75M135.7 343.6h0.75M133.8 359.1h0.75M128.4 343.5h0.75M140.8 346.0h0.75M138.8 346.2h0.75M117.2 353.0h0.75M138.9 357.5h0.75M143.1 349.7h0.75M140.6 347.7h0.75M119.6 357.5h0.75M140.0 346.8h0.75M136.6 344.4h0.75M118.2 356.3h0.75M118.6 350.8h0.75M116.2 351.5h0.75M126.4 360.1h0.75M147.5 349.1h0.75M122.5 347.6h0.75M138.5 341.2h0.75M140.7 347.0h0.75M117.4 351.6h0.75M118.3 349.2h0.75M141.5 343.8h0.75M138.5 345.4h0.75M123.3 346.9h0.75M120.9 348.8h0.75M142.2 348.9h0.75M120.3 359.5h0.75M144.8 355.5h0.75M119.6 347.5h0.75M118.9 356.2h0.75M141.7 349.3h0.75M120.9 348.9h0.75M140.5 355.0h0.75M113.6 351.3h0.75M130.4 359.8h0.75M125.7 359.1h0.75M134.7 357.3h0.75M120.7 359.0h0.75M140.5 356.2h0.75M117.6 353.8h0.75M125.9 360.5h0.75M139.5 354.7h0.75M121.7 358.9h0.75M132.6 360.0h0.75M127.8 345.2h0.75M141.9 350.9h0.75M144.5 343.1h0.75M128.8 359.3h0.75M134.6 358.2h0.75M139.8 344.0h0.75M119.3 359.3h0.75M143.3 345.4h0.75M122.5 347.6h0.75M141.7 348.7h0.75M118.2 359.4h0.75M127.7 360.6h0.75M118.0 354.1h0.75M118.9 356.4h0.75M115.0 351.2h0.75M134.2 357.9h0.75M116.3 354.7h0.75M139.4 358.2h0.75M118.0 357.2h0.75M136.2 357.3h0.75M117.1 353.0h0.75M126.0 359.2h0.75M141.5 346.4h0.75M123.7 359.7h0.75M118.1 353.9h0.75M140.3 354.4h0.75M118.9 349.5h0.75M127.0 345.4h0.75M143.3 352.0h0.75M118.0 353.6h0.75M116.4 352.3h0.75M124.3 359.1h0.75M119.4 359.4h0.75M133.3 358.9h0.75M116.3 356.1h0.75M128.7 345.6h0.75M144.7 347.8h0.75M122.6 344.1h0.75M130.2 359.4h0.75M118.2 358.7h0.75M140.1 354.5h0.75M124.8 345.5h0.75M139.8 356.7h0.75M120.7 348.8h0.75M137.8 345.6h0.75M116.7 347.8h0.75M117.8 352.0h0.75M123.1 360.6h0.75M117.5 350.0h0.75M130.4 342.4h0.75M115.8 353.0h0.75M115.6 349.6h0.75M126.2 360.5h0.75M118.2 352.2h0.75M141.5 348.0h0.75M138.5 345.7h0.75M135.8 357.4h0.75M125.4 360.1h0.75M112.8 347.9h0.75M126.8 359.1h0.75M118.0 355.0h0.75M126.0 359.9h0.75M117.2 357.7h0.75M121.5 345.9h0.75M134.3 344.7h0.75M132.4 358.1h0.75M140.5 347.5h0.75M135.6 344.2h0.75M148.0 354.1h0.75M146.3 349.4h0.75M131.9 343.5h0.75M138.6 345.3h0.75M115.1 355.5h0.75M137.8 356.2h0.75M118.1 353.0h0.75M136.4 357.6h0.75M142.3 352.8h0.75M122.4 347.4h0.75M117.7 353.8h0.75M137.6 345.5h0.75M140.2 346.7h0.75M145.6 346.2h0.75M123.2 347.0h0.75M141.1 348.2h0.75M144.0 350.6h0.75M140.1 353.9h0.75M140.8 346.7h0.75M124.6 360.9h0.75M145.0 349.1h0.75M120.6 359.1h0.75M139.4 346.5h0.75M143.7 348.6h0.75M118.5 349.1h0.75M118.3 355.7h0.75M113.9 352.3h0.75M116.8 357.0h0.75M142.5 349.6h0.75M136.0 357.1h0.75M141.4 351.6h0.75M144.4 348.4h0.75M135.1 343.5h0.75M135.7 344.9h0.75M136.3 344.7h0.75M127.6 359.3h0.75M133.7 358.7h0.75M126.5 345.7h0.75M144.5 347.7h0.75M123.0 360.1h0.75M117.7 350.9h0.75M140.8 345.5h0.75M142.5 347.2h0.75M118.0 357.2h0.75M125.9 358.9h0.75M143.0 349.5h0.75M140.5 354.5h0.75M137.9 345.4h0.75M143.7 355.1h0.75M116.4 355.8h0.75M127.8 359.0h0.75M118.7 358.1h0.75M142.9 352.1h0.75M118.2 349.6h0.75M118.1 351.8h0.75M141.6 343.0h0.75M115.9 354.2h0.75M116.3 357.5h0.75M121.1 360.0h0.75M126.7 345.0h0.75M117.9 350.0h0.75M123.6 359.4h0.75M117.2 357.6h0.75M121.6 359.1h0.75M120.0 349.2h0.75M137.1 359.0h0.75M115.8 353.7h0.75M121.1 347.1h0.75M142.7 349.5h0.75M117.1 354.0h0.75M141.4 345.8h0.75M120.3 347.5h0.75M131.7 344.5h0.75M137.7 345.6h0.75M117.7 357.0h0.75M115.6 353.1h0.75M147.0 356.5h0.75M119.3 350.6h0.75M133.1 358.2h0.75M107.3 354.8h0.75M122.8 359.0h0.75M131.2 358.7h0.75M141.4 348.3h0.75M122.0 360.3h0.75M141.3 348.3h0.75M144.3 353.9h0.75M114.1 352.7h0.75M112.6 360.1h0.75M142.8 349.4h0.75M132.5 359.2h0.75M134.4 360.1h0.75M123.5 361.5h0.75M124.5 344.7h0.75M113.6 351.2h0.75M130.4 359.2h0.75M140.5 353.8h0.75M126.2 359.4h0.75M145.2 348.8h0.75M116.5 354.7h0.75M124.2 346.8h0.75M127.7 345.4h0.75M137.4 345.4h0.75M141.0 353.5h0.75M134.7 357.5h0.75M126.5 359.1h0.75M118.5 362.2h0.75M128.4 344.9h0.75M140.6 353.1h0.75M124.2 361.4h0.75M136.1 356.9h0.75M144.0 347.5h0.75M125.2 345.9h0.75M135.1 358.0h0.75M124.5 359.3h0.75M131.6 344.7h0.75M121.9 358.3h0.75M144.4 350.4h0.75M114.8 348.6h0.75M136.4 358.0h0.75M135.2 344.9h0.75M148.6 348.7h0.75M136.3 358.9h0.75M119.3 350.5h0.75M134.9 345.1h0.75M128.2 361.1h0.75M117.8 354.2h0.75M144.4 350.6h0.75M141.3 355.2h0.75M137.7 356.5h0.75M118.0 353.2h0.75M139.5 345.9h0.75M125.3 343.6h0.75M120.5 348.0h0.75M117.8 356.2h0.75M118.8 358.2h0.75M136.2 344.5h0.75M125.5 341.5h0.75M126.3 361.4h0.75M133.3 357.9h0.75M129.3 344.5h0.75M141.3 345.1h0.75M127.1 360.8h0.75M118.3 355.4h0.75M137.2 345.0h0.75M113.3 353.5h0.75M125.8 344.4h0.75M118.0 357.5h0.75M132.8 341.5h0.75M143.1 348.3h0.75M129.7 345.1h0.75M125.5 360.0h0.75M118.7 351.2h0.75M138.7 358.2h0.75M145.9 347.5h0.75M117.9 352.5h0.75M124.5 359.8h0.75M130.0 358.8h0.75M137.2 341.8h0.75M112.3 356.1h0.75M142.6 351.9h0.75M117.8 351.1h0.75M149.8 352.1h0.75M143.7 351.1h0.75M137.5 360.4h0.75M119.0 348.3h0.75M118.4 356.3h0.75M136.8 357.1h0.75M142.2 352.0h0.75M143.6 347.3h0.75M120.0 358.8h0.75M139.3 355.9h0.75M122.8 345.7h0.75M122.3 358.5h0.75M124.8 346.6h0.75M136.7 345.5h0.75M134.5 345.1h0.75M117.6 353.5h0.75M142.4 346.0h0.75M140.6 357.1h0.75M117.6 358.4h0.75M118.5 356.3h0.75M147.1 349.2h0.75M115.6 353.1h0.75M114.3 357.0h0.75M135.8 344.9h0.75M124.0 347.0h0.75M142.0 351.6h0.75M135.6 345.0h0.75M139.5 346.4h0.75M139.9 346.6h0.75M122.2 348.0h0.75M117.9 350.3h0.75M134.4 360.6h0.75M110.0 351.5h0.75M131.7 360.4h0.75M123.1 341.1h0.75M134.1 358.4h0.75M114.2 352.2h0.75M143.0 341.3h0.75M125.4 344.7h0.75M134.3 344.9h0.75M142.6 353.8h0.75M140.1 353.7h0.75M129.3 345.1h0.75M123.0 345.5h0.75M140.9 346.7h0.75M133.0 358.1h0.75M130.6 359.3h0.75M135.6 343.4h0.75M125.0 360.7h0.75M126.0 360.1h0.75M116.3 353.6h0.75M135.3 345.0h0.75M130.5 343.2h0.75M132.5 358.2h0.75M133.2 343.3h0.75M141.6 346.0h0.75M133.3 358.6h0.75M127.2 359.8h0.75M130.8 344.6h0.75M125.4 346.0h0.75M143.5 349.9h0.75M137.4 344.5h0.75M136.7 343.9h0.75M143.6 348.5h0.75M120.1 357.3h0.75M128.8 345.2h0.75M122.1 347.6h0.75M143.9 349.6h0.75M124.8 360.2h0.75M121.1 348.4h0.75M134.6 358.7h0.75M143.4 352.6h0.75M137.7 345.8h0.75M145.1 345.3h0.75M126.0 340.8h0.75M116.2 353.7h0.75M141.7 346.6h0.75M114.0 359.8h0.75M117.7 353.2h0.75M132.9 344.3h0.75M116.1 348.5h0.75M118.0 353.3h0.75M117.9 353.2h0.75M121.0 346.2h0.75M138.3 356.4h0.75M140.0 342.5h0.75M142.8 351.5h0.75M119.4 359.2h0.75M121.7 359.0h0.75M138.9 355.4h0.75M115.7 354.3h0.75M128.2 344.9h0.75M138.2 356.6h0.75M117.7 352.2h0.75M119.1 348.4h0.75M122.1 360.4h0.75M116.1 350.9h0.75M139.6 354.8h0.75M136.3 343.9h0.75M134.9 341.5h0.75M115.8 350.5h0.75M127.8 359.3h0.75M129.5 361.1h0.75M116.8 352.7h0.75M139.6 354.1h0.75M131.8 344.8h0.75M143.5 353.4h0.75M141.6 348.7h0.75M132.1 344.9h0.75M138.0 344.4h0.75M142.8 353.8h0.75M124.8 344.8h0.75M140.2 347.2h0.75M118.1 356.3h0.75M116.7 352.4h0.75M142.9 352.1h0.75M114.0 354.3h0.75M118.0 354.6h0.75M119.5 357.3h0.75M128.3 344.0h0.75M128.5 359.1h0.75M115.5 347.7h0.75M119.5 349.9h0.75M141.4 352.5h0.75M141.6 354.5h0.75M123.2 347.3h0.75M147.3 352.4h0.75M140.4 356.2h0.75M141.6 350.0h0.75M126.9 346.0h0.75M146.4 348.9h0.75M141.7 351.3h0.75M125.7 359.6h0.75M133.2 344.8h0.75M120.7 349.0h0.75M121.8 348.2h0.75M135.1 357.3h0.75M130.3 363.4h0.75M121.5 347.5h0.75M106.9 353.2h0.75M122.7 347.6h0.75M116.7 350.9h0.75M133.8 344.4h0.75M118.1 352.7h0.75M140.6 345.7h0.75M132.7 359.9h0.75M118.4 350.4h0.75M142.1 352.0h0.75M110.9 359.7h0.75M137.9 355.8h0.75M138.8 346.3h0.75M118.2 352.0h0.75M129.6 342.0h0.75M128.6 360.0h0.75M133.0 343.6h0.75M133.0 358.2h0.75M118.4 350.3h0.75M115.1 350.3h0.75M126.4 345.7h0.75M140.1 354.0h0.75M118.8 351.4h0.75M117.0 356.7h0.75M136.5 357.7h0.75M118.6 351.0h0.75M117.0 355.0h0.75M114.0 357.6h0.75M144.0 351.9h0.75M142.8 351.5h0.75M135.8 357.1h0.75M138.0 356.3h0.75M126.5 362.2h0.75M141.7 352.4h0.75M130.9 344.6h0.75M139.3 345.0h0.75M119.9 348.0h0.75M135.0 344.4h0.75M139.4 355.6h0.75M131.9 344.8h0.75M136.1 356.7h0.75M122.5 346.4h0.75M120.9 347.9h0.75M118.1 350.7h0.75M120.6 357.7h0.75M112.2 351.2h0.75M119.7 349.2h0.75M112.0 358.4h0.75M133.9 344.3h0.75M134.1 360.0h0.75M127.3 360.4h0.75M132.4 344.5h0.75M139.8 345.9h0.75M137.4 344.6h0.75M120.8 358.0h0.75M136.0 345.3h0.75M113.9 356.5h0.75M142.3 347.7h0.75M126.9 359.6h0.75M139.5 346.4h0.75M114.6 354.0h0.75M135.7 343.4h0.75M141.9 354.4h0.75M138.2 344.2h0.75M118.8 357.9h0.75M136.5 358.0h0.75M123.2 347.1h0.75M147.1 355.8h0.75M115.7 355.1h0.75M137.2 356.0h0.75M123.9 346.6h0.75M122.5 358.6h0.75M128.5 344.3h0.75M138.6 339.5h0.75M118.0 352.2h0.75M116.3 352.5h0.75M120.8 359.4h0.75M122.4 347.6h0.75M121.4 345.5h0.75M142.8 346.9h0.75M118.2 351.5h0.75M119.4 347.1h0.75M118.2 354.2h0.75M136.1 359.0h0.75M142.3 348.3h0.75M116.8 353.0h0.75M136.4 344.1h0.75M139.3 345.3h0.75M119.2 359.3h0.75M127.2 360.2h0.75M118.3 355.3h0.75M127.7 358.9h0.75M144.7 346.9h0.75M137.2 356.3h0.75M118.3 356.9h0.75M132.5 344.9h0.75M117.8 353.1h0.75M121.1 348.3h0.75M118.0 355.0h0.75M145.5 349.3h0.75M141.3 352.4h0.75M120.7 346.2h0.75M138.8 345.8h0.75M117.9 355.2h0.75M117.1 350.0h0.75M141.5 351.3h0.75M140.7 347.2h0.75M126.7 361.7h0.75M120.9 349.0h0.75M138.3 345.6h0.75M131.1 342.2h0.75M130.6 343.3h0.75M119.9 360.4h0.75M144.3 349.3h0.75M117.0 357.7h0.75M131.7 340.6h0.75M124.7 345.9h0.75M118.6 349.3h0.75M133.1 357.9h0.75M124.8 346.3h0.75M116.8 348.0h0.75M118.8 348.1h0.75M130.9 358.7h0.75M128.4 344.5h0.75M123.9 346.3h0.75M126.3 359.5h0.75M120.3 357.8h0.75M141.4 354.3h0.75M146.8 348.6h0.75M123.0 360.5h0.75M128.0 362.1h0.75M124.2 347.0h0.75M133.6 344.4h0.75M117.3 357.8h0.75M122.3 346.3h0.75M135.5 357.5h0.75M116.4 351.7h0.75M137.2 356.1h0.75M141.6 353.3h0.75M120.3 358.9h0.75M128.3 345.2h0.75M143.8 352.2h0.75M143.4 348.5h0.75M143.3 348.1h0.75M133.5 358.1h0.75M132.6 358.6h0.75M131.0 358.7h0.75M133.2 344.1h0.75M144.6 350.7h0.75M118.8 348.0h0.75M142.2 349.5h0.75M141.7 356.1h0.75M127.2 359.3h0.75M143.3 345.9h0.75M137.8 342.3h0.75M114.8 357.0h0.75M132.4 358.2h0.75M139.7 354.3h0.75M126.2 359.1h0.75M127.9 358.9h0.75M132.6 360.4h0.75M136.3 344.3h0.75M126.7 346.1h0.75M143.3 350.4h0.75M132.4 342.4h0.75M140.9 347.8h0.75M119.6 348.5h0.75M142.0 350.5h0.75M124.8 345.1h0.75M141.9 350.7h0.75M126.6 360.1h0.75M137.1 344.9h0.75M140.9 354.7h0.75M125.4 344.9h0.75M142.2 346.9h0.75M120.8 348.0h0.75M127.5 359.0h0.75M119.2 357.5h0.75M140.9 354.5h0.75M143.8 351.5h0.75M118.5 351.0h0.75M125.6 358.9h0.75M126.1 344.1h0.75M137.5 356.6h0.75M138.4 343.8h0.75M120.3 357.6h0.75M123.5 346.2h0.75M133.7 344.8h0.75M132.3 343.8h0.75M120.7 344.8h0.75M127.4 360.4h0.75M122.3 358.8h0.75M116.2 350.1h0.75M139.0 345.8h0.75M142.7 348.0h0.75M126.7 344.6h0.75M142.3 348.7h0.75M122.3 347.0h0.75M116.9 353.9h0.75M122.8 358.8h0.75M127.6 345.1h0.75M135.1 357.4h0.75M116.4 356.4h0.75M146.0 349.4h0.75M134.7 344.3h0.75M122.5 360.5h0.75M120.2 358.8h0.75M140.6 352.8h0.75" stroke="#000" stroke-width="0.75" fill="none" opacity="1.0"/>
<path d="M153.5 357.7h0.8M153.4 352.7h0.8M136.7 348.3h0.8M145.5 347.3h0.8M149.7 350.4h0.8M152.8 345.9h0.8M149.0 352.5h0.8M145.1 350.2h0.8M148.5 351.6h0.8M155.0 354.1h0.8M148.5 351.6h0.8M152.7 348.7h0.8M143.8 351.9h0.8M158.0 350.6h0.8M137.1 352.7h0.8M150.2 353.7h0.8M161.2 345.9h0.8M144.4 351.1h0.8M154.9 340.5h0.8M152.1 357.5h0.8M143.1 353.4h0.8M157.5 349.9h0.8M151.0 352.5h0.8M160.7 340.5h0.8M143.7 356.7h0.8M146.8 355.0h0.8M158.0 357.7h0.8M137.9 349.9h0.8M153.4 345.0h0.8M135.6 351.0h0.8M138.3 351.3h0.8M149.0 352.1h0.8M155.3 360.1h0.8M148.9 349.5h0.8M155.6 354.4h0.8M122.0 350.4h0.8M153.4 348.8h0.8M159.3 338.6h0.8M149.4 339.9h0.8M140.9 354.1h0.8M143.4 343.6h0.8M146.4 342.8h0.8M142.0 356.3h0.8M130.4 345.0h0.8M144.8 355.1h0.8M160.5 344.1h0.8M148.7 347.8h0.8M155.3 352.5h0.8M149.0 349.0h0.8M147.8 348.2h0.8M153.3 352.7h0.8M136.0 348.6h0.8M156.9 348.5h0.8M166.8 353.0h0.8M132.3 345.9h0.8M149.3 347.8h0.8M146.3 352.2h0.8M143.2 351.2h0.8M163.2 342.6h0.8M165.8 364.2h0.8M159.5 348.4h0.8M166.3 342.1h0.8M149.4 346.1h0.8M139.1 345.4h0.8M145.0 353.9h0.8M155.3 350.8h0.8M152.6 346.4h0.8M147.3 345.9h0.8M148.4 346.7h0.8M162.7 352.2h0.8M150.4 352.5h0.8M139.7 351.4h0.8M161.6 345.3h0.8M141.2 352.0h0.8M146.4 348.8h0.8M146.9 355.2h0.8M162.3 347.2h0.8M157.2 359.6h0.8M152.3 347.0h0.8M148.9 350.7h0.8M150.9 347.0h0.8M157.2 343.8h0.8M152.2 344.6h0.8M150.7 350.9h0.8M149.2 349.5h0.8M134.2 349.8h0.8M157.1 352.8h0.8M145.2 349.5h0.8M154.7 354.8h0.8M153.1 351.7h0.8M155.0 358.8h0.8M154.1 348.4h0.8M141.7 348.4h0.8M157.6 350.0h0.8M149.4 349.2h0.8M158.0 348.6h0.8M137.6 358.5h0.8M153.8 351.3h0.8M142.4 350.8h0.8M145.5 354.9h0.8M159.8 348.0h0.8M159.4 350.4h0.8M156.4 346.1h0.8M157.2 350.6h0.8M152.0 353.4h0.8M144.9 355.5h0.8M149.9 348.6h0.8M161.6 355.1h0.8M162.1 344.2h0.8M157.2 355.0h0.8M163.3 351.9h0.8M154.1 357.2h0.8M156.2 345.8h0.8M146.5 340.5h0.8M161.0 345.7h0.8M143.7 347.7h0.8M148.3 347.9h0.8M146.7 350.4h0.8M162.5 352.4h0.8M144.8 351.3h0.8M157.9 348.4h0.8M139.8 349.2h0.8M163.2 360.8h0.8M151.1 341.3h0.8M144.5 358.5h0.8M169.3 343.7h0.8M153.0 351.8h0.8M154.1 350.5h0.8M149.5 348.6h0.8M141.9 351.1h0.8M150.0 348.6h0.8M145.6 340.1h0.8M147.9 353.8h0.8M149.9 346.4h0.8M168.0 337.8h0.8M152.6 354.1h0.8M158.1 353.5h0.8M130.9 357.5h0.8M145.6 337.7h0.8M156.7 342.5h0.8M140.3 354.3h0.8M157.3 351.9h0.8M173.6 343.3h0.8M155.9 353.7h0.8M139.8 353.5h0.8M144.3 348.4h0.8M157.9 346.4h0.8M152.6 343.4h0.8M161.8 348.6h0.8M136.5 346.9h0.8M150.9 351.0h0.8M155.8 343.8h0.8M150.1 342.6h0.8M156.9 357.3h0.8M135.6 343.2h0.8M132.5 348.0h0.8M155.9 350.4h0.8M137.1 348.6h0.8M147.8 351.0h0.8M153.2 348.6h0.8M155.7 347.7h0.8M146.8 344.8h0.8M151.4 353.3h0.8M151.4 354.7h0.8M148.7 354.8h0.8M149.6 351.8h0.8M147.9 347.0h0.8M159.6 348.0h0.8M149.7 356.2h0.8M157.8 347.2h0.8M149.4 346.3h0.8M158.5 349.3h0.8M151.3 349.8h0.8M137.6 349.0h0.8M148.5 353.9h0.8M143.0 352.3h0.8M155.2 354.2h0.8M149.3 349.0h0.8M155.8 347.4h0.8M144.0 350.6h0.8M145.8 346.4h0.8M141.9 348.2h0.8M146.5 349.9h0.8M160.4 348.8h0.8M141.9 357.0h0.8M146.2 356.8h0.8M146.3 350.9h0.8M143.6 348.7h0.8M159.7 360.9h0.8M160.3 347.5h0.8M155.2 344.0h0.8M149.0 351.9h0.8M145.0 348.8h0.8M150.6 344.4h0.8M153.9 356.4h0.8M161.1 348.3h0.8M160.6 348.4h0.8M161.0 349.7h0.8M138.2 357.6h0.8M126.5 349.6h0.8M155.5 352.9h0.8M153.6 349.8h0.8M149.9 348.8h0.8M152.5 353.9h0.8M156.5 348.1h0.8M165.3 349.2h0.8M148.7 347.8h0.8M167.4 345.4h0.8M166.6 346.0h0.8M136.3 348.7h0.8M160.4 353.3h0.8M145.4 352.9h0.8M149.1 351.4h0.8M156.2 343.2h0.8M161.9 349.5h0.8M162.3 349.9h0.8M163.0 358.0h0.8M145.9 354.5h0.8M149.4 358.5h0.8M158.6 349.6h0.8M153.2 356.2h0.8M137.7 356.2h0.8M148.3 351.8h0.8M146.7 350.5h0.8M157.4 353.4h0.8M144.6 348.9h0.8M155.7 353.9h0.8M140.3 351.9h0.8M147.9 348.0h0.8M154.0 349.7h0.8M154.3 343.6h0.8M155.5 352.5h0.8M143.3 358.7h0.8M137.9 353.8h0.8M152.9 350.3h0.8M152.9 355.3h0.8M132.5 353.4h0.8M156.4 344.2h0.8M174.6 348.4h0.8M153.5 348.5h0.8M146.3 351.3h0.8M141.8 347.2h0.8M153.8 350.5h0.8M137.6 351.7h0.8M141.7 352.8h0.8M140.5 345.7h0.8M147.7 345.9h0.8M159.9 356.4h0.8M156.8 350.2h0.8M155.4 354.6h0.8M147.3 348.7h0.8M138.1 350.0h0.8M149.0 348.4h0.8M149.3 346.7h0.8M146.9 351.4h0.8M157.5 344.8h0.8M154.6 345.1h0.8M158.0 352.0h0.8M154.4 350.5h0.8M150.5 349.8h0.8M148.4 350.7h0.8M152.5 337.5h0.8M159.4 350.1h0.8M157.6 349.0h0.8M140.8 361.3h0.8M158.7 347.5h0.8M142.1 344.0h0.8M150.1 350.0h0.8M140.5 354.7h0.8M160.4 348.3h0.8M142.7 352.3h0.8M148.9 349.4h0.8M170.3 343.6h0.8M151.5 349.8h0.8M148.5 352.0h0.8M152.4 341.7h0.8M128.5 348.2h0.8M151.5 352.4h0.8M142.9 353.1h0.8M157.8 358.0h0.8M150.4 346.5h0.8M151.8 353.0h0.8M139.7 353.9h0.8M153.8 340.0h0.8M156.0 350.8h0.8M133.8 357.4h0.8M136.0 352.3h0.8M155.3 345.6h0.8M139.0 355.2h0.8M131.0 341.1h0.8M148.0 359.8h0.8M131.5 351.5h0.8M142.6 346.2h0.8M152.8 348.4h0.8M148.6 354.4h0.8M153.0 347.3h0.8M151.2 348.1h0.8M144.5 353.7h0.8M147.7 345.2h0.8M158.8 344.4h0.8M142.1 353.5h0.8M136.0 355.8h0.8M148.6 352.3h0.8M150.9 352.8h0.8M155.5 343.9h0.8M151.0 354.0h0.8M169.2 342.6h0.8M154.9 359.0h0.8M183.0 353.3h0.8M140.8 359.3h0.8M164.8 350.2h0.8M166.0 345.6h0.8M145.5 349.0h0.8M152.9 359.2h0.8M154.9 347.5h0.8M143.5 354.8h0.8M148.5 352.5h0.8M153.6 348.2h0.8M143.8 347.1h0.8M131.7 352.3h0.8M149.7 342.9h0.8M167.7 349.7h0.8M150.6 349.7h0.8M153.2 356.1h0.8M158.4 345.7h0.8M153.6 348.5h0.8M149.8 357.2h0.8M152.2 347.0h0.8M141.2 348.5h0.8M149.6 345.8h0.8M144.1 356.3h0.8M147.3 346.4h0.8M148.7 346.8h0.8M144.4 350.1h0.8M145.2 353.5h0.8M157.6 351.3h0.8M145.6 352.9h0.8M130.2 350.5h0.8M155.0 346.8h0.8M153.3 350.9h0.8M162.3 344.7h0.8M148.6 341.2h0.8M145.8 351.5h0.8M158.7 351.6h0.8M150.9 348.1h0.8M146.9 350.6h0.8M153.4 354.6h0.8M136.8 342.8h0.8M147.7 352.6h0.8M156.2 350.5h0.8M151.0 349.8h0.8M159.5 352.6h0.8M130.7 353.2h0.8M146.5 350.2h0.8M159.7 354.3h0.8M166.1 348.2h0.8M151.5 353.4h0.8M141.2 351.9h0.8M149.5 352.1h0.8M169.8 350.1h0.8M176.3 346.7h0.8M140.2 354.5h0.8M151.8 351.6h0.8M159.0 349.4h0.8M153.7 344.9h0.8M151.8 354.3h0.8M144.4 349.5h0.8M130.0 353.9h0.8M123.4 355.2h0.8M149.6 347.8h0.8M163.0 346.1h0.8M144.8 351.0h0.8M147.0 347.8h0.8M145.3 350.6h0.8M129.5 356.3h0.8M141.1 347.5h0.8M140.1 346.4h0.8M144.2 348.2h0.8M153.8 354.9h0.8M167.7 345.4h0.8" stroke="#000" stroke-width="0.8" fill="none" opacity="1.0"/>
<rect x="230.0" y="318.8" width="86.40" height="86.00" fill="none" stroke="#959595" stroke-width="0.85"/>
<line x1="277.6" y1="318.8" x2="277.6" y2="404.8" stroke="#959595" stroke-width="0.85"/>
<line x1="230.0" y1="365.7" x2="316.4" y2="365.7" stroke="#959595" stroke-width="0.85"/>
<line x1="230.0" y1="318.8" x2="230.0" y2="404.8" stroke="#777" stroke-width="1.0"/>
<line x1="229.7" y1="319.8" x2="229.7" y2="404.8" stroke="#444" stroke-width="0.8" stroke-dasharray="0.5 1.2"/>
<line x1="230.0" y1="404.8" x2="281.84" y2="404.8" stroke="#777" stroke-width="1.0"/>
<line x1="230.0" y1="405.0" x2="281.84" y2="405.0" stroke="#555" stroke-width="0.7" stroke-dasharray="0.6 1.4"/>
<text x="223.4" y="320.3" font-size="4.3" text-anchor="middle" fill="#222">10<tspan dy="-1.63" font-size="3.01">4</tspan></text>
<line x1="228.4" y1="318.8" x2="230.0" y2="318.8" stroke="#444" stroke-width="0.6"/>
<text x="229.8" y="413.40000000000003" font-size="4.3" text-anchor="middle" fill="#222">10<tspan dy="-1.63" font-size="3.01">0</tspan></text>
<line x1="230.0" y1="404.8" x2="230.0" y2="406.40000000000003" stroke="#444" stroke-width="0.6"/>
<text x="223.4" y="341.8" font-size="4.3" text-anchor="middle" fill="#222">10<tspan dy="-1.63" font-size="3.01">3</tspan></text>
<line x1="228.4" y1="340.3" x2="230.0" y2="340.3" stroke="#444" stroke-width="0.6"/>
<text x="251.4" y="413.40000000000003" font-size="4.3" text-anchor="middle" fill="#222">10<tspan dy="-1.63" font-size="3.01">1</tspan></text>
<line x1="251.6" y1="404.8" x2="251.6" y2="406.40000000000003" stroke="#444" stroke-width="0.6"/>
<text x="223.4" y="363.3" font-size="4.3" text-anchor="middle" fill="#222">10<tspan dy="-1.63" font-size="3.01">2</tspan></text>
<line x1="228.4" y1="361.8" x2="230.0" y2="361.8" stroke="#444" stroke-width="0.6"/>
<text x="273.0" y="413.40000000000003" font-size="4.3" text-anchor="middle" fill="#222">10<tspan dy="-1.63" font-size="3.01">2</tspan></text>
<line x1="273.2" y1="404.8" x2="273.2" y2="406.40000000000003" stroke="#444" stroke-width="0.6"/>
<text x="223.4" y="384.8" font-size="4.3" text-anchor="middle" fill="#222">10<tspan dy="-1.63" font-size="3.01">1</tspan></text>
<line x1="228.4" y1="383.3" x2="230.0" y2="383.3" stroke="#444" stroke-width="0.6"/>
<text x="294.59999999999997" y="413.40000000000003" font-size="4.3" text-anchor="middle" fill="#222">10<tspan dy="-1.63" font-size="3.01">3</tspan></text>
<line x1="294.79999999999995" y1="404.8" x2="294.79999999999995" y2="406.40000000000003" stroke="#444" stroke-width="0.6"/>
<text x="223.4" y="406.3" font-size="4.3" text-anchor="middle" fill="#222">10<tspan dy="-1.63" font-size="3.01">0</tspan></text>
<line x1="228.4" y1="404.8" x2="230.0" y2="404.8" stroke="#444" stroke-width="0.6"/>
<text x="316.2" y="413.40000000000003" font-size="4.3" text-anchor="middle" fill="#222">10<tspan dy="-1.63" font-size="3.01">4</tspan></text>
<line x1="316.4" y1="404.8" x2="316.4" y2="406.40000000000003" stroke="#444" stroke-width="0.6"/>
<text x="231.5" y="324.5" font-size="4.4" text-anchor="start" fill="#000">95.3</text>
<text x="315.4" y="324.5" font-size="4.4" text-anchor="end" fill="#000">4.71</text>
<text x="232.0" y="403.6" font-size="4.4" text-anchor="start" fill="#000">0</text>
<text x="315.2" y="403.6" font-size="4.4" text-anchor="end" fill="#000">0</text>
<polygon points="273.8,349.4 274.1,350.0 274.1,350.7 273.7,351.4 273.3,352.1 273.4,352.7 273.3,353.5 272.7,354.1 272.3,354.8 271.4,355.5 270.0,355.8 269.1,356.4 268.7,357.2 267.7,357.6 266.5,357.9 265.7,358.5 264.8,359.1 263.6,359.3 262.4,359.3 261.3,359.5 260.2,359.8 259.1,360.0 258.1,359.8 257.2,359.5 256.3,359.3 255.2,359.4 254.2,359.3 253.6,358.9 252.8,358.7 251.3,358.9 250.3,358.6 250.2,357.9 250.2,357.2 249.7,356.8 248.8,356.4 248.2,356.0 248.3,355.3 248.1,354.7 247.8,354.1 248.2,353.4 248.8,352.7 249.2,352.1 249.3,351.4 249.5,350.8 250.0,350.1 250.7,349.5 251.6,349.0 253.0,348.7 254.0,348.3 254.4,347.6 255.0,346.8 255.9,346.3 256.9,345.8 258.0,345.5 259.2,345.3 260.3,345.4 261.4,345.4 262.5,344.8 263.7,344.5 264.8,344.6 265.8,344.6 266.7,345.0 267.6,345.2 268.8,345.2 270.1,345.1 270.9,345.5 271.4,346.1 271.9,346.6 272.5,347.1 273.1,347.6 273.5,348.1 273.6,348.8" fill="#000"/>
<path d="M273.7 352.1h0.75M272.9 354.2h0.75M276.5 349.8h0.75M258.0 361.6h0.75M254.3 363.2h0.75M253.6 347.8h0.75M264.1 344.9h0.75M261.0 360.1h0.75M264.9 359.4h0.75M272.5 353.3h0.75M264.8 358.6h0.75M251.1 358.2h0.75M248.9 350.8h0.75M253.6 346.8h0.75M247.4 357.0h0.75M272.4 357.0h0.75M273.4 350.0h0.75M271.5 343.2h0.75M266.6 344.7h0.75M272.5 346.3h0.75M254.5 362.3h0.75M250.8 358.4h0.75M243.6 358.5h0.75M273.7 350.5h0.75M271.6 346.5h0.75M262.8 344.6h0.75M275.2 345.3h0.75M246.1 356.0h0.75M271.9 347.1h0.75M258.2 344.0h0.75M252.5 348.7h0.75M271.7 356.2h0.75M249.1 357.2h0.75M271.5 354.5h0.75M249.5 356.9h0.75M262.5 345.4h0.75M260.1 360.1h0.75M257.2 359.9h0.75M256.0 345.6h0.75M256.3 345.9h0.75M264.3 344.1h0.75M260.3 343.9h0.75M255.0 359.3h0.75M265.3 345.2h0.75M270.9 346.8h0.75M269.5 356.5h0.75M268.2 358.5h0.75M249.5 357.8h0.75M246.6 354.8h0.75M262.8 343.9h0.75M245.8 348.4h0.75M247.8 355.6h0.75M265.8 344.8h0.75M254.7 346.3h0.75M253.8 345.4h0.75M245.7 358.6h0.75M270.4 344.6h0.75M265.0 344.4h0.75M268.9 356.7h0.75M245.1 353.1h0.75M244.6 349.9h0.75M270.9 355.1h0.75M262.6 361.7h0.75M248.5 354.0h0.75M246.9 351.8h0.75M261.6 345.4h0.75M255.9 361.0h0.75M243.9 356.6h0.75M274.4 354.0h0.75M259.7 345.3h0.75M254.7 345.8h0.75M275.3 350.5h0.75M276.7 351.1h0.75M258.3 359.9h0.75M272.8 354.1h0.75M270.4 356.1h0.75M255.0 359.9h0.75M263.3 345.2h0.75M265.8 357.8h0.75M248.4 360.7h0.75M256.7 363.0h0.75M247.2 354.2h0.75M273.6 348.9h0.75M263.0 344.6h0.75M254.4 360.3h0.75M273.9 345.1h0.75M250.3 350.8h0.75M245.9 355.5h0.75M256.7 345.9h0.75M249.0 356.2h0.75M267.7 345.4h0.75M249.9 360.3h0.75M245.7 353.5h0.75M263.6 360.1h0.75M250.3 347.7h0.75M261.9 365.0h0.75M261.5 344.7h0.75M260.4 345.2h0.75M270.5 358.2h0.75M258.9 361.2h0.75M254.6 359.7h0.75M249.6 348.2h0.75M254.0 347.1h0.75M267.8 359.3h0.75M244.6 354.9h0.75M268.4 344.3h0.75M249.0 356.6h0.75M275.4 349.9h0.75M247.9 353.4h0.75M247.6 355.2h0.75M273.9 355.4h0.75M259.7 361.1h0.75M249.5 356.7h0.75M249.5 356.8h0.75M249.9 357.4h0.75M272.9 349.4h0.75M249.8 357.4h0.75M252.8 347.0h0.75M266.5 345.3h0.75M272.8 353.4h0.75M250.2 349.5h0.75M257.4 345.7h0.75M264.4 344.8h0.75M265.8 342.0h0.75M251.1 358.0h0.75M251.9 359.8h0.75M249.6 351.2h0.75M268.1 356.8h0.75M273.8 349.2h0.75M273.0 348.0h0.75M250.7 348.1h0.75M245.1 351.1h0.75M246.6 357.2h0.75M270.2 343.9h0.75M270.9 347.3h0.75M252.1 349.1h0.75M259.7 345.7h0.75M270.6 355.9h0.75M263.1 361.1h0.75M249.9 361.4h0.75M248.5 357.9h0.75M253.2 361.1h0.75M264.2 359.4h0.75M271.6 354.7h0.75M260.2 359.7h0.75M271.1 356.7h0.75M272.5 348.5h0.75M273.8 353.6h0.75M259.7 343.3h0.75M273.9 347.4h0.75M270.8 356.2h0.75M271.5 353.6h0.75M247.8 352.9h0.75M275.8 352.9h0.75M271.5 353.9h0.75M272.0 346.9h0.75M275.9 351.3h0.75M268.2 358.0h0.75M256.9 359.8h0.75M258.8 359.9h0.75M255.2 359.7h0.75M247.4 352.4h0.75M259.9 361.1h0.75M249.5 352.0h0.75M265.5 358.5h0.75M272.5 347.2h0.75M256.2 345.5h0.75M249.0 353.2h0.75M268.9 344.1h0.75M275.6 351.7h0.75M280.9 349.0h0.75M246.4 357.3h0.75M276.3 345.5h0.75M274.6 353.5h0.75M272.5 355.3h0.75M271.0 355.6h0.75M273.3 351.9h0.75M273.1 353.9h0.75M261.4 345.1h0.75M249.0 351.6h0.75M248.7 348.1h0.75M274.1 345.6h0.75M267.1 357.7h0.75M277.8 342.4h0.75M271.4 346.6h0.75M264.0 358.6h0.75M274.7 354.9h0.75M265.5 360.6h0.75M272.6 356.0h0.75M248.1 351.8h0.75M268.4 344.6h0.75M256.3 346.7h0.75M244.8 354.8h0.75M262.9 345.0h0.75M261.5 359.9h0.75M260.2 343.8h0.75M245.4 356.3h0.75M272.7 350.7h0.75M274.5 351.1h0.75M271.5 356.0h0.75M276.0 350.0h0.75M265.1 359.7h0.75M237.9 359.9h0.75M267.2 344.5h0.75M272.9 348.3h0.75M273.4 351.2h0.75M253.6 359.5h0.75M274.2 352.6h0.75M261.6 342.6h0.75M275.4 348.4h0.75M254.8 347.4h0.75M269.6 358.8h0.75M266.4 358.4h0.75M244.4 358.0h0.75M262.6 361.1h0.75M258.7 344.8h0.75M261.0 359.8h0.75M251.4 349.5h0.75M266.4 358.4h0.75M256.9 360.0h0.75M249.9 351.0h0.75M264.9 358.4h0.75M273.5 348.9h0.75M266.0 359.5h0.75M274.6 345.7h0.75M263.0 344.8h0.75M247.0 352.9h0.75M251.0 346.1h0.75M273.1 346.4h0.75M272.3 354.5h0.75M257.3 346.4h0.75M269.0 345.0h0.75M262.6 363.0h0.75M249.1 351.9h0.75M271.2 354.1h0.75M258.8 359.6h0.75M266.8 358.3h0.75M259.7 344.2h0.75M245.3 353.4h0.75M263.2 343.5h0.75M256.5 361.2h0.75M265.5 344.1h0.75M254.2 359.6h0.75M250.4 350.7h0.75M250.0 357.3h0.75M271.0 354.8h0.75M254.8 362.2h0.75M257.1 342.7h0.75M247.2 356.3h0.75M264.4 343.9h0.75M248.5 353.4h0.75M267.1 357.7h0.75M262.2 345.0h0.75M246.0 360.0h0.75M267.6 357.2h0.75M253.2 359.5h0.75M244.4 354.7h0.75M250.2 349.3h0.75M253.5 359.3h0.75M273.5 352.5h0.75M248.7 352.0h0.75M261.2 360.4h0.75M249.4 352.0h0.75M273.0 349.8h0.75M256.3 342.8h0.75M255.6 362.9h0.75M268.2 343.6h0.75M274.9 350.9h0.75M253.1 359.4h0.75M248.3 351.9h0.75M264.5 358.6h0.75M252.1 358.4h0.75M263.6 358.8h0.75M266.0 345.4h0.75M248.4 354.9h0.75M274.5 351.3h0.75M263.5 344.2h0.75M251.2 349.3h0.75M246.5 352.5h0.75M247.9 354.8h0.75M248.3 358.5h0.75M258.8 344.2h0.75M248.0 358.9h0.75M267.8 357.1h0.75M248.5 352.4h0.75M257.8 359.6h0.75M248.6 353.6h0.75M264.8 345.0h0.75M254.6 359.3h0.75M266.6 343.5h0.75M272.3 347.1h0.75M245.0 352.4h0.75M266.8 358.0h0.75M274.9 352.3h0.75M264.4 359.8h0.75M250.6 350.0h0.75M273.5 352.1h0.75M262.3 345.2h0.75M261.6 344.8h0.75M274.8 349.3h0.75M249.5 350.6h0.75M270.3 355.6h0.75M252.4 367.4h0.75M248.2 358.3h0.75M266.2 362.8h0.75M252.6 348.7h0.75M266.6 343.8h0.75M267.6 357.2h0.75M260.1 360.2h0.75M269.6 355.8h0.75M250.8 357.7h0.75M273.0 350.9h0.75M255.8 346.8h0.75M254.4 360.7h0.75M276.1 351.4h0.75M272.0 346.7h0.75M269.1 356.1h0.75M254.3 360.2h0.75M265.9 345.3h0.75M246.8 351.0h0.75M248.0 352.7h0.75M247.9 352.1h0.75M264.3 344.8h0.75M263.7 359.6h0.75M261.4 344.3h0.75M256.3 360.4h0.75M254.2 346.5h0.75M269.0 345.8h0.75M250.3 358.6h0.75M259.9 344.7h0.75M267.2 357.5h0.75M274.2 350.1h0.75M271.1 355.6h0.75M253.8 359.4h0.75M246.8 349.4h0.75M251.5 349.0h0.75M274.2 349.4h0.75M255.3 346.3h0.75M275.4 347.1h0.75M248.9 354.5h0.75M249.2 357.6h0.75M247.3 359.0h0.75M259.8 344.7h0.75M245.9 351.1h0.75M272.7 354.4h0.75M267.0 358.0h0.75M252.0 346.7h0.75M249.4 351.6h0.75M268.5 342.9h0.75M253.4 359.7h0.75M249.9 358.8h0.75M270.1 341.4h0.75M277.3 348.6h0.75M271.6 347.6h0.75M261.5 359.7h0.75M250.7 359.6h0.75M272.7 348.5h0.75M272.2 353.4h0.75M265.2 344.6h0.75M246.7 358.2h0.75M270.4 356.0h0.75M259.6 343.7h0.75M253.4 347.8h0.75M252.0 361.9h0.75M258.8 345.6h0.75M250.9 359.7h0.75M256.9 359.5h0.75M268.1 358.6h0.75M260.8 344.7h0.75M271.0 355.4h0.75M253.5 346.4h0.75M271.4 345.5h0.75M247.9 354.9h0.75M267.6 344.7h0.75M263.2 359.3h0.75M265.1 344.7h0.75M268.2 358.7h0.75M276.0 348.2h0.75M262.3 344.8h0.75M248.8 349.5h0.75M273.2 349.6h0.75M254.7 362.0h0.75M268.7 343.4h0.75M257.1 344.0h0.75M265.3 343.6h0.75M275.0 344.1h0.75M255.6 362.2h0.75M276.2 354.3h0.75M267.8 345.4h0.75M273.3 347.2h0.75M273.1 352.6h0.75M268.8 345.8h0.75M247.8 359.3h0.75M275.0 351.0h0.75M259.4 362.7h0.75M248.7 355.8h0.75M247.7 356.0h0.75M268.4 358.5h0.75M255.6 361.6h0.75M270.1 345.7h0.75M256.9 344.7h0.75M248.2 359.5h0.75M247.9 354.3h0.75M269.9 358.5h0.75M246.8 357.0h0.75M254.2 343.9h0.75M247.4 360.7h0.75M262.5 359.7h0.75M257.5 359.8h0.75M251.0 349.5h0.75M257.9 345.0h0.75M275.0 347.5h0.75M249.6 349.7h0.75M247.7 356.6h0.75M257.6 360.1h0.75M248.0 354.9h0.75M247.7 353.2h0.75M274.9 348.5h0.75M274.5 348.8h0.75M249.9 350.2h0.75M248.2 357.8h0.75M263.6 359.5h0.75M279.2 353.3h0.75M245.8 357.0h0.75M257.9 360.1h0.75M253.7 362.9h0.75M249.8 359.0h0.75M246.9 352.7h0.75M272.5 354.6h0.75M252.6 348.7h0.75M249.0 354.3h0.75M258.5 345.6h0.75M273.4 351.7h0.75M256.2 359.7h0.75M255.1 345.8h0.75M275.3 346.5h0.75M274.4 351.6h0.75M253.6 360.7h0.75M268.7 357.8h0.75M263.0 359.5h0.75M273.7 346.7h0.75M247.9 355.2h0.75M260.2 344.3h0.75M261.0 359.8h0.75M257.2 360.9h0.75M250.4 349.1h0.75M273.9 348.0h0.75M265.2 358.7h0.75M270.2 345.7h0.75M276.3 352.2h0.75M263.4 358.9h0.75M253.6 345.8h0.75M262.3 345.1h0.75M265.3 342.7h0.75M264.7 344.7h0.75M271.5 346.9h0.75M252.3 358.8h0.75M264.8 344.8h0.75M245.8 354.1h0.75M258.9 360.5h0.75M274.5 351.6h0.75M274.3 346.9h0.75M248.3 357.0h0.75M252.0 360.0h0.75M266.8 360.8h0.75M254.4 346.6h0.75M257.4 361.3h0.75M254.9 347.2h0.75M264.9 345.1h0.75M268.4 345.9h0.75M245.3 355.6h0.75M261.7 342.7h0.75M261.8 360.5h0.75M270.7 354.8h0.75M254.0 347.7h0.75M273.8 346.5h0.75M253.6 359.8h0.75M262.9 342.9h0.75M280.1 348.6h0.75M246.7 361.1h0.75M266.7 359.7h0.75M259.3 344.8h0.75M254.1 345.9h0.75M270.3 346.6h0.75M264.5 345.2h0.75M249.7 349.4h0.75M262.2 345.0h0.75M262.8 360.7h0.75M247.1 360.7h0.75M264.6 360.8h0.75M265.4 358.7h0.75M269.4 355.8h0.75M248.6 354.5h0.75M272.3 354.5h0.75M248.0 347.9h0.75M260.5 360.3h0.75M270.9 346.0h0.75M247.7 355.3h0.75M248.4 361.2h0.75M276.1 352.7h0.75M272.6 355.5h0.75M272.4 353.5h0.75M272.2 343.8h0.75M245.6 356.0h0.75M248.7 354.3h0.75M255.8 344.0h0.75M272.4 349.2h0.75M244.5 350.7h0.75M256.6 346.6h0.75M274.8 349.4h0.75M274.0 350.2h0.75M254.3 347.6h0.75M255.7 361.4h0.75M260.5 359.5h0.75M248.6 352.7h0.75M270.6 346.3h0.75M263.8 358.6h0.75M248.1 358.0h0.75M252.7 358.8h0.75M263.0 344.9h0.75M251.6 348.9h0.75M249.3 359.2h0.75M248.9 353.6h0.75M263.1 358.9h0.75M270.5 359.1h0.75M272.5 358.6h0.75M272.7 351.0h0.75M272.1 344.2h0.75M255.1 359.8h0.75M251.1 349.1h0.75M248.8 356.7h0.75M260.4 360.7h0.75M252.6 348.5h0.75M275.0 349.3h0.75M266.9 344.7h0.75M253.0 347.0h0.75M268.7 361.2h0.75M269.9 356.4h0.75M245.5 350.9h0.75M250.2 346.9h0.75M256.0 346.3h0.75M248.3 355.1h0.75M261.3 344.2h0.75M259.5 345.4h0.75M250.1 349.1h0.75M248.7 354.0h0.75M251.5 349.4h0.75M250.8 360.7h0.75M250.3 349.4h0.75M274.1 348.3h0.75M252.7 345.8h0.75M273.4 352.0h0.75M265.0 359.7h0.75M250.9 347.7h0.75M276.4 352.2h0.75M255.1 360.3h0.75M261.8 359.6h0.75M246.3 358.3h0.75M272.0 355.2h0.75M250.4 348.9h0.75M255.7 359.6h0.75M248.5 352.9h0.75M272.5 349.0h0.75M271.6 346.5h0.75M259.3 345.8h0.75M246.2 359.4h0.75M250.4 349.5h0.75M262.7 359.4h0.75M248.7 347.5h0.75M248.3 357.3h0.75M257.8 344.2h0.75M257.5 360.0h0.75M273.6 352.1h0.75M271.7 354.9h0.75M255.3 360.9h0.75M264.9 358.7h0.75M264.0 358.9h0.75M245.7 358.6h0.75M256.7 360.6h0.75M244.9 350.0h0.75M254.2 347.4h0.75M272.5 349.5h0.75M266.0 359.6h0.75M270.9 345.9h0.75M262.3 343.5h0.75M267.0 358.6h0.75M247.5 351.5h0.75M272.7 352.1h0.75M271.7 346.0h0.75M251.3 348.9h0.75M268.4 345.8h0.75M257.7 362.2h0.75M258.0 344.5h0.75M269.2 345.2h0.75M259.5 359.5h0.75M265.0 345.2h0.75M264.6 360.1h0.75M246.5 355.1h0.75M249.8 359.0h0.75M247.4 352.5h0.75M253.5 359.6h0.75M251.4 349.3h0.75M264.9 360.5h0.75M251.3 359.8h0.75M272.7 352.4h0.75M258.8 345.9h0.75M259.9 359.6h0.75M266.8 358.5h0.75M247.5 356.8h0.75M254.0 347.4h0.75M273.7 346.9h0.75M261.3 344.9h0.75M247.4 351.9h0.75M258.0 359.5h0.75M273.8 351.6h0.75M264.8 345.2h0.75M249.1 352.5h0.75M248.3 354.1h0.75M261.1 359.9h0.75M260.2 360.2h0.75M244.3 358.8h0.75M258.6 345.8h0.75M258.8 345.7h0.75M273.2 345.4h0.75M258.8 345.0h0.75M265.0 343.2h0.75M270.6 345.1h0.75M251.2 360.5h0.75M266.3 344.8h0.75M250.0 361.9h0.75M263.3 342.2h0.75M254.8 361.0h0.75M259.2 359.9h0.75M247.2 357.5h0.75M269.6 356.1h0.75M268.2 359.1h0.75M248.5 353.8h0.75M251.9 358.4h0.75M267.3 345.3h0.75M247.3 355.8h0.75M274.1 350.2h0.75M274.9 346.0h0.75M249.4 352.3h0.75M267.9 343.5h0.75M274.4 343.3h0.75M272.3 357.4h0.75M281.6 346.4h0.75M269.7 344.6h0.75M250.1 357.9h0.75M249.2 356.3h0.75M252.6 342.8h0.75M257.1 360.4h0.75M250.3 357.9h0.75M248.4 355.8h0.75M250.4 359.3h0.75M249.9 359.1h0.75M247.6 356.1h0.75M272.0 344.1h0.75M259.8 344.6h0.75M268.8 356.9h0.75M270.2 355.9h0.75M272.8 345.2h0.75M265.3 359.5h0.75M260.9 345.4h0.75M270.6 356.5h0.75M258.5 340.7h0.75M278.7 347.1h0.75M273.6 345.6h0.75M272.2 358.5h0.75M248.0 353.6h0.75M270.4 356.9h0.75M261.0 345.1h0.75M242.9 358.2h0.75M271.4 342.8h0.75M269.0 359.5h0.75M252.7 347.8h0.75M266.6 343.2h0.75M254.1 347.6h0.75M257.8 359.5h0.75M248.9 354.7h0.75M253.0 348.2h0.75M264.0 344.6h0.75M273.4 349.1h0.75M272.1 353.3h0.75M247.4 355.4h0.75M276.7 350.3h0.75M262.7 359.1h0.75M264.9 344.5h0.75M263.8 360.0h0.75M260.5 344.9h0.75M272.5 354.7h0.75M273.7 350.6h0.75M264.0 359.3h0.75M255.5 359.9h0.75M275.7 353.7h0.75M270.0 355.4h0.75M249.5 358.1h0.75M256.1 343.5h0.75M270.5 355.6h0.75M266.0 344.3h0.75M260.4 345.3h0.75M272.7 347.7h0.75M271.1 359.4h0.75M246.8 350.8h0.75M247.8 354.6h0.75M244.5 357.3h0.75M247.2 355.8h0.75M259.9 345.7h0.75M269.6 346.2h0.75M249.5 352.2h0.75M254.4 347.2h0.75M258.7 344.7h0.75M276.1 348.2h0.75M263.9 358.7h0.75M272.0 346.4h0.75M265.8 358.6h0.75M257.0 360.5h0.75M263.6 345.2h0.75M266.6 344.6h0.75M255.8 359.6h0.75M266.3 345.3h0.75M249.4 350.3h0.75M250.3 357.4h0.75M255.5 346.3h0.75M273.0 348.9h0.75M248.0 354.7h0.75M254.9 360.2h0.75M272.7 351.4h0.75M277.2 347.4h0.75M271.5 356.0h0.75M257.0 359.8h0.75M255.6 359.4h0.75M256.4 359.9h0.75M245.4 352.6h0.75M255.3 366.8h0.75M260.2 345.6h0.75M265.1 343.6h0.75M264.3 344.6h0.75M257.2 346.3h0.75M246.9 352.2h0.75M247.6 357.3h0.75M248.1 356.5h0.75M267.3 344.2h0.75M248.3 352.7h0.75M268.4 357.3h0.75M275.4 349.4h0.75M276.9 351.6h0.75M258.9 345.7h0.75M258.4 360.3h0.75M272.2 346.5h0.75M253.1 360.5h0.75M263.7 362.1h0.75M258.1 346.0h0.75M263.3 343.2h0.75M253.9 347.1h0.75M261.0 359.5h0.75M269.4 342.1h0.75M243.4 353.1h0.75M252.8 360.7h0.75M271.7 346.5h0.75M273.8 346.2h0.75M251.2 358.3h0.75M275.0 344.7h0.75M271.1 344.0h0.75M256.4 346.3h0.75M249.6 356.8h0.75M250.7 357.6h0.75M251.3 358.5h0.75M252.8 346.8h0.75M274.8 345.3h0.75M255.9 359.9h0.75M262.2 359.7h0.75M263.1 343.0h0.75M250.9 348.0h0.75M260.2 359.8h0.75M274.3 354.1h0.75M275.5 358.5h0.75M260.0 345.4h0.75M271.9 358.0h0.75M243.2 355.8h0.75M248.8 353.1h0.75M252.1 348.6h0.75M266.4 344.0h0.75M270.2 342.7h0.75M257.1 344.9h0.75M267.4 342.8h0.75M272.6 346.8h0.75M268.9 360.6h0.75M250.5 350.0h0.75M249.6 358.7h0.75M265.9 358.8h0.75M249.0 350.9h0.75M254.9 345.4h0.75M265.3 358.2h0.75M261.0 344.6h0.75M258.3 345.7h0.75M258.2 359.9h0.75M268.0 359.5h0.75M245.2 353.1h0.75M249.5 356.3h0.75M271.6 355.5h0.75M248.1 356.0h0.75M271.7 346.2h0.75M270.1 345.7h0.75M258.8 345.5h0.75M249.5 351.4h0.75M266.0 343.5h0.75M258.8 345.9h0.75M272.3 348.2h0.75M267.2 345.0h0.75M272.8 349.0h0.75M265.0 359.3h0.75M262.9 342.3h0.75M248.5 359.0h0.75M251.5 349.1h0.75M257.5 343.9h0.75M275.0 352.4h0.75M259.1 360.3h0.75M252.7 347.4h0.75M274.7 349.3h0.75M259.6 359.9h0.75M259.6 360.2h0.75M264.4 358.6h0.75M269.5 345.1h0.75M272.4 348.0h0.75M271.0 345.0h0.75M259.0 343.2h0.75M268.7 359.9h0.75M253.2 360.5h0.75M260.4 359.5h0.75M271.6 356.1h0.75M266.3 345.3h0.75M276.3 350.6h0.75M273.1 349.7h0.75M274.1 348.5h0.75M249.3 351.7h0.75M257.3 345.6h0.75M257.5 345.1h0.75M272.5 348.7h0.75M273.8 355.0h0.75M263.9 345.3h0.75M251.1 360.7h0.75M247.6 348.0h0.75M274.2 351.3h0.75M252.3 359.7h0.75M254.8 360.1h0.75M251.5 361.3h0.75M262.2 359.1h0.75M245.0 355.1h0.75M268.7 345.3h0.75M245.1 361.8h0.75M257.0 359.7h0.75M268.1 345.7h0.75M256.2 361.2h0.75M267.4 344.1h0.75M273.0 360.6h0.75M251.5 348.4h0.75M247.6 354.1h0.75M250.6 358.9h0.75M251.0 359.6h0.75M250.7 358.4h0.75M270.9 357.4h0.75M264.0 359.4h0.75M278.0 348.9h0.75M272.9 347.9h0.75M264.0 360.2h0.75M246.1 355.7h0.75M271.2 354.3h0.75M259.7 359.4h0.75M273.3 348.1h0.75M244.6 353.2h0.75M249.2 349.3h0.75M251.7 361.1h0.75M265.5 359.4h0.75M261.1 359.6h0.75M258.7 360.2h0.75M274.7 351.2h0.75M249.8 350.4h0.75M262.5 343.3h0.75M250.3 349.4h0.75M270.6 347.0h0.75M262.8 343.9h0.75M251.3 358.2h0.75M266.4 344.9h0.75M270.5 357.5h0.75M268.2 361.2h0.75M249.0 352.5h0.75M272.9 347.4h0.75M269.9 346.5h0.75M256.5 361.2h0.75M256.0 346.7h0.75M259.1 359.5h0.75M255.1 359.4h0.75M270.4 340.1h0.75M251.1 348.3h0.75M262.1 344.1h0.75M275.5 346.9h0.75M253.0 362.8h0.75M263.0 362.3h0.75M252.5 348.6h0.75M268.2 345.8h0.75M264.6 340.9h0.75M248.3 354.0h0.75M250.1 357.2h0.75M267.8 359.4h0.75M254.6 359.5h0.75M255.8 360.0h0.75M272.9 352.8h0.75M246.8 356.1h0.75M256.0 360.8h0.75M261.2 342.7h0.75M251.8 359.8h0.75M247.0 359.2h0.75M248.2 352.1h0.75M249.0 355.3h0.75M270.5 346.7h0.75M273.1 355.7h0.75M253.2 347.9h0.75M250.5 359.2h0.75M264.4 359.1h0.75M273.7 351.8h0.75M263.4 358.8h0.75M263.2 358.8h0.75M254.5 359.5h0.75M274.5 348.8h0.75M265.3 343.7h0.75M260.0 344.6h0.75M274.9 349.6h0.75M270.8 355.6h0.75M252.8 360.6h0.75M269.5 356.7h0.75M259.9 363.3h0.75M253.5 359.2h0.75M267.1 357.8h0.75M248.5 358.8h0.75M271.5 347.7h0.75M267.8 345.6h0.75M241.0 353.6h0.75M275.8 349.2h0.75M262.5 345.0h0.75M272.6 355.5h0.75M272.6 353.0h0.75M249.7 348.0h0.75M248.4 352.2h0.75M261.5 360.1h0.75M274.4 349.6h0.75M274.4 347.0h0.75M250.2 357.7h0.75M253.6 346.6h0.75M255.3 361.4h0.75M252.8 361.0h0.75M245.6 355.5h0.75M270.5 345.2h0.75M248.6 355.3h0.75M273.2 352.3h0.75M267.6 359.2h0.75M270.0 355.7h0.75M254.7 345.3h0.75M248.3 355.8h0.75M248.1 355.7h0.75M259.5 359.4h0.75M255.2 363.3h0.75M249.0 349.3h0.75M250.0 349.5h0.75M247.1 351.7h0.75M257.9 361.5h0.75M249.2 356.9h0.75M245.7 356.0h0.75M249.7 356.5h0.75M270.8 358.5h0.75M259.5 360.6h0.75M260.2 344.6h0.75M268.2 357.3h0.75M273.7 348.6h0.75M258.3 359.5h0.75M248.9 356.4h0.75M246.0 352.5h0.75M264.8 359.5h0.75M259.0 344.9h0.75M273.6 350.3h0.75M242.1 356.3h0.75M245.2 349.1h0.75M267.9 357.5h0.75M259.9 342.5h0.75M274.6 350.1h0.75M250.4 358.3h0.75M249.3 356.3h0.75M266.2 358.6h0.75M273.2 347.2h0.75M266.0 342.7h0.75M263.8 359.1h0.75M272.2 346.6h0.75M272.5 353.0h0.75M276.7 349.4h0.75M274.0 348.5h0.75M274.6 349.7h0.75M259.2 345.4h0.75M274.0 353.7h0.75M247.9 356.3h0.75M270.3 355.4h0.75M251.6 358.9h0.75M254.5 363.1h0.75M277.4 349.8h0.75M269.9 356.6h0.75M259.3 359.5h0.75M248.3 350.0h0.75M257.4 345.9h0.75M269.0 344.1h0.75M274.0 353.9h0.75M274.8 346.7h0.75M250.1 346.9h0.75M267.7 345.5h0.75M257.3 345.4h0.75M266.9 360.8h0.75M271.1 347.3h0.75M276.0 353.8h0.75M267.8 344.8h0.75M246.7 354.5h0.75M283.0 349.6h0.75M269.3 356.7h0.75M243.9 350.9h0.75M268.1 345.3h0.75M244.3 357.3h0.75M266.9 361.2h0.75M275.1 348.7h0.75M255.7 346.6h0.75M269.6 343.5h0.75M252.5 359.2h0.75M248.7 354.9h0.75M258.1 362.0h0.75M261.3 361.8h0.75M252.4 347.7h0.75M274.5 346.0h0.75M251.9 359.2h0.75M263.2 343.5h0.75M261.1 361.2h0.75M260.2 343.2h0.75M255.3 360.7h0.75M274.9 352.8h0.75M248.9 359.4h0.75M247.1 351.0h0.75M257.1 360.1h0.75M270.9 356.0h0.75M251.5 349.0h0.75M270.7 346.6h0.75M256.6 360.5h0.75M260.3 359.6h0.75M270.6 355.9h0.75M272.7 348.0h0.75M274.5 343.9h0.75M253.4 344.2h0.75M247.3 347.2h0.75M268.6 357.3h0.75M274.2 347.5h0.75M277.6 346.8h0.75M254.0 346.9h0.75M252.6 338.5h0.75M270.2 343.4h0.75M269.1 344.8h0.75M265.2 344.7h0.75M265.3 358.9h0.75M263.0 343.1h0.75M247.3 357.0h0.75M266.3 345.0h0.75M252.3 347.0h0.75M276.4 350.3h0.75M268.5 343.5h0.75M272.8 351.7h0.75M261.7 361.6h0.75M272.3 346.4h0.75M248.6 355.5h0.75M268.0 345.7h0.75M246.9 359.2h0.75M271.3 357.2h0.75M264.5 343.1h0.75M275.6 350.8h0.75M252.8 347.9h0.75M245.3 356.4h0.75M247.5 357.8h0.75M259.6 360.6h0.75M268.1 345.5h0.75M256.5 360.6h0.75M255.6 359.9h0.75M269.6 357.0h0.75M254.4 360.1h0.75M253.4 359.8h0.75M268.7 346.0h0.75M259.0 345.4h0.75M249.5 362.1h0.75M253.6 347.3h0.75M243.2 354.3h0.75M272.9 354.8h0.75M249.1 357.2h0.75M251.6 360.2h0.75M266.9 343.6h0.75M248.3 354.1h0.75M257.0 359.6h0.75M265.7 344.2h0.75M263.1 345.0h0.75M265.4 343.8h0.75M248.8 354.4h0.75M261.1 345.3h0.75M264.4 359.9h0.75M275.3 341.8h0.75M265.1 358.8h0.75M254.5 361.3h0.75M260.0 361.8h0.75M252.8 361.7h0.75M257.0 360.7h0.75M274.5 352.2h0.75M254.4 359.9h0.75M263.6 344.1h0.75M273.0 347.3h0.75M258.0 346.0h0.75M265.5 358.7h0.75M253.0 359.5h0.75M247.6 355.9h0.75M262.9 343.3h0.75M260.7 344.9h0.75M274.7 350.9h0.75M271.1 344.0h0.75M246.7 355.3h0.75M277.1 347.4h0.75M274.4 352.0h0.75M266.4 358.7h0.75M249.2 350.5h0.75M272.8 352.5h0.75M253.6 347.0h0.75M264.6 344.3h0.75M282.9 345.0h0.75M249.2 357.4h0.75M265.2 359.3h0.75M260.5 342.3h0.75M248.5 362.3h0.75M247.3 354.5h0.75M261.7 359.2h0.75M272.7 345.9h0.75M256.0 359.5h0.75M250.4 359.0h0.75M268.1 357.2h0.75M273.2 352.1h0.75M273.0 352.4h0.75M249.2 347.5h0.75M256.5 360.4h0.75M254.5 360.9h0.75M268.0 343.1h0.75M248.3 354.5h0.75M273.4 348.7h0.75M273.2 351.3h0.75M271.8 347.3h0.75M257.6 345.0h0.75M255.4 346.1h0.75M247.6 354.2h0.75M262.9 343.9h0.75M247.8 347.6h0.75M270.7 357.9h0.75M270.5 346.4h0.75M249.7 356.7h0.75M248.4 353.2h0.75M270.3 346.0h0.75M264.9 345.2h0.75M247.2 361.5h0.75M248.1 349.3h0.75M248.3 354.4h0.75M257.9 359.7h0.75M267.2 357.3h0.75M244.4 355.6h0.75M245.8 358.2h0.75M248.3 355.8h0.75M273.2 348.4h0.75M266.0 357.8h0.75M248.4 354.9h0.75M271.3 355.2h0.75M269.9 344.8h0.75M255.1 360.5h0.75M262.8 359.8h0.75M258.3 359.5h0.75M261.3 344.8h0.75M268.7 345.1h0.75M257.5 359.7h0.75M262.2 345.1h0.75M249.0 352.4h0.75M257.8 345.3h0.75M259.3 360.4h0.75M243.4 357.5h0.75M248.7 353.2h0.75M272.9 354.1h0.75M249.0 355.3h0.75M252.9 360.8h0.75M261.8 360.4h0.75M263.1 343.6h0.75M271.8 346.0h0.75M252.6 359.6h0.75M253.5 358.9h0.75M261.0 343.7h0.75M249.1 357.7h0.75M274.5 352.0h0.75M267.1 344.5h0.75M272.2 353.1h0.75M249.4 350.0h0.75M250.5 358.6h0.75M278.0 348.0h0.75M272.1 359.8h0.75M261.3 359.7h0.75M246.9 349.0h0.75M273.4 353.7h0.75M275.6 347.7h0.75M259.2 359.8h0.75M266.0 345.4h0.75M268.2 357.1h0.75M251.6 346.1h0.75M263.1 359.6h0.75M252.8 363.1h0.75M249.9 348.2h0.75M273.3 348.3h0.75M261.8 359.8h0.75M273.2 351.1h0.75M272.0 346.6h0.75M253.9 361.0h0.75M263.4 344.8h0.75M256.7 361.8h0.75M261.4 359.5h0.75M245.8 357.1h0.75M252.8 346.7h0.75M245.5 353.6h0.75M253.3 348.2h0.75M267.1 345.2h0.75M253.9 346.5h0.75M267.9 344.0h0.75M273.2 345.0h0.75M262.4 361.1h0.75M253.5 361.1h0.75M246.2 352.7h0.75M273.2 354.0h0.75M270.4 355.4h0.75M267.8 345.6h0.75M252.7 362.2h0.75M248.3 351.8h0.75M274.2 353.6h0.75M279.7 350.1h0.75M257.2 346.3h0.75M251.4 348.9h0.75M247.5 356.5h0.75M264.5 344.3h0.75M260.4 344.9h0.75M270.0 344.9h0.75M258.8 359.6h0.75M272.7 350.9h0.75M248.2 357.5h0.75M269.0 356.5h0.75M269.3 345.9h0.75M249.8 358.9h0.75M249.0 358.4h0.75M273.5 352.9h0.75M242.7 350.7h0.75M271.5 344.9h0.75M272.5 352.3h0.75M268.1 357.1h0.75M252.2 358.9h0.75M246.7 350.6h0.75M246.2 355.8h0.75M271.7 343.0h0.75M253.9 347.7h0.75M266.2 341.7h0.75M251.0 359.5h0.75M260.7 359.4h0.75M272.3 352.7h0.75M245.7 355.7h0.75M256.1 346.2h0.75M270.8 346.3h0.75M266.3 358.0h0.75M272.2 347.7h0.75M267.7 359.9h0.75M278.1 350.5h0.75M247.3 357.7h0.75M249.7 350.9h0.75M248.3 354.1h0.75M248.7 359.3h0.75M272.6 343.7h0.75M265.4 358.3h0.75M255.0 359.3h0.75M258.4 359.6h0.75M249.0 356.0h0.75M271.2 346.7h0.75M253.0 361.3h0.75M273.4 353.5h0.75M264.4 345.2h0.75M253.9 359.2h0.75M265.4 358.4h0.75M264.6 358.6h0.75M264.1 361.8h0.75M263.5 360.1h0.75M273.0 343.3h0.75M272.8 347.0h0.75M271.3 344.8h0.75M273.5 353.2h0.75M265.9 345.3h0.75M246.1 361.0h0.75M273.2 344.2h0.75M259.9 345.2h0.75M251.7 346.8h0.75M273.0 351.9h0.75M260.9 359.8h0.75M254.0 360.3h0.75M257.2 360.2h0.75M260.1 359.5h0.75M259.9 360.8h0.75M270.6 343.1h0.75M258.7 360.3h0.75M270.5 344.8h0.75M266.5 359.9h0.75M273.0 351.8h0.75M259.8 362.7h0.75M260.5 344.9h0.75M257.0 346.0h0.75M251.8 358.3h0.75M264.5 345.3h0.75M264.2 344.8h0.75M273.4 355.1h0.75M262.7 344.9h0.75M249.1 359.2h0.75M268.1 356.9h0.75M248.1 355.7h0.75M269.1 344.4h0.75M246.6 352.8h0.75M249.4 349.9h0.75M272.6 351.5h0.75M249.2 358.4h0.75M264.6 360.9h0.75M262.3 359.5h0.75M263.7 343.9h0.75M252.8 358.9h0.75M257.9 344.7h0.75M270.1 357.8h0.75M247.4 358.1h0.75M268.2 359.7h0.75M273.3 344.9h0.75M269.1 357.6h0.75M253.4 359.6h0.75M270.3 358.6h0.75M253.2 359.8h0.75M257.2 345.4h0.75M263.6 358.7h0.75M248.9 355.5h0.75M262.2 344.0h0.75M270.1 357.6h0.75M281.7 348.8h0.75M251.3 349.3h0.75M251.1 359.9h0.75M247.7 358.0h0.75M257.4 360.0h0.75M272.0 354.6h0.75M269.6 357.8h0.75M272.4 346.2h0.75M265.4 343.1h0.75M263.5 345.0h0.75M264.1 358.5h0.75M253.9 347.4h0.75M267.7 361.9h0.75M259.4 360.4h0.75M275.5 349.6h0.75M257.7 362.4h0.75M265.0 345.1h0.75M262.4 343.7h0.75M245.9 358.6h0.75M262.6 344.6h0.75M263.0 359.7h0.75M248.6 358.3h0.75M269.7 344.0h0.75M275.4 352.8h0.75M248.5 357.9h0.75M259.5 359.5h0.75M256.1 346.8h0.75M267.6 357.3h0.75M261.0 361.7h0.75M251.8 347.3h0.75M274.1 353.2h0.75M264.9 345.0h0.75M258.3 360.2h0.75M274.2 351.0h0.75M261.0 343.9h0.75M255.6 363.5h0.75M273.4 346.3h0.75M245.8 358.1h0.75M242.9 353.7h0.75M247.8 351.7h0.75M252.3 358.9h0.75M262.2 344.4h0.75M254.5 360.5h0.75M278.4 353.5h0.75M255.0 359.6h0.75M242.5 358.9h0.75M265.1 344.6h0.75M263.1 345.0h0.75M250.0 351.0h0.75M245.6 349.7h0.75M265.2 358.5h0.75M261.2 361.3h0.75M246.2 360.1h0.75M257.7 346.1h0.75M252.1 346.8h0.75M253.8 359.0h0.75M271.4 346.0h0.75M250.6 357.7h0.75M250.6 349.4h0.75M256.8 360.3h0.75M247.5 353.4h0.75M257.1 359.5h0.75M260.3 359.7h0.75M260.4 359.9h0.75M254.1 347.0h0.75M272.2 347.6h0.75M259.0 359.6h0.75M250.9 347.6h0.75M259.7 359.9h0.75M251.7 360.5h0.75M272.6 344.8h0.75M253.8 347.7h0.75M248.8 352.3h0.75M248.3 348.0h0.75M253.9 362.0h0.75M248.3 353.4h0.75M247.9 354.3h0.75M265.6 358.3h0.75M272.5 355.0h0.75M272.1 353.7h0.75M270.2 357.3h0.75M267.3 345.1h0.75M248.0 357.0h0.75M248.0 354.6h0.75M252.7 361.1h0.75M267.1 357.4h0.75M246.7 356.8h0.75M266.1 361.1h0.75M250.8 360.2h0.75M256.7 346.1h0.75M264.7 358.8h0.75M249.8 358.4h0.75M272.6 349.0h0.75M253.6 359.8h0.75M269.3 356.1h0.75M272.5 352.8h0.75M251.2 348.3h0.75M261.7 361.5h0.75M258.6 343.9h0.75M266.1 357.8h0.75M268.1 345.5h0.75M275.2 352.4h0.75M268.7 356.8h0.75M248.9 358.7h0.75M268.0 341.9h0.75M260.6 359.7h0.75M250.7 359.1h0.75M268.0 359.1h0.75M246.1 350.8h0.75M273.1 348.0h0.75M260.9 345.0h0.75M273.6 342.7h0.75M243.4 360.4h0.75M266.7 343.4h0.75M249.2 357.2h0.75M262.0 342.4h0.75M261.1 345.0h0.75M252.3 358.7h0.75M257.7 360.7h0.75M249.6 351.9h0.75M252.0 347.5h0.75M272.5 352.8h0.75M249.0 353.2h0.75M265.6 357.9h0.75M252.5 359.8h0.75M271.7 356.2h0.75M249.7 358.7h0.75M270.3 346.3h0.75M277.1 346.4h0.75M273.3 350.6h0.75M271.5 345.0h0.75M258.6 360.1h0.75M245.7 353.0h0.75M255.7 345.7h0.75M265.0 344.3h0.75M258.0 345.1h0.75M249.3 355.8h0.75M244.4 357.0h0.75M246.3 354.1h0.75M277.1 353.3h0.75M268.5 357.0h0.75M276.4 347.3h0.75M259.6 359.7h0.75M250.0 350.4h0.75M262.2 360.6h0.75M246.5 358.4h0.75M253.2 360.0h0.75M274.1 350.9h0.75M272.1 348.4h0.75M254.7 359.8h0.75M256.0 364.0h0.75M267.9 345.6h0.75M251.7 348.4h0.75M270.8 355.4h0.75M260.5 345.3h0.75M252.3 347.6h0.75M246.8 351.9h0.75M267.5 358.7h0.75M250.1 357.6h0.75M265.4 360.4h0.75M266.1 343.3h0.75M273.4 354.9h0.75M263.7 345.1h0.75M273.2 350.6h0.75M254.6 346.2h0.75M255.4 344.8h0.75M253.3 360.4h0.75M261.1 362.3h0.75M272.0 354.8h0.75M253.9 346.6h0.75M252.5 359.9h0.75M251.8 349.3h0.75M259.9 345.7h0.75M268.5 344.4h0.75M260.0 344.3h0.75M271.9 347.2h0.75M247.1 353.2h0.75M266.6 344.8h0.75M247.0 352.9h0.75M262.1 344.1h0.75M269.8 361.5h0.75M259.3 363.2h0.75M257.8 345.4h0.75M254.1 361.5h0.75M248.1 353.9h0.75M250.9 359.2h0.75M273.5 350.0h0.75M252.5 362.5h0.75M247.5 348.4h0.75M267.4 357.2h0.75M266.6 358.2h0.75M260.4 345.5h0.75M269.9 356.7h0.75M253.5 346.9h0.75M247.2 359.2h0.75M273.1 351.2h0.75M246.9 354.2h0.75M263.8 364.1h0.75M248.9 353.9h0.75M264.0 360.1h0.75M267.0 357.8h0.75M245.8 351.7h0.75M254.1 359.6h0.75M273.4 350.6h0.75M260.6 343.3h0.75M255.1 359.9h0.75M261.5 362.3h0.75M272.4 345.5h0.75M261.9 344.9h0.75M273.1 348.6h0.75M267.7 357.1h0.75M254.2 360.9h0.75M267.7 344.8h0.75M264.2 358.7h0.75M263.9 359.8h0.75M265.1 359.0h0.75M251.4 347.8h0.75M262.1 345.3h0.75M257.5 362.9h0.75M257.2 361.5h0.75M276.1 346.2h0.75M249.5 359.6h0.75M267.4 357.7h0.75M274.7 345.2h0.75M272.5 345.5h0.75M272.7 353.4h0.75M274.1 349.3h0.75M266.5 344.2h0.75M249.7 359.3h0.75M263.2 359.6h0.75M272.9 347.7h0.75M246.5 349.2h0.75M256.0 361.1h0.75M271.3 345.2h0.75M272.4 348.7h0.75M272.9 351.6h0.75M251.9 358.4h0.75M263.5 360.4h0.75M260.4 342.3h0.75M261.6 345.2h0.75M256.4 346.4h0.75M263.0 345.3h0.75M254.5 346.9h0.75M248.9 355.2h0.75M269.9 356.3h0.75M273.4 348.2h0.75M271.9 348.2h0.75M263.5 344.7h0.75M246.4 351.2h0.75M274.2 347.8h0.75M263.9 344.5h0.75M256.4 360.4h0.75M276.8 358.5h0.75M257.8 342.6h0.75M269.1 345.9h0.75M257.0 346.4h0.75M260.0 341.9h0.75M253.2 344.8h0.75M272.0 345.1h0.75M250.8 362.1h0.75M253.0 359.1h0.75M269.8 346.3h0.75M273.5 348.4h0.75M249.6 356.9h0.75M252.6 360.2h0.75M261.4 360.8h0.75M268.8 346.1h0.75M256.1 360.5h0.75M274.1 354.7h0.75M248.3 355.6h0.75M246.1 351.0h0.75M250.3 349.3h0.75M250.2 362.0h0.75M248.5 353.5h0.75M262.8 359.0h0.75M247.9 358.0h0.75M273.0 349.6h0.75M269.1 341.3h0.75M247.0 352.6h0.75M273.5 347.9h0.75M279.2 344.3h0.75M251.5 347.6h0.75M265.0 361.4h0.75M247.9 352.1h0.75M249.2 351.1h0.75M272.2 346.0h0.75M250.7 359.0h0.75M274.4 349.4h0.75M272.7 350.9h0.75M270.2 343.2h0.75M261.8 360.9h0.75M270.4 356.8h0.75M247.1 354.3h0.75M272.4 355.5h0.75M245.1 350.7h0.75M281.7 355.0h0.75M265.2 343.6h0.75M265.3 363.6h0.75M269.7 345.7h0.75M273.1 355.0h0.75M258.4 360.7h0.75M274.1 354.8h0.75M250.0 359.9h0.75M262.1 359.2h0.75M274.6 346.3h0.75M279.2 350.8h0.75M247.9 348.5h0.75M273.7 351.2h0.75M246.2 353.9h0.75M248.4 353.7h0.75M271.5 347.5h0.75M257.1 344.0h0.75M272.3 360.7h0.75M273.1 347.4h0.75M248.6 347.7h0.75M248.8 355.4h0.75M247.1 353.7h0.75M264.6 358.8h0.75M262.7 359.4h0.75M271.8 359.2h0.75M272.9 348.8h0.75M272.9 351.1h0.75M248.1 352.7h0.75M269.0 344.4h0.75M277.8 349.4h0.75M265.6 360.1h0.75M265.5 344.0h0.75M248.8 353.3h0.75M247.5 360.9h0.75M260.5 344.3h0.75M271.8 354.6h0.75M275.3 350.2h0.75M244.0 357.4h0.75M270.7 356.4h0.75M248.9 358.1h0.75M273.6 354.0h0.75M248.2 353.4h0.75M251.2 347.1h0.75M271.2 347.5h0.75M251.1 348.9h0.75M268.8 340.7h0.75M262.0 359.6h0.75M247.4 355.5h0.75M250.5 350.2h0.75M269.5 358.7h0.75M246.8 353.7h0.75M267.2 345.3h0.75M261.6 345.3h0.75M269.0 346.1h0.75M255.2 346.8h0.75M252.6 346.9h0.75M260.7 361.2h0.75M248.9 350.9h0.75M249.6 359.6h0.75" stroke="#000" stroke-width="0.75" fill="none" opacity="1.0"/>
<path d="M277.7 355.0h0.8M293.9 353.5h0.8M274.5 354.2h0.8M283.6 352.1h0.8M282.5 348.0h0.8M287.3 351.5h0.8M294.6 349.7h0.8M287.0 352.0h0.8M276.5 349.6h0.8M295.2 352.3h0.8M273.8 350.8h0.8M285.7 351.2h0.8M284.6 350.8h0.8M276.6 350.8h0.8M291.9 347.7h0.8M287.9 352.6h0.8M287.6 348.6h0.8M278.5 349.1h0.8M282.2 354.2h0.8M279.1 348.7h0.8M280.9 353.9h0.8M298.6 343.0h0.8M286.0 344.9h0.8M275.0 355.0h0.8M273.2 341.6h0.8M285.0 351.2h0.8M271.7 350.6h0.8M275.6 359.8h0.8M288.9 355.9h0.8M299.7 342.6h0.8M274.6 354.8h0.8M291.2 354.3h0.8M294.7 355.7h0.8M282.1 350.7h0.8M294.8 350.3h0.8M296.5 344.6h0.8M277.2 349.0h0.8M280.7 347.2h0.8M285.2 351.2h0.8M286.7 343.0h0.8M282.7 346.7h0.8M289.0 348.3h0.8M282.2 357.2h0.8M293.1 347.9h0.8M273.4 350.1h0.8M278.1 353.4h0.8M295.3 353.0h0.8M287.7 347.8h0.8M280.9 345.4h0.8M283.0 348.9h0.8M274.1 352.6h0.8M286.3 350.5h0.8M289.4 352.4h0.8M286.3 349.0h0.8M278.0 350.3h0.8M281.9 347.4h0.8M283.5 355.4h0.8M298.2 346.5h0.8M271.8 349.8h0.8M296.8 348.4h0.8M274.2 346.8h0.8M293.4 354.1h0.8M284.3 355.2h0.8M291.0 352.5h0.8M269.5 350.3h0.8M307.9 349.7h0.8M273.9 346.4h0.8M281.7 352.2h0.8M280.5 356.1h0.8M281.2 350.3h0.8M287.7 356.4h0.8M293.6 349.6h0.8M267.0 350.1h0.8M284.2 345.6h0.8M269.9 349.2h0.8M283.7 352.1h0.8M289.7 346.0h0.8M301.4 356.0h0.8M275.9 351.9h0.8M289.2 352.0h0.8M289.7 345.7h0.8M275.6 349.1h0.8M275.7 356.0h0.8M288.6 350.8h0.8M283.6 357.2h0.8M279.5 345.2h0.8M290.7 353.8h0.8M283.2 351.1h0.8M280.3 350.1h0.8M270.5 351.0h0.8M301.8 355.6h0.8M284.9 347.6h0.8M295.7 354.1h0.8M259.2 356.0h0.8M273.5 351.9h0.8M282.5 352.7h0.8M280.0 352.4h0.8M278.6 350.9h0.8M282.4 344.0h0.8M281.9 348.4h0.8M298.4 353.0h0.8M266.2 356.8h0.8M293.5 354.4h0.8M289.6 348.6h0.8M279.8 352.7h0.8M306.7 351.9h0.8M272.1 354.9h0.8M303.3 351.2h0.8M269.0 351.5h0.8M282.9 353.5h0.8M276.5 351.9h0.8M282.4 353.0h0.8M286.7 351.1h0.8M288.5 352.9h0.8M291.3 346.4h0.8M281.9 350.5h0.8M276.8 359.1h0.8M299.3 346.3h0.8M277.1 355.0h0.8M285.0 356.2h0.8M273.9 350.0h0.8M290.8 351.9h0.8M282.9 355.3h0.8M281.9 354.2h0.8M274.1 351.1h0.8M280.1 353.6h0.8M274.3 348.8h0.8M284.3 345.9h0.8M290.8 353.3h0.8M276.4 346.6h0.8M296.5 347.8h0.8M275.5 348.1h0.8M283.7 355.7h0.8M279.9 353.4h0.8M288.8 359.9h0.8M292.1 350.4h0.8M281.8 350.9h0.8M288.2 348.5h0.8M288.7 348.9h0.8M272.0 350.5h0.8M269.7 346.6h0.8M284.0 346.9h0.8M278.4 353.3h0.8M269.7 352.9h0.8M292.1 351.6h0.8M283.7 349.4h0.8M287.4 347.8h0.8M289.7 349.2h0.8M287.3 344.0h0.8M280.0 355.1h0.8M288.2 342.5h0.8M268.9 347.6h0.8M302.4 344.9h0.8M287.6 354.8h0.8M276.2 347.7h0.8M293.9 353.8h0.8M294.3 348.8h0.8M288.1 353.8h0.8M292.5 349.0h0.8M291.0 352.5h0.8M280.4 350.1h0.8M275.2 351.2h0.8M281.5 348.5h0.8M288.6 354.7h0.8M289.5 355.2h0.8M272.0 355.4h0.8M289.2 355.1h0.8M284.2 352.9h0.8M292.2 354.5h0.8M273.3 350.4h0.8M283.6 349.7h0.8M304.7 349.4h0.8M284.7 353.2h0.8M286.0 349.5h0.8M280.4 348.6h0.8M289.5 350.6h0.8M280.6 351.1h0.8M294.3 355.1h0.8M286.1 349.0h0.8M289.8 350.9h0.8M283.2 353.6h0.8M284.7 355.9h0.8M300.4 351.5h0.8M293.5 342.8h0.8M282.3 349.5h0.8M283.9 352.8h0.8M295.6 349.0h0.8M281.9 345.0h0.8M285.1 341.5h0.8M288.3 354.1h0.8M273.5 351.8h0.8M278.5 351.0h0.8M279.9 355.9h0.8M299.1 354.1h0.8M292.6 353.0h0.8M288.8 349.4h0.8M279.2 350.7h0.8M293.9 354.2h0.8M292.0 348.8h0.8M291.5 349.4h0.8M277.6 344.5h0.8M291.0 356.2h0.8M283.3 354.5h0.8M296.2 357.0h0.8M282.9 354.5h0.8M289.9 348.0h0.8M275.0 348.8h0.8M287.2 347.2h0.8M289.6 349.3h0.8M286.3 351.0h0.8M289.0 347.0h0.8M288.6 349.5h0.8M297.3 354.3h0.8M279.1 352.5h0.8M291.5 347.0h0.8M287.8 355.6h0.8M282.8 350.3h0.8M273.6 350.3h0.8M292.0 358.1h0.8M277.3 354.3h0.8M281.3 354.5h0.8M293.3 350.6h0.8M278.6 351.6h0.8M279.2 352.6h0.8M304.3 349.0h0.8M294.0 355.9h0.8M294.9 347.7h0.8M291.3 349.9h0.8M297.7 347.8h0.8M281.0 347.4h0.8M281.7 342.4h0.8M285.9 351.8h0.8M283.0 350.0h0.8M298.4 346.8h0.8M289.5 351.0h0.8M282.2 351.6h0.8M283.8 349.3h0.8M289.4 352.6h0.8M294.1 357.2h0.8M296.6 348.3h0.8M282.2 347.4h0.8M286.6 353.3h0.8M288.2 351.8h0.8M282.8 355.5h0.8M294.9 353.0h0.8M277.8 351.0h0.8M292.6 352.7h0.8M293.3 346.3h0.8M283.2 348.0h0.8M291.9 356.4h0.8M293.1 353.1h0.8M281.5 352.8h0.8M291.9 352.0h0.8M276.0 349.1h0.8M289.8 346.3h0.8M290.9 350.4h0.8M282.4 354.2h0.8M289.3 353.3h0.8M276.6 351.0h0.8M281.2 357.0h0.8M282.4 342.9h0.8M274.2 349.7h0.8M269.2 346.3h0.8M277.1 357.2h0.8M270.5 350.7h0.8M286.5 348.1h0.8M277.2 348.8h0.8M289.3 354.0h0.8M292.4 350.1h0.8M293.8 355.0h0.8M273.5 351.8h0.8M292.2 354.1h0.8M274.5 352.5h0.8M274.4 351.7h0.8M289.2 350.9h0.8M292.5 352.1h0.8M286.6 351.6h0.8M284.9 344.2h0.8M290.5 351.1h0.8M287.0 354.4h0.8M288.4 350.9h0.8M277.0 353.8h0.8M287.3 354.1h0.8M281.4 345.8h0.8M288.7 345.7h0.8M282.7 352.7h0.8M297.5 351.6h0.8M288.8 345.6h0.8M278.1 348.8h0.8M293.9 352.2h0.8M290.4 352.9h0.8M286.1 346.2h0.8M298.2 346.6h0.8M281.5 342.7h0.8M293.0 355.8h0.8M277.8 347.6h0.8M292.2 353.9h0.8M296.1 347.8h0.8M298.4 348.3h0.8M292.9 352.5h0.8M292.6 346.2h0.8M275.7 351.2h0.8M278.6 353.1h0.8M279.1 354.2h0.8M280.9 349.9h0.8M290.8 355.4h0.8M276.2 349.1h0.8M277.1 350.6h0.8M292.1 351.0h0.8M278.0 350.4h0.8M279.2 349.2h0.8M282.6 351.5h0.8M280.0 354.3h0.8M274.1 346.9h0.8M292.1 352.0h0.8M285.4 355.0h0.8M301.4 346.4h0.8M281.8 342.7h0.8M273.2 351.0h0.8M294.0 355.3h0.8M283.9 355.6h0.8M286.1 355.3h0.8M271.2 355.5h0.8M270.7 350.1h0.8M284.5 355.3h0.8M277.8 350.5h0.8M283.5 351.4h0.8M289.5 353.6h0.8M280.2 346.7h0.8M284.1 349.5h0.8M288.9 359.1h0.8M288.4 352.7h0.8M276.1 349.6h0.8M296.7 345.9h0.8M277.0 349.0h0.8M261.5 354.7h0.8M292.5 353.7h0.8M286.1 345.7h0.8M297.8 354.7h0.8M297.7 348.4h0.8M293.5 357.8h0.8M285.9 351.5h0.8M281.1 345.7h0.8M287.0 346.7h0.8M287.1 351.4h0.8M276.3 346.2h0.8M276.8 356.0h0.8M278.2 353.7h0.8M280.0 345.9h0.8M282.2 349.4h0.8M279.5 345.2h0.8M285.1 345.9h0.8M279.7 349.5h0.8M307.7 350.7h0.8M284.3 356.3h0.8M285.1 346.9h0.8M283.1 354.3h0.8M293.5 356.4h0.8M252.9 349.4h0.8M290.6 360.9h0.8M278.6 347.3h0.8M287.5 351.8h0.8M280.7 351.0h0.8M280.8 349.0h0.8M295.8 348.5h0.8M301.1 353.2h0.8M282.5 348.7h0.8M276.0 354.8h0.8M291.7 348.7h0.8M292.3 343.0h0.8M296.3 349.5h0.8M286.4 349.7h0.8M281.2 344.1h0.8M275.5 356.7h0.8M275.5 356.5h0.8M279.8 355.0h0.8M281.9 349.7h0.8M291.8 352.7h0.8M274.0 353.1h0.8M304.7 348.9h0.8M294.3 355.0h0.8M287.3 351.9h0.8M299.6 355.5h0.8M282.4 346.8h0.8M274.5 348.6h0.8M292.6 353.5h0.8M286.8 350.5h0.8M284.2 349.6h0.8M279.8 350.5h0.8M287.7 351.6h0.8M264.5 355.3h0.8M290.6 354.1h0.8M282.2 354.2h0.8M286.6 354.6h0.8M289.6 350.8h0.8M292.4 345.4h0.8M272.4 352.4h0.8M260.3 347.5h0.8M298.5 353.0h0.8M290.3 346.3h0.8M287.8 350.8h0.8M274.3 347.1h0.8M294.4 353.0h0.8M290.2 346.1h0.8M273.5 355.5h0.8M290.3 349.7h0.8M285.0 357.7h0.8M285.3 347.2h0.8M308.3 350.5h0.8M278.1 349.0h0.8M286.2 351.3h0.8M277.9 353.4h0.8M290.2 352.3h0.8M294.3 346.5h0.8M282.5 352.3h0.8M301.8 347.8h0.8M286.1 345.6h0.8M282.3 348.4h0.8M284.5 350.9h0.8M282.6 353.1h0.8M295.5 354.7h0.8M278.1 352.1h0.8M287.4 346.0h0.8M276.6 344.1h0.8M288.7 354.6h0.8M297.5 353.5h0.8M285.0 350.1h0.8M283.2 352.2h0.8M289.7 346.5h0.8M285.3 356.6h0.8M300.8 348.0h0.8M283.6 351.5h0.8M280.5 353.1h0.8M282.9 347.9h0.8M288.9 348.6h0.8M300.3 345.9h0.8M282.8 350.7h0.8M289.0 344.1h0.8M294.1 355.3h0.8M291.2 352.7h0.8M283.8 353.0h0.8M269.4 342.8h0.8M264.7 350.8h0.8M284.6 352.9h0.8M281.9 357.5h0.8M281.4 354.0h0.8M293.0 347.4h0.8M271.3 355.4h0.8M288.6 352.9h0.8M277.7 348.2h0.8M278.8 345.0h0.8M282.9 349.0h0.8M284.0 348.4h0.8M290.9 352.7h0.8M277.5 353.8h0.8M293.9 354.4h0.8M266.2 358.4h0.8M269.1 351.9h0.8M289.1 346.4h0.8M283.1 349.7h0.8M303.7 345.9h0.8M288.1 350.3h0.8M286.6 354.1h0.8M288.0 353.5h0.8M294.2 353.8h0.8M290.3 348.7h0.8M293.7 344.8h0.8M269.8 347.8h0.8M284.8 355.9h0.8M284.5 350.8h0.8M291.6 350.8h0.8M270.1 350.3h0.8M280.6 351.2h0.8M302.1 350.5h0.8M277.5 351.1h0.8M292.4 351.1h0.8M299.2 350.2h0.8M292.4 355.2h0.8M293.5 353.1h0.8M286.9 350.8h0.8M262.7 350.9h0.8M292.6 353.3h0.8M290.2 344.4h0.8M274.1 350.0h0.8M272.7 349.6h0.8M297.4 350.3h0.8M286.0 353.6h0.8M272.4 351.3h0.8M286.9 348.2h0.8M286.3 352.5h0.8M285.1 350.1h0.8M294.1 351.3h0.8M293.3 341.5h0.8M284.2 354.3h0.8M288.5 352.2h0.8M290.0 357.0h0.8M281.7 345.6h0.8M285.9 348.6h0.8M295.3 350.1h0.8M283.5 357.5h0.8M285.0 351.7h0.8M285.3 349.1h0.8M301.3 350.6h0.8M273.7 359.1h0.8M276.1 348.5h0.8M281.1 358.6h0.8M279.7 349.1h0.8M282.3 353.8h0.8M275.6 358.5h0.8M274.5 348.6h0.8M284.9 349.7h0.8M273.2 347.2h0.8M302.1 355.1h0.8M283.4 351.0h0.8M293.6 350.4h0.8M295.9 342.1h0.8M291.6 351.6h0.8M277.9 351.2h0.8M283.1 347.7h0.8M276.3 351.5h0.8M286.8 346.6h0.8M272.0 355.8h0.8M260.3 355.2h0.8M287.6 352.2h0.8M279.1 343.9h0.8M292.4 352.0h0.8M283.2 345.3h0.8M272.8 349.2h0.8M292.7 347.6h0.8M280.8 352.7h0.8M277.1 356.7h0.8M290.0 348.3h0.8M287.2 360.9h0.8M292.9 352.2h0.8M274.0 354.1h0.8M297.4 352.4h0.8M290.6 351.6h0.8M271.5 353.2h0.8M289.4 355.9h0.8M289.9 351.3h0.8M283.8 352.3h0.8M288.9 346.6h0.8M289.5 347.4h0.8M283.1 350.7h0.8M291.8 349.7h0.8M274.6 345.5h0.8M278.5 352.8h0.8M286.3 344.5h0.8M292.3 349.0h0.8M279.7 354.6h0.8M274.5 348.0h0.8M290.7 346.5h0.8M284.8 357.2h0.8M287.6 344.2h0.8M292.0 353.1h0.8M290.1 348.1h0.8M286.3 351.8h0.8M284.4 350.1h0.8M279.7 354.3h0.8M289.5 354.5h0.8M284.7 349.6h0.8M279.3 355.8h0.8M277.0 347.8h0.8M283.3 354.3h0.8M293.9 349.3h0.8M282.7 354.9h0.8M293.3 354.1h0.8M296.5 349.1h0.8M301.4 351.2h0.8M285.7 351.9h0.8M283.2 355.4h0.8M310.7 351.2h0.8M284.0 351.3h0.8M275.4 341.9h0.8M290.0 351.3h0.8M291.0 353.3h0.8M283.4 351.6h0.8M299.1 349.6h0.8M282.5 356.0h0.8M269.9 351.9h0.8M286.3 360.0h0.8M283.6 346.0h0.8M273.7 348.9h0.8M302.7 352.1h0.8M279.4 351.2h0.8M276.4 355.5h0.8M286.3 348.5h0.8M265.9 358.1h0.8M292.8 352.4h0.8M298.0 349.3h0.8M275.8 350.5h0.8M297.9 353.6h0.8M283.2 352.2h0.8M288.6 350.7h0.8M272.2 352.1h0.8M276.8 350.1h0.8M284.6 348.3h0.8M282.3 347.4h0.8M301.3 349.5h0.8M288.1 358.5h0.8M277.7 352.1h0.8M288.2 352.8h0.8M290.8 351.6h0.8M275.2 354.5h0.8M295.8 347.9h0.8M304.9 349.0h0.8M289.7 348.8h0.8M295.9 352.3h0.8M268.9 358.5h0.8M305.3 352.4h0.8M282.4 356.3h0.8M283.7 346.9h0.8M287.3 344.2h0.8M296.2 355.6h0.8M300.8 350.4h0.8M275.4 348.3h0.8M293.9 353.7h0.8M283.2 353.5h0.8M291.0 349.8h0.8M290.4 357.7h0.8" stroke="#000" stroke-width="0.8" fill="none" opacity="1.0"/>
<path d="M294.3 351.1h0.8M302.1 355.8h0.8M294.8 354.0h0.8M297.7 350.8h0.8M298.7 352.8h0.8M298.5 351.7h0.8M301.2 351.1h0.8M298.4 353.8h0.8M293.6 352.6h0.8M301.6 352.9h0.8M296.5 351.4h0.8M301.8 350.2h0.8M297.6 349.4h0.8M297.5 353.5h0.8M299.8 353.0h0.8M303.3 351.3h0.8M303.2 354.6h0.8M297.2 353.1h0.8M300.0 350.4h0.8M297.6 348.8h0.8M298.7 350.9h0.8M302.6 354.3h0.8M297.6 350.8h0.8M302.5 351.0h0.8M301.2 351.9h0.8M303.1 346.9h0.8M300.3 353.2h0.8M297.3 352.3h0.8M298.5 351.5h0.8M300.6 352.2h0.8M301.3 353.2h0.8M300.3 349.4h0.8M301.3 354.3h0.8M306.1 351.5h0.8M302.1 354.3h0.8M304.0 354.0h0.8M297.8 354.5h0.8M301.9 350.9h0.8M299.1 352.6h0.8M297.6 349.4h0.8M299.0 351.2h0.8M298.4 353.4h0.8M300.2 352.8h0.8M300.2 355.9h0.8M301.9 350.0h0.8M298.5 353.6h0.8M300.7 351.4h0.8M304.2 355.2h0.8M298.6 356.9h0.8M299.2 352.9h0.8M297.3 355.6h0.8M301.7 349.9h0.8M296.7 351.6h0.8M296.1 355.9h0.8M298.5 352.6h0.8M297.3 351.0h0.8M297.0 356.4h0.8M298.0 350.1h0.8M301.0 351.4h0.8M302.5 356.9h0.8M302.8 354.1h0.8M299.2 352.9h0.8M303.4 351.0h0.8M298.7 353.2h0.8M298.6 348.7h0.8M299.3 352.5h0.8M297.5 354.0h0.8M298.0 355.2h0.8M297.7 352.3h0.8M298.1 351.7h0.8M297.7 346.7h0.8M299.7 353.2h0.8M297.8 351.3h0.8M301.8 353.5h0.8M301.0 354.8h0.8M297.7 352.0h0.8M302.2 350.6h0.8M300.7 348.6h0.8M299.4 353.4h0.8M298.7 354.3h0.8M299.4 351.0h0.8M299.5 352.4h0.8M301.4 347.6h0.8M296.6 350.5h0.8M297.4 352.8h0.8M299.4 352.1h0.8M299.8 354.3h0.8M297.6 354.4h0.8M301.0 353.6h0.8M301.2 351.4h0.8M299.7 352.0h0.8M306.2 351.0h0.8M307.0 348.6h0.8M302.5 351.7h0.8M300.1 350.8h0.8M300.2 350.9h0.8M302.3 349.3h0.8M297.7 348.8h0.8M297.3 355.2h0.8M302.8 350.7h0.8M298.7 350.7h0.8M296.2 353.8h0.8M296.7 350.7h0.8M299.8 352.3h0.8M294.7 352.4h0.8M300.9 351.9h0.8M301.6 351.8h0.8M302.2 351.7h0.8M300.6 349.5h0.8M298.9 351.4h0.8M303.3 355.2h0.8M302.9 353.0h0.8M303.0 351.1h0.8M295.9 350.6h0.8M300.0 350.4h0.8M301.2 353.1h0.8M298.3 351.0h0.8M297.7 353.8h0.8M297.4 354.4h0.8M302.5 351.1h0.8M300.1 350.6h0.8M303.5 349.5h0.8M299.9 352.2h0.8M297.8 352.7h0.8M301.1 352.1h0.8M300.8 349.9h0.8M297.5 350.2h0.8M305.3 355.6h0.8M302.1 351.2h0.8M303.3 351.4h0.8M298.4 352.5h0.8M300.2 352.0h0.8M297.5 352.9h0.8M299.2 350.0h0.8M301.9 352.7h0.8M302.9 352.5h0.8M303.0 350.8h0.8M302.7 351.3h0.8M296.3 351.1h0.8M301.7 352.3h0.8M296.3 352.5h0.8M302.8 350.2h0.8M295.6 356.9h0.8M298.7 351.5h0.8M297.3 351.8h0.8M296.6 353.6h0.8M301.7 349.3h0.8M302.7 351.2h0.8M302.1 353.7h0.8M301.2 350.7h0.8M300.5 351.9h0.8M298.1 351.1h0.8M297.9 351.2h0.8M297.9 351.8h0.8M304.7 350.0h0.8M297.9 351.9h0.8M297.8 351.6h0.8M304.0 350.3h0.8M300.5 352.8h0.8M298.2 350.8h0.8M300.7 352.9h0.8M304.5 353.0h0.8M300.2 352.6h0.8M299.4 352.5h0.8M300.4 348.7h0.8M292.2 350.8h0.8M302.5 350.8h0.8M301.9 354.8h0.8M306.0 352.2h0.8M300.4 349.1h0.8M302.8 354.5h0.8M300.9 347.3h0.8M297.2 352.8h0.8M301.4 350.5h0.8M297.5 349.0h0.8M300.4 354.5h0.8M302.1 346.7h0.8M299.5 353.8h0.8M298.0 352.3h0.8M303.3 352.0h0.8M299.4 349.9h0.8M301.2 353.5h0.8M302.1 353.9h0.8M301.4 352.6h0.8M302.4 352.8h0.8M302.9 350.5h0.8M300.5 352.8h0.8M299.0 351.3h0.8M298.9 351.7h0.8M303.8 354.4h0.8M297.6 353.0h0.8M303.5 353.0h0.8M295.6 350.9h0.8M301.6 353.1h0.8M299.4 352.2h0.8M296.6 353.0h0.8M295.3 352.0h0.8M296.7 352.7h0.8M300.6 353.8h0.8M299.8 354.1h0.8" stroke="#000" stroke-width="0.8" fill="none" opacity="1.0"/>
<text x="142.0" y="191.8" font-size="8.6" text-anchor="middle" fill="#0a0a0a">Peptide-unpulsed</text>
<text x="142.0" y="202.0" font-size="8.8" text-anchor="middle" fill="#0a0a0a">Target cells</text>
<text x="271.2" y="191.8" font-size="8.6" text-anchor="middle" fill="#0a0a0a">Peptide-pulsed</text>
<text x="271.2" y="202.0" font-size="8.8" text-anchor="middle" fill="#0a0a0a">Target cells</text>
<text x="0.0" y="233.3" font-size="8.7" text-anchor="start" fill="#0a0a0a">Progressor</text>
<text x="0.0" y="365.8" font-size="8.7" text-anchor="start" fill="#0a0a0a">Controller</text>
<text transform="translate(70.6 321.2) rotate(-90)" font-size="8.9" text-anchor="middle" fill="#0a0a0a">Target cell fluorophore</text>
<path d="M66.1 375V425.8H172" stroke="#000" stroke-width="1.1" fill="none"/>
<path d="M61.9 375.4L70.3 375.4L66.1 367.1Z" fill="#000"/>
<path d="M171.5 421.8L171.5 429.9L180 425.85Z" fill="#000"/>
<text x="192.6" y="430.2" font-size="8.7" text-anchor="start" fill="#0a0a0a">Caspase-3 substrate</text>
<line x1="381.2" y1="191.6" x2="381.2" y2="300.1" stroke="#222" stroke-width="0.8"/>
<line x1="380.8" y1="299.7" x2="509.2" y2="299.7" stroke="#222" stroke-width="0.8"/>
<text x="374.0" y="193.9" font-size="5.6" text-anchor="middle" font-weight="bold" fill="#222">4</text>
<line x1="378.59999999999997" y1="191.9" x2="381.2" y2="191.9" stroke="#222" stroke-width="0.7"/>
<text x="374.0" y="221.0" font-size="5.6" text-anchor="middle" font-weight="bold" fill="#222">3</text>
<line x1="378.59999999999997" y1="219.0" x2="381.2" y2="219.0" stroke="#222" stroke-width="0.7"/>
<text x="374.0" y="247.7" font-size="5.6" text-anchor="middle" font-weight="bold" fill="#222">2</text>
<line x1="378.59999999999997" y1="245.7" x2="381.2" y2="245.7" stroke="#222" stroke-width="0.7"/>
<text x="374.0" y="274.7" font-size="5.6" text-anchor="middle" font-weight="bold" fill="#222">1</text>
<line x1="378.59999999999997" y1="272.7" x2="381.2" y2="272.7" stroke="#222" stroke-width="0.7"/>
<text x="374.0" y="301.7" font-size="5.6" text-anchor="middle" font-weight="bold" fill="#222">0</text>
<line x1="378.59999999999997" y1="299.7" x2="381.2" y2="299.7" stroke="#222" stroke-width="0.7"/>
<line x1="413.3" y1="299.7" x2="413.3" y2="302.6" stroke="#222" stroke-width="0.7"/>
<line x1="476.5" y1="299.7" x2="476.5" y2="302.6" stroke="#222" stroke-width="0.7"/>
<text transform="translate(351.2 247.0) rotate(-90)" font-size="8.7" text-anchor="middle" fill="#0a0a0a">Proportion of caspase-3+</text>
<text transform="translate(361.7 246.2) rotate(-90)" font-size="8.8" text-anchor="middle" fill="#0a0a0a">target cells (%)</text>
<line x1="391.9" y1="290.3" x2="434.7" y2="290.3" stroke="#222" stroke-width="0.8"/>
<line x1="456.0" y1="241.6" x2="498.8" y2="241.6" stroke="#222" stroke-width="0.8"/>
<path d="M410.80 266.20L415.80 266.20L413.30 261.60Z" fill="#000"/>
<path d="M410.80 292.10L415.80 292.10L413.30 287.50Z" fill="#000"/>
<path d="M404.20 301.80L409.20 301.80L406.70 297.20Z" fill="#000"/>
<path d="M410.80 302.10L415.80 302.10L413.30 297.50Z" fill="#000"/>
<path d="M417.40 301.80L422.40 301.80L419.90 297.20Z" fill="#000"/>
<circle cx="470.3" cy="216.8" r="2.5" fill="#fff" stroke="#222" stroke-width="0.8"/>
<circle cx="476.9" cy="222.2" r="2.5" fill="#fff" stroke="#222" stroke-width="0.8"/>
<circle cx="476.9" cy="238.0" r="2.5" fill="#fff" stroke="#222" stroke-width="0.8"/>
<circle cx="476.9" cy="255.9" r="2.5" fill="#fff" stroke="#222" stroke-width="0.8"/>
<circle cx="476.9" cy="274.1" r="2.5" fill="#fff" stroke="#222" stroke-width="0.8"/>
<text x="416.6" y="314.8" font-size="8.8" text-anchor="middle" fill="#0a0a0a">Progressor</text>
<text x="481.4" y="316.2" font-size="8.8" text-anchor="middle" fill="#0a0a0a">Controller</text>
<line x1="381.2" y1="349.8" x2="381.2" y2="449.2" stroke="#222" stroke-width="0.8"/>
<line x1="380.8" y1="449.0" x2="509.2" y2="449.0" stroke="#222" stroke-width="0.8"/>
<text x="379.2" y="352.3" font-size="6.3" text-anchor="end" font-weight="bold" fill="#222">2.5</text>
<line x1="379.5" y1="350.1" x2="381.2" y2="350.1" stroke="#222" stroke-width="0.7"/>
<text x="379.2" y="372.0" font-size="6.3" text-anchor="end" font-weight="bold" fill="#222">2.0</text>
<line x1="379.5" y1="369.8" x2="381.2" y2="369.8" stroke="#222" stroke-width="0.7"/>
<text x="379.2" y="391.8" font-size="6.3" text-anchor="end" font-weight="bold" fill="#222">1.5</text>
<line x1="379.5" y1="389.6" x2="381.2" y2="389.6" stroke="#222" stroke-width="0.7"/>
<text x="379.2" y="411.5" font-size="6.3" text-anchor="end" font-weight="bold" fill="#222">1.0</text>
<line x1="379.5" y1="409.3" x2="381.2" y2="409.3" stroke="#222" stroke-width="0.7"/>
<text x="379.2" y="431.2" font-size="6.3" text-anchor="end" font-weight="bold" fill="#222">0.5</text>
<line x1="379.5" y1="429.0" x2="381.2" y2="429.0" stroke="#222" stroke-width="0.7"/>
<text x="379.2" y="451.0" font-size="6.3" text-anchor="end" font-weight="bold" fill="#222">0.0</text>
<line x1="379.5" y1="448.8" x2="381.2" y2="448.8" stroke="#222" stroke-width="0.7"/>
<text x="381.2" y="458.2" font-size="6.3" text-anchor="middle" font-weight="bold" fill="#222">0</text>
<line x1="381.2" y1="449.0" x2="381.2" y2="450.9" stroke="#222" stroke-width="0.7"/>
<text x="412.9" y="458.2" font-size="6.3" text-anchor="middle" font-weight="bold" fill="#222">1</text>
<line x1="412.9" y1="449.0" x2="412.9" y2="450.9" stroke="#222" stroke-width="0.7"/>
<text x="444.7" y="458.2" font-size="6.3" text-anchor="middle" font-weight="bold" fill="#222">2</text>
<line x1="444.7" y1="449.0" x2="444.7" y2="450.9" stroke="#222" stroke-width="0.7"/>
<text x="476.9" y="458.2" font-size="6.3" text-anchor="middle" font-weight="bold" fill="#222">3</text>
<line x1="476.9" y1="449.0" x2="476.9" y2="450.9" stroke="#222" stroke-width="0.7"/>
<text x="509.0" y="458.2" font-size="6.3" text-anchor="middle" font-weight="bold" fill="#222">4</text>
<line x1="509.0" y1="449.0" x2="509.0" y2="450.9" stroke="#222" stroke-width="0.7"/>
<text transform="translate(365.6 397.4) rotate(-90)" font-size="8.8" text-anchor="middle" fill="#0a0a0a">Relative T/S ratio</text>
<line x1="405.5" y1="420.5" x2="479.5" y2="378.2" stroke="#222" stroke-width="1.0"/>
<path d="M405.5 410.7L424 399.8L438.6 390.3L453.1 380.9L465 372.6L479.4 360.8" stroke="#222" stroke-width="0.95" fill="none" stroke-linejoin="round" stroke-dasharray="2.5 1.5"/>
<path d="M405.5 430.7L424 419.4L438.6 411.4L453.1 404.9L465 400.2L479.4 395.2" stroke="#222" stroke-width="0.95" fill="none" stroke-linejoin="round" stroke-dasharray="2.5 1.5"/>
<path d="M379.05 430.60L383.35 430.60L381.20 426.40Z" fill="#000"/>
<path d="M379.05 437.60L383.35 437.60L381.20 433.40Z" fill="#000"/>
<path d="M379.05 439.90L383.35 439.90L381.20 435.70Z" fill="#000"/>
<path d="M390.85 430.20L395.15 430.20L393.00 426.00Z" fill="#000"/>
<path d="M409.75 400.90L414.05 400.90L411.90 396.70Z" fill="#000"/>
<path d="M422.05 437.60L426.35 437.60L424.20 433.40Z" fill="#000"/>
<path d="M431.05 408.70L435.35 408.70L433.20 404.50Z" fill="#000"/>
<path d="M452.25 400.40L456.55 400.40L454.40 396.20Z" fill="#000"/>
<path d="M470.95 387.90L475.25 387.90L473.10 383.70Z" fill="#000"/>
<path d="M477.15 366.30L481.45 366.30L479.30 362.10Z" fill="#000"/>
<text x="482.7" y="409.2" font-size="8.6" text-anchor="start" fill="#0a0a0a">R=0.8774</text>
<text x="482.7" y="419.8" font-size="8.6" text-anchor="start" fill="#0a0a0a"><tspan font-style="italic">P</tspan><tspan dx="0.5">=</tspan><tspan dx="0.9">.0008</tspan></text>
<text x="482.7" y="430.1" font-size="8.6" text-anchor="start" fill="#0a0a0a">N=10</text>
<text x="446.1" y="469.4" font-size="8.74" text-anchor="middle" fill="#0a0a0a">Proportion of caspase-3+</text>
<text x="447.4" y="480.3" font-size="8.8" text-anchor="middle" fill="#0a0a0a">target cells (%)</text>
</svg>
</body></html>
